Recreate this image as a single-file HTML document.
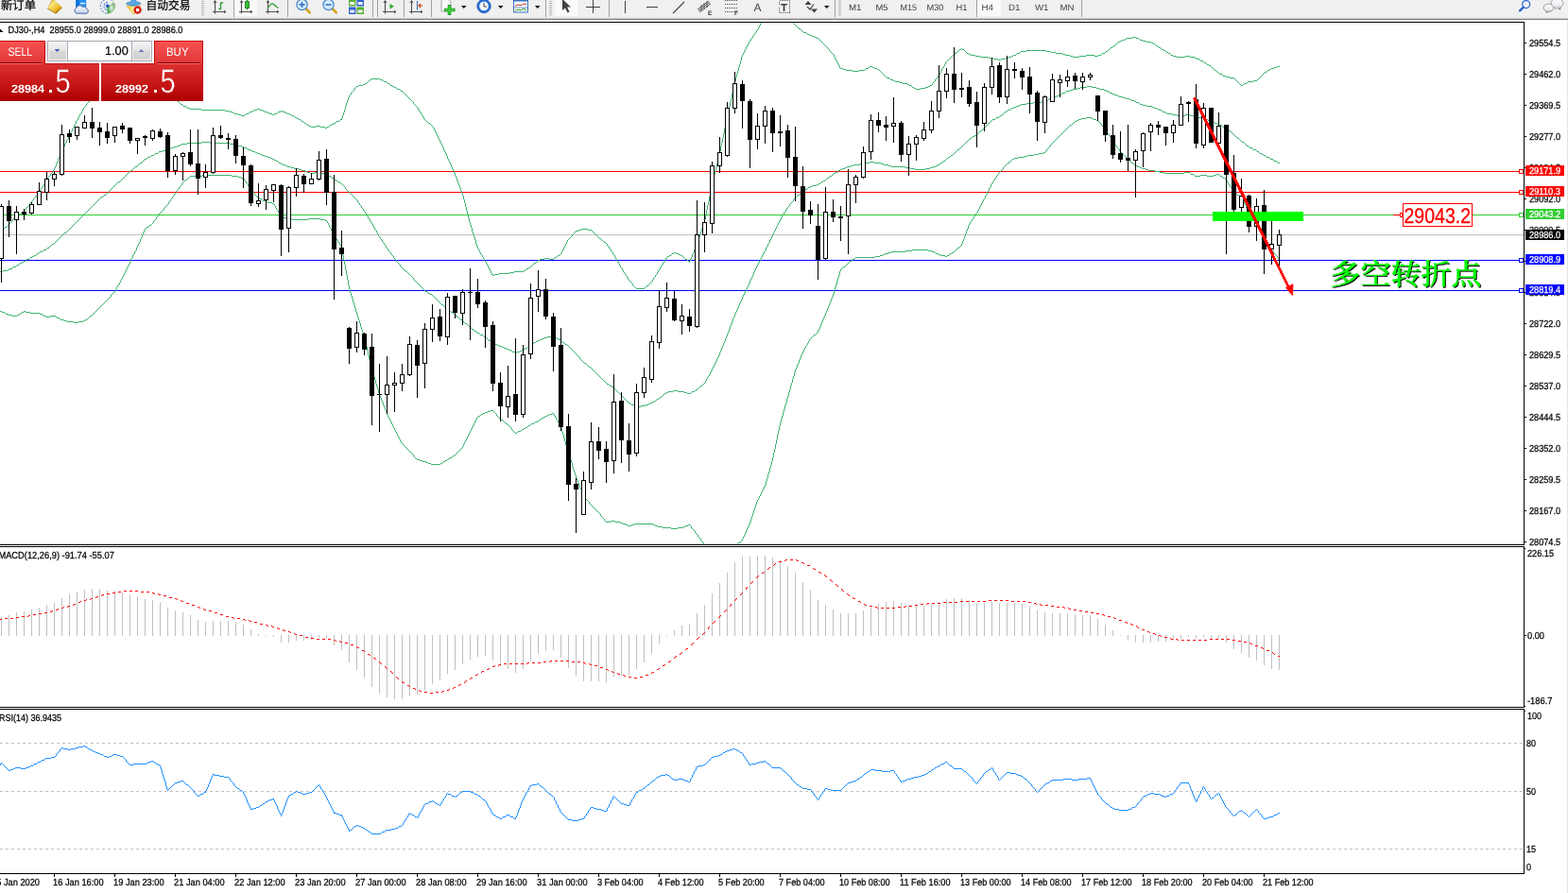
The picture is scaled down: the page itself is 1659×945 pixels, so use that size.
<!DOCTYPE html>
<html lang="zh">
<head>
<meta charset="utf-8">
<title>DJ30-,H4</title>
<style>
html,body{margin:0;padding:0;background:#fff;overflow:hidden}
svg{display:block}
svg text{white-space:pre}
</style>
</head>
<body>
<svg width="1659" height="945" viewBox="0 0 1659 945" shape-rendering="crispEdges" text-rendering="geometricPrecision" font-family="'Liberation Sans','DejaVu Sans',sans-serif">
<rect x="0" y="0" width="1659" height="945" fill="#fff" />
<clipPath id="cc"><rect x="0" y="24" width="1612" height="552"/></clipPath>
<g clip-path="url(#cc)">
<rect x="0" y="181" width="1612" height="1" fill="#ff0000" />
<rect x="0" y="203" width="1612" height="1" fill="#ff0000" />
<rect x="0" y="227" width="1612" height="1" fill="#32cd32" />
<rect x="0" y="248" width="1612" height="1" fill="#c0c0c0" />
<rect x="0" y="275" width="1612" height="1" fill="#0000ff" />
<rect x="0" y="307" width="1612" height="1" fill="#0000ff" />
<path d="M0 245h1v1h-1zM1 244h1v1h-1zM2 243h1v1h-1zM3 242h1v1h-1zM4 241h1v1h-1zM5 240h2v1h-2zM7 239h1v1h-1zM8 238h1v1h-1zM9 237h1v1h-1zM10 236h1v1h-1zM11 235h1v1h-1zM12 234h1v1h-1zM13 232h1v1h-1zM13 233h1v1h-1zM14 231h1v1h-1zM15 230h1v1h-1zM16 229h1v1h-1zM17 228h1v1h-1zM18 227h2v1h-2zM20 226h2v1h-2zM22 225h1v1h-1zM23 224h2v1h-2zM25 223h1v1h-1zM26 222h1v1h-1zM27 220h1v1h-1zM27 221h1v1h-1zM28 219h1v1h-1zM29 218h1v1h-1zM30 217h1v1h-1zM31 215h1v1h-1zM31 216h1v1h-1zM32 214h1v1h-1zM33 213h1v1h-1zM34 212h1v1h-1zM35 210h1v1h-1zM35 211h1v1h-1zM36 209h1v1h-1zM37 208h1v1h-1zM38 207h1v1h-1zM39 205h1v1h-1zM39 206h1v1h-1zM40 204h1v1h-1zM41 203h1v1h-1zM42 201h1v1h-1zM42 202h1v1h-1zM43 199h1v1h-1zM43 200h1v1h-1zM44 198h1v1h-1zM45 196h1v1h-1zM45 197h1v1h-1zM46 195h1v1h-1zM47 193h1v1h-1zM47 194h1v1h-1zM48 191h1v1h-1zM48 192h1v1h-1zM49 190h1v1h-1zM50 188h1v1h-1zM50 189h1v1h-1zM51 187h1v1h-1zM52 186h1v1h-1zM53 184h1v1h-1zM53 185h1v1h-1zM54 183h1v1h-1zM55 182h1v1h-1zM56 180h1v1h-1zM56 181h1v1h-1zM57 178h1v1h-1zM57 179h1v1h-1zM58 176h1v1h-1zM58 177h1v1h-1zM59 173h1v3h-1zM60 171h1v1h-1zM60 172h1v1h-1zM61 168h1v3h-1zM62 166h1v1h-1zM62 167h1v1h-1zM63 163h1v3h-1zM64 161h1v1h-1zM64 162h1v1h-1zM65 159h1v1h-1zM65 160h1v1h-1zM66 156h1v3h-1zM67 155h1v1h-1zM68 152h1v3h-1zM69 151h1v1h-1zM70 148h1v3h-1zM71 147h1v1h-1zM72 144h1v3h-1zM73 143h1v1h-1zM74 140h1v3h-1zM75 139h1v1h-1zM76 136h1v3h-1zM77 135h1v1h-1zM78 132h1v3h-1zM79 131h1v1h-1zM80 128h1v3h-1zM81 127h1v1h-1zM82 125h1v1h-1zM82 126h1v1h-1zM83 123h1v1h-1zM83 124h1v1h-1zM84 121h1v1h-1zM84 122h1v1h-1zM85 120h1v1h-1zM86 118h1v1h-1zM86 119h1v1h-1zM87 116h1v1h-1zM87 117h1v1h-1zM88 114h1v1h-1zM88 115h1v1h-1zM89 113h1v1h-1zM90 112h1v1h-1zM91 110h1v1h-1zM91 111h1v1h-1zM92 109h1v1h-1zM93 108h1v1h-1zM94 107h1v1h-1zM95 105h1v1h-1zM95 106h1v1h-1zM96 104h1v1h-1zM97 103h1v1h-1zM98 102h1v1h-1zM99 101h1v1h-1zM100 100h2v1h-2zM102 99h1v1h-1zM103 98h1v1h-1zM104 97h1v1h-1zM105 96h1v1h-1zM106 95h1v1h-1zM107 94h2v1h-2zM109 93h1v1h-1zM110 92h2v1h-2zM112 91h1v1h-1zM113 90h1v1h-1zM114 89h2v1h-2zM116 88h2v1h-2zM118 87h1v1h-1zM119 86h2v1h-2zM121 85h2v1h-2zM123 84h5v1h-5zM128 83h3v1h-3zM131 84h3v1h-3zM134 85h2v1h-2zM136 86h3v1h-3zM139 87h2v1h-2zM141 88h3v1h-3zM144 89h2v1h-2zM146 90h2v1h-2zM148 91h1v1h-1zM149 92h2v1h-2zM151 93h2v1h-2zM153 94h5v1h-5zM158 93h5v1h-5zM163 94h5v1h-5zM168 95h2v1h-2zM170 96h3v1h-3zM173 97h1v1h-1zM174 98h3v1h-3zM177 99h1v1h-1zM178 100h2v1h-2zM180 101h1v1h-1zM181 102h1v1h-1zM182 103h1v1h-1zM183 104h2v1h-2zM185 105h1v1h-1zM186 106h2v1h-2zM188 107h1v1h-1zM189 108h1v1h-1zM190 109h1v1h-1zM191 110h2v1h-2zM193 111h1v1h-1zM194 112h3v1h-3zM197 113h1v1h-1zM198 114h3v1h-3zM201 115h12v1h-12zM213 116h25v1h-25zM238 117h5v1h-5zM243 118h3v1h-3zM246 119h2v1h-2zM248 120h4v1h-4zM252 121h3v1h-3zM255 122h4v1h-4zM259 121h1v1h-1zM260 120h3v1h-3zM263 119h1v1h-1zM264 118h3v1h-3zM267 117h2v1h-2zM269 116h3v1h-3zM272 115h3v1h-3zM275 116h3v1h-3zM278 117h2v1h-2zM280 118h3v1h-3zM283 119h2v1h-2zM285 120h3v1h-3zM288 121h2v1h-2zM290 120h3v1h-3zM293 119h1v1h-1zM294 118h3v1h-3zM297 117h2v1h-2zM299 118h3v1h-3zM302 119h2v1h-2zM304 120h3v1h-3zM307 121h1v1h-1zM308 122h3v1h-3zM311 123h1v1h-1zM312 124h2v1h-2zM314 125h2v1h-2zM316 126h2v1h-2zM318 127h1v1h-1zM319 128h2v1h-2zM321 129h1v1h-1zM322 130h2v1h-2zM324 131h1v1h-1zM325 132h2v1h-2zM327 133h2v1h-2zM329 134h5v1h-5zM334 133h5v1h-5zM339 134h5v1h-5zM344 135h2v1h-2zM346 134h2v1h-2zM348 133h1v1h-1zM349 132h2v1h-2zM351 131h2v1h-2zM353 130h2v1h-2zM355 129h1v1h-1zM356 128h3v1h-3zM359 127h1v1h-1zM360 126h2v1h-2zM361 125h1v1h-1zM362 122h1v3h-1zM363 119h1v3h-1zM364 116h1v3h-1zM365 112h1v4h-1zM366 109h1v3h-1zM367 106h1v3h-1zM368 103h1v3h-1zM369 101h1v1h-1zM369 102h1v1h-1zM370 100h1v1h-1zM371 98h1v1h-1zM371 99h1v1h-1zM372 97h1v1h-1zM373 96h1v1h-1zM374 95h1v1h-1zM375 93h1v1h-1zM375 94h1v1h-1zM376 92h1v1h-1zM377 91h2v1h-2zM379 90h5v1h-5zM384 89h2v1h-2zM386 88h2v1h-2zM388 87h1v1h-1zM389 86h1v1h-1zM390 85h1v1h-1zM391 84h2v1h-2zM393 83h9v1h-9zM402 84h3v1h-3zM405 85h1v1h-1zM406 86h3v1h-3zM409 87h1v1h-1zM410 88h2v1h-2zM412 89h1v1h-1zM413 90h2v1h-2zM415 91h2v1h-2zM417 92h2v1h-2zM419 93h1v1h-1zM420 94h3v1h-3zM423 95h1v1h-1zM424 96h2v1h-2zM426 97h1v1h-1zM427 98h1v1h-1zM428 99h1v1h-1zM429 100h1v1h-1zM430 101h1v1h-1zM431 102h1v1h-1zM432 103h1v1h-1zM433 104h1v1h-1zM434 105h1v1h-1zM435 106h1v1h-1zM436 107h1v1h-1zM437 108h1v1h-1zM437 109h1v1h-1zM438 110h1v1h-1zM439 111h1v1h-1zM440 112h1v1h-1zM441 113h1v1h-1zM442 114h1v1h-1zM442 115h1v1h-1zM443 116h1v1h-1zM443 117h1v1h-1zM444 118h1v1h-1zM445 119h1v1h-1zM445 120h1v1h-1zM446 121h1v1h-1zM447 122h1v1h-1zM447 123h1v1h-1zM448 124h1v1h-1zM448 125h1v1h-1zM449 126h1v1h-1zM450 127h1v1h-1zM451 128h1v1h-1zM452 129h1v1h-1zM453 130h2v1h-2zM455 131h1v1h-1zM456 132h1v1h-1zM457 133h1v1h-1zM458 134h1v1h-1zM458 135h1v1h-1zM459 136h1v1h-1zM459 137h1v1h-1zM460 138h1v1h-1zM460 139h1v1h-1zM461 140h1v1h-1zM461 141h1v1h-1zM462 142h1v1h-1zM462 143h1v1h-1zM463 144h1v1h-1zM463 145h1v1h-1zM464 146h1v1h-1zM464 147h1v1h-1zM465 148h1v1h-1zM465 149h1v1h-1zM466 150h1v1h-1zM466 151h1v1h-1zM467 152h1v1h-1zM467 153h1v1h-1zM468 154h1v1h-1zM468 155h1v1h-1zM469 156h1v3h-1zM470 159h1v1h-1zM470 160h1v1h-1zM471 161h1v1h-1zM471 162h1v1h-1zM472 163h1v1h-1zM472 164h1v1h-1zM473 165h1v3h-1zM474 168h1v1h-1zM474 169h1v1h-1zM475 170h1v1h-1zM475 171h1v1h-1zM476 172h1v1h-1zM476 173h1v1h-1zM477 174h1v3h-1zM478 177h1v1h-1zM478 178h1v1h-1zM479 179h1v1h-1zM479 180h1v1h-1zM480 181h1v1h-1zM480 182h1v1h-1zM481 183h1v3h-1zM482 186h1v1h-1zM482 187h1v1h-1zM483 188h1v3h-1zM484 191h1v3h-1zM485 194h1v1h-1zM485 195h1v1h-1zM486 196h1v3h-1zM487 199h1v3h-1zM488 202h1v1h-1zM488 203h1v1h-1zM489 204h1v3h-1zM490 207h1v4h-1zM491 211h1v4h-1zM492 215h1v4h-1zM493 219h1v4h-1zM494 223h1v4h-1zM495 227h1v4h-1zM496 231h1v4h-1zM497 235h1v3h-1zM498 238h1v3h-1zM499 241h1v4h-1zM500 245h1v3h-1zM501 248h1v3h-1zM502 251h1v3h-1zM503 254h1v4h-1zM504 258h1v3h-1zM505 261h1v1h-1zM505 262h1v1h-1zM506 263h1v1h-1zM506 264h1v1h-1zM507 265h1v1h-1zM507 266h1v1h-1zM508 267h1v1h-1zM508 268h1v1h-1zM509 269h1v1h-1zM510 270h1v1h-1zM510 271h1v1h-1zM511 272h1v1h-1zM511 273h1v1h-1zM512 274h1v1h-1zM512 275h1v1h-1zM513 276h1v1h-1zM514 277h1v1h-1zM514 278h1v1h-1zM515 279h1v1h-1zM515 280h1v1h-1zM516 281h1v1h-1zM516 282h1v1h-1zM517 283h1v1h-1zM517 284h1v1h-1zM518 285h1v1h-1zM518 286h1v1h-1zM519 287h1v1h-1zM519 288h1v1h-1zM520 289h1v1h-1zM520 290h1v1h-1zM521 291h2v1h-2zM523 290h5v1h-5zM528 289h11v1h-11zM539 288h5v1h-5zM544 287h10v1h-10zM554 286h2v1h-2zM556 285h1v1h-1zM557 284h2v1h-2zM559 283h2v1h-2zM561 282h1v1h-1zM562 281h1v1h-1zM563 280h1v1h-1zM564 279h1v1h-1zM565 278h2v1h-2zM567 277h1v1h-1zM568 276h1v1h-1zM569 275h2v1h-2zM571 274h5v1h-5zM576 273h5v1h-5zM581 274h5v1h-5zM586 273h1v1h-1zM587 272h2v1h-2zM589 271h1v1h-1zM590 270h2v1h-2zM592 269h1v1h-1zM593 268h1v1h-1zM594 266h1v1h-1zM594 267h1v1h-1zM595 264h1v1h-1zM595 265h1v1h-1zM596 262h1v1h-1zM596 263h1v1h-1zM597 260h1v1h-1zM597 261h1v1h-1zM598 258h1v1h-1zM598 259h1v1h-1zM599 256h1v1h-1zM599 257h1v1h-1zM600 254h1v1h-1zM600 255h1v1h-1zM601 253h1v1h-1zM602 252h1v1h-1zM603 251h1v1h-1zM604 250h1v1h-1zM605 248h1v1h-1zM605 249h1v1h-1zM606 247h1v1h-1zM607 246h1v1h-1zM608 245h1v1h-1zM609 244h3v1h-3zM612 243h3v1h-3zM615 242h7v1h-7zM622 243h4v1h-4zM626 244h1v1h-1zM627 245h1v1h-1zM628 246h1v1h-1zM629 247h1v1h-1zM630 248h1v1h-1zM631 249h1v1h-1zM632 250h1v1h-1zM633 251h1v1h-1zM634 252h2v1h-2zM636 253h1v1h-1zM637 254h1v1h-1zM638 255h1v1h-1zM639 256h2v1h-2zM641 257h1v1h-1zM642 258h1v1h-1zM642 259h1v1h-1zM643 260h1v1h-1zM644 261h1v1h-1zM644 262h1v1h-1zM645 263h1v1h-1zM646 264h1v1h-1zM646 265h1v1h-1zM647 266h1v1h-1zM648 267h1v1h-1zM648 268h1v1h-1zM649 269h1v1h-1zM650 270h1v1h-1zM650 271h1v1h-1zM651 272h1v1h-1zM651 273h1v1h-1zM652 274h1v1h-1zM652 275h1v1h-1zM653 276h1v1h-1zM654 277h1v1h-1zM654 278h1v1h-1zM655 279h1v1h-1zM655 280h1v1h-1zM656 281h1v1h-1zM656 282h1v1h-1zM657 283h1v1h-1zM658 284h1v1h-1zM658 285h1v1h-1zM659 286h1v1h-1zM659 287h1v1h-1zM660 288h1v1h-1zM661 289h1v1h-1zM661 290h1v1h-1zM662 291h1v1h-1zM663 292h1v1h-1zM663 293h1v1h-1zM664 294h1v1h-1zM664 295h1v1h-1zM665 296h1v1h-1zM666 297h1v1h-1zM667 298h1v1h-1zM668 299h1v1h-1zM669 300h1v1h-1zM669 301h1v1h-1zM670 302h1v1h-1zM671 303h1v1h-1zM672 304h1v1h-1zM673 305h9v1h-9zM682 304h1v1h-1zM683 303h1v1h-1zM684 302h2v1h-2zM686 301h1v1h-1zM687 300h1v1h-1zM688 299h1v1h-1zM689 298h1v1h-1zM690 296h1v1h-1zM690 297h1v1h-1zM691 294h1v1h-1zM691 295h1v1h-1zM692 293h1v1h-1zM693 291h1v1h-1zM693 292h1v1h-1zM694 290h1v1h-1zM695 288h1v1h-1zM695 289h1v1h-1zM696 286h1v1h-1zM696 287h1v1h-1zM697 285h1v1h-1zM698 283h1v1h-1zM698 284h1v1h-1zM699 281h1v1h-1zM699 282h1v1h-1zM700 280h1v1h-1zM701 278h1v1h-1zM701 279h1v1h-1zM702 277h1v1h-1zM703 275h1v1h-1zM703 276h1v1h-1zM704 273h1v1h-1zM704 274h1v1h-1zM705 272h1v1h-1zM706 271h2v1h-2zM708 270h2v1h-2zM710 269h1v1h-1zM711 268h2v1h-2zM713 267h2v1h-2zM715 268h3v1h-3zM718 269h2v1h-2zM720 270h2v1h-2zM722 271h1v1h-1zM723 272h1v1h-1zM724 273h1v1h-1zM725 274h2v1h-2zM727 275h1v1h-1zM728 276h2v1h-2zM729 277h1v1h-1zM730 274h1v1h-1zM730 275h1v1h-1zM731 272h1v1h-1zM731 273h1v1h-1zM732 269h1v3h-1zM733 267h1v1h-1zM733 268h1v1h-1zM734 264h1v3h-1zM735 262h1v1h-1zM735 263h1v1h-1zM736 260h1v1h-1zM736 261h1v1h-1zM737 257h1v3h-1zM738 254h1v3h-1zM739 251h1v3h-1zM740 248h1v3h-1zM741 245h1v3h-1zM742 242h1v3h-1zM743 239h1v3h-1zM744 236h1v3h-1zM745 232h1v4h-1zM746 227h1v5h-1zM747 222h1v5h-1zM748 217h1v5h-1zM749 213h1v4h-1zM750 208h1v5h-1zM751 203h1v5h-1zM752 198h1v5h-1zM753 193h1v5h-1zM754 189h1v4h-1zM755 185h1v4h-1zM756 181h1v4h-1zM757 177h1v4h-1zM758 173h1v4h-1zM759 169h1v4h-1zM760 165h1v4h-1zM761 160h1v5h-1zM762 155h1v5h-1zM763 151h1v4h-1zM764 146h1v5h-1zM765 141h1v5h-1zM766 136h1v5h-1zM767 132h1v4h-1zM768 127h1v5h-1zM769 122h1v5h-1zM770 118h1v4h-1zM771 113h1v5h-1zM772 108h1v5h-1zM773 104h1v4h-1zM774 99h1v5h-1zM775 94h1v5h-1zM776 90h1v4h-1zM777 86h1v4h-1zM778 82h1v4h-1zM779 78h1v4h-1zM780 75h1v3h-1zM781 71h1v4h-1zM782 68h1v3h-1zM783 64h1v4h-1zM784 60h1v4h-1zM785 58h1v1h-1zM785 59h1v1h-1zM786 56h1v1h-1zM786 57h1v1h-1zM787 54h1v1h-1zM787 55h1v1h-1zM788 52h1v1h-1zM788 53h1v1h-1zM789 50h1v1h-1zM789 51h1v1h-1zM790 48h1v1h-1zM790 49h1v1h-1zM791 46h1v1h-1zM791 47h1v1h-1zM792 44h1v1h-1zM792 45h1v1h-1zM793 43h1v1h-1zM794 41h1v1h-1zM794 42h1v1h-1zM795 40h1v1h-1zM796 38h1v1h-1zM796 39h1v1h-1zM797 37h1v1h-1zM798 35h1v1h-1zM798 36h1v1h-1zM799 34h1v1h-1zM800 32h1v1h-1zM800 33h1v1h-1zM801 31h1v1h-1zM802 29h1v1h-1zM802 30h1v1h-1zM803 27h1v1h-1zM803 28h1v1h-1zM804 25h1v1h-1zM804 26h1v1h-1zM805 24h1v1h-1zM839 24h1v1h-1zM840 25h1v1h-1zM841 26h1v1h-1zM842 27h1v1h-1zM843 28h1v1h-1zM844 29h1v1h-1zM845 30h2v1h-2zM847 31h1v1h-1zM848 32h1v1h-1zM849 33h1v1h-1zM850 34h3v1h-3zM853 35h1v1h-1zM854 36h3v1h-3zM857 37h2v1h-2zM859 38h3v1h-3zM862 39h2v1h-2zM864 40h2v1h-2zM866 41h1v1h-1zM867 42h1v1h-1zM868 43h1v1h-1zM869 44h1v1h-1zM870 45h1v1h-1zM871 46h1v1h-1zM872 47h1v1h-1zM873 48h1v1h-1zM874 49h1v1h-1zM875 50h1v1h-1zM876 51h1v1h-1zM877 52h1v1h-1zM877 53h1v1h-1zM878 54h1v1h-1zM879 55h1v1h-1zM880 56h1v1h-1zM881 57h1v1h-1zM882 58h1v1h-1zM882 59h1v1h-1zM883 60h1v1h-1zM883 61h1v1h-1zM884 62h1v1h-1zM884 63h1v1h-1zM885 64h1v1h-1zM885 65h1v1h-1zM886 66h1v1h-1zM886 67h1v1h-1zM887 68h1v1h-1zM887 69h1v1h-1zM888 70h1v1h-1zM888 71h1v1h-1zM889 72h3v1h-3zM892 73h3v1h-3zM895 74h7v1h-7zM902 75h7v1h-7zM909 74h6v1h-6zM915 73h1v1h-1zM916 72h3v1h-3zM919 71h1v1h-1zM920 70h3v1h-3zM923 71h2v1h-2zM925 72h3v1h-3zM928 73h2v1h-2zM930 74h1v1h-1zM931 75h1v1h-1zM932 76h1v1h-1zM933 77h1v1h-1zM934 78h1v1h-1zM935 79h1v1h-1zM936 80h1v1h-1zM937 81h1v1h-1zM938 82h3v1h-3zM941 83h1v1h-1zM942 84h3v1h-3zM945 85h2v1h-2zM947 86h5v1h-5zM952 87h3v1h-3zM955 88h5v1h-5zM960 89h2v1h-2zM962 90h2v1h-2zM964 91h1v1h-1zM965 92h2v1h-2zM967 93h2v1h-2zM969 94h5v1h-5zM974 93h5v1h-5zM979 92h3v1h-3zM982 91h2v1h-2zM984 90h2v1h-2zM986 88h1v1h-1zM986 89h1v1h-1zM987 87h1v1h-1zM988 86h1v1h-1zM989 84h1v1h-1zM989 85h1v1h-1zM990 83h1v1h-1zM991 82h1v1h-1zM992 80h1v1h-1zM992 81h1v1h-1zM993 79h1v1h-1zM994 77h1v1h-1zM994 78h1v1h-1zM995 75h1v1h-1zM995 76h1v1h-1zM996 73h1v1h-1zM996 74h1v1h-1zM997 72h1v1h-1zM998 70h1v1h-1zM998 71h1v1h-1zM999 68h1v1h-1zM999 69h1v1h-1zM1000 66h1v1h-1zM1000 67h1v1h-1zM1001 65h1v1h-1zM1002 64h1v1h-1zM1003 63h1v1h-1zM1004 62h1v1h-1zM1005 61h1v1h-1zM1006 60h1v1h-1zM1007 59h1v1h-1zM1008 58h1v1h-1zM1009 57h1v1h-1zM1010 56h2v1h-2zM1012 55h1v1h-1zM1013 54h1v1h-1zM1014 53h1v1h-1zM1015 52h2v1h-2zM1017 51h1v1h-1zM1018 52h2v1h-2zM1020 53h1v1h-1zM1021 54h1v1h-1zM1022 55h1v1h-1zM1023 56h2v1h-2zM1025 57h2v1h-2zM1027 58h5v1h-5zM1032 59h5v1h-5zM1037 60h9v1h-9zM1046 61h5v1h-5zM1051 62h5v1h-5zM1056 63h3v1h-3zM1059 62h5v1h-5zM1064 61h3v1h-3zM1067 60h3v1h-3zM1070 59h2v1h-2zM1072 58h3v1h-3zM1075 57h1v1h-1zM1076 56h3v1h-3zM1079 55h1v1h-1zM1080 54h6v1h-6zM1086 53h21v1h-21zM1107 54h5v1h-5zM1112 55h5v1h-5zM1117 56h7v1h-7zM1124 57h3v1h-3zM1127 58h5v1h-5zM1132 59h3v1h-3zM1135 60h7v1h-7zM1142 59h7v1h-7zM1149 58h9v1h-9zM1158 59h4v1h-4zM1162 58h3v1h-3zM1165 57h1v1h-1zM1166 56h3v1h-3zM1169 55h1v1h-1zM1170 54h2v1h-2zM1172 53h1v1h-1zM1173 52h1v1h-1zM1174 51h1v1h-1zM1175 50h2v1h-2zM1177 49h1v1h-1zM1178 48h2v1h-2zM1180 47h1v1h-1zM1181 46h1v1h-1zM1182 45h1v1h-1zM1183 44h2v1h-2zM1185 43h2v1h-2zM1187 42h3v1h-3zM1190 41h2v1h-2zM1192 40h6v1h-6zM1198 39h4v1h-4zM1202 40h3v1h-3zM1205 41h1v1h-1zM1206 42h3v1h-3zM1209 43h4v1h-4zM1213 44h5v1h-5zM1218 45h2v1h-2zM1220 46h2v1h-2zM1222 47h1v1h-1zM1223 48h2v1h-2zM1225 49h1v1h-1zM1226 50h2v1h-2zM1228 51h1v1h-1zM1229 52h2v1h-2zM1231 53h2v1h-2zM1233 54h1v1h-1zM1234 55h2v1h-2zM1236 56h2v1h-2zM1238 57h1v1h-1zM1239 58h2v1h-2zM1241 59h4v1h-4zM1245 60h9v1h-9zM1254 59h5v1h-5zM1259 60h5v1h-5zM1264 61h2v1h-2zM1266 62h3v1h-3zM1269 63h1v1h-1zM1270 64h3v1h-3zM1273 65h1v1h-1zM1274 66h2v1h-2zM1276 67h1v1h-1zM1277 68h2v1h-2zM1279 69h2v1h-2zM1281 70h1v1h-1zM1282 71h1v1h-1zM1283 72h1v1h-1zM1284 73h1v1h-1zM1285 74h2v1h-2zM1287 75h1v1h-1zM1288 76h1v1h-1zM1289 77h1v1h-1zM1290 78h3v1h-3zM1293 79h1v1h-1zM1294 80h3v1h-3zM1297 81h4v1h-4zM1301 82h5v1h-5zM1306 83h1v1h-1zM1307 84h1v1h-1zM1308 85h1v1h-1zM1309 86h1v1h-1zM1310 87h1v1h-1zM1311 88h1v1h-1zM1312 89h1v1h-1zM1313 90h2v1h-2zM1315 89h1v1h-1zM1316 88h3v1h-3zM1319 87h1v1h-1zM1320 86h6v1h-6zM1326 85h4v1h-4zM1330 84h1v1h-1zM1331 83h1v1h-1zM1332 82h1v1h-1zM1333 81h1v1h-1zM1334 80h1v1h-1zM1335 79h1v1h-1zM1336 78h1v1h-1zM1337 77h1v1h-1zM1338 76h2v1h-2zM1340 75h1v1h-1zM1341 74h2v1h-2zM1343 73h2v1h-2zM1345 72h3v1h-3zM1348 71h3v1h-3zM1351 70h3v1h-3z" fill="#3cb371"/>
<path d="M0 287h3v1h-3zM3 286h5v1h-5zM8 285h2v1h-2zM10 284h3v1h-3zM13 283h1v1h-1zM14 282h3v1h-3zM17 281h1v1h-1zM18 280h2v1h-2zM20 279h1v1h-1zM21 278h2v1h-2zM23 277h2v1h-2zM25 276h2v1h-2zM27 275h1v1h-1zM28 274h3v1h-3zM31 273h1v1h-1zM32 272h2v1h-2zM34 271h2v1h-2zM36 270h2v1h-2zM38 269h1v1h-1zM39 268h2v1h-2zM41 267h1v1h-1zM42 266h3v1h-3zM45 265h1v1h-1zM46 264h3v1h-3zM49 263h1v1h-1zM50 262h2v1h-2zM52 261h1v1h-1zM53 260h1v1h-1zM54 259h1v1h-1zM55 258h2v1h-2zM57 257h1v1h-1zM58 256h1v1h-1zM59 255h1v1h-1zM60 254h1v1h-1zM61 253h1v1h-1zM62 252h1v1h-1zM63 251h1v1h-1zM64 250h1v1h-1zM65 249h1v1h-1zM66 248h1v1h-1zM67 247h1v1h-1zM68 246h2v1h-2zM70 245h1v1h-1zM71 244h1v1h-1zM72 243h1v1h-1zM73 242h1v1h-1zM74 241h1v1h-1zM75 240h1v1h-1zM76 239h1v1h-1zM77 238h1v1h-1zM78 237h1v1h-1zM79 236h1v1h-1zM80 235h1v1h-1zM81 234h1v1h-1zM82 233h1v1h-1zM83 232h1v1h-1zM84 231h1v1h-1zM85 230h1v1h-1zM86 229h1v1h-1zM87 228h1v1h-1zM88 227h1v1h-1zM89 226h1v1h-1zM90 225h1v1h-1zM91 224h1v1h-1zM92 223h1v1h-1zM93 222h1v1h-1zM94 221h1v1h-1zM95 220h1v1h-1zM96 219h1v1h-1zM97 218h1v1h-1zM98 217h1v1h-1zM99 216h1v1h-1zM100 215h1v1h-1zM101 214h1v1h-1zM102 213h1v1h-1zM103 212h1v1h-1zM104 211h1v1h-1zM105 210h1v1h-1zM106 209h1v1h-1zM107 208h2v1h-2zM109 207h1v1h-1zM110 206h2v1h-2zM112 205h1v1h-1zM113 204h1v1h-1zM114 203h1v1h-1zM115 202h1v1h-1zM116 201h1v1h-1zM117 200h1v1h-1zM118 199h1v1h-1zM119 198h1v1h-1zM120 197h1v1h-1zM121 196h1v1h-1zM122 195h1v1h-1zM123 194h1v1h-1zM124 193h1v1h-1zM125 192h2v1h-2zM127 191h1v1h-1zM128 190h1v1h-1zM129 189h1v1h-1zM130 188h1v1h-1zM131 187h1v1h-1zM132 186h1v1h-1zM133 185h1v1h-1zM134 184h1v1h-1zM135 183h1v1h-1zM136 182h1v1h-1zM137 181h1v1h-1zM138 180h2v1h-2zM140 179h1v1h-1zM141 178h1v1h-1zM142 177h1v1h-1zM143 176h2v1h-2zM145 175h1v1h-1zM146 174h1v1h-1zM147 173h1v1h-1zM148 172h2v1h-2zM150 171h1v1h-1zM151 170h1v1h-1zM152 169h1v1h-1zM153 168h2v1h-2zM155 167h1v1h-1zM156 166h3v1h-3zM159 165h1v1h-1zM160 164h3v1h-3zM163 163h1v1h-1zM164 162h3v1h-3zM167 161h1v1h-1zM168 160h4v1h-4zM172 159h3v1h-3zM175 158h4v1h-4zM179 157h2v1h-2zM181 156h3v1h-3zM184 155h3v1h-3zM187 154h3v1h-3zM190 153h2v1h-2zM192 152h6v1h-6zM198 151h15v1h-15zM213 150h9v1h-9zM222 151h21v1h-21zM243 152h5v1h-5zM248 153h3v1h-3zM251 154h5v1h-5zM256 155h2v1h-2zM258 156h3v1h-3zM261 157h1v1h-1zM262 158h3v1h-3zM265 159h2v1h-2zM267 160h3v1h-3zM270 161h2v1h-2zM272 162h3v1h-3zM275 163h2v1h-2zM277 164h3v1h-3zM280 165h3v1h-3zM283 166h3v1h-3zM286 167h2v1h-2zM288 168h2v1h-2zM290 169h2v1h-2zM292 170h2v1h-2zM294 171h1v1h-1zM295 172h2v1h-2zM297 173h2v1h-2zM299 174h3v1h-3zM302 175h2v1h-2zM304 176h4v1h-4zM308 177h3v1h-3zM311 178h5v1h-5zM316 179h3v1h-3zM319 180h4v1h-4zM323 181h2v1h-2zM325 182h3v1h-3zM328 183h5v1h-5zM333 182h7v1h-7zM340 183h3v1h-3zM343 184h3v1h-3zM346 185h2v1h-2zM348 186h2v1h-2zM350 187h1v1h-1zM351 188h2v1h-2zM353 189h1v1h-1zM354 190h2v1h-2zM356 191h1v1h-1zM357 192h2v1h-2zM359 193h2v1h-2zM361 194h1v1h-1zM362 195h1v1h-1zM363 196h1v1h-1zM364 197h1v1h-1zM365 198h1v1h-1zM365 199h1v1h-1zM366 200h1v1h-1zM367 201h1v1h-1zM368 202h1v1h-1zM369 203h1v1h-1zM370 204h1v1h-1zM371 205h1v1h-1zM372 206h1v1h-1zM373 207h1v1h-1zM374 208h1v1h-1zM375 209h1v1h-1zM376 210h1v1h-1zM377 211h1v1h-1zM378 212h1v1h-1zM378 213h1v1h-1zM379 214h1v1h-1zM380 215h1v1h-1zM380 216h1v1h-1zM381 217h1v1h-1zM382 218h1v1h-1zM382 219h1v1h-1zM383 220h1v1h-1zM384 221h1v1h-1zM384 222h1v1h-1zM385 223h1v1h-1zM386 224h1v1h-1zM386 225h1v1h-1zM387 226h1v1h-1zM387 227h1v1h-1zM388 228h1v1h-1zM389 229h1v1h-1zM389 230h1v1h-1zM390 231h1v1h-1zM391 232h1v1h-1zM391 233h1v1h-1zM392 234h1v1h-1zM392 235h1v1h-1zM393 236h1v1h-1zM394 237h1v1h-1zM394 238h1v1h-1zM395 239h1v1h-1zM395 240h1v1h-1zM396 241h1v1h-1zM396 242h1v1h-1zM397 243h1v1h-1zM398 244h1v1h-1zM398 245h1v1h-1zM399 246h1v1h-1zM399 247h1v1h-1zM400 248h1v1h-1zM400 249h1v1h-1zM401 250h1v1h-1zM402 251h1v1h-1zM402 252h1v1h-1zM403 253h1v1h-1zM404 254h1v1h-1zM404 255h1v1h-1zM405 256h1v1h-1zM406 257h1v1h-1zM406 258h1v1h-1zM407 259h1v1h-1zM408 260h1v1h-1zM408 261h1v1h-1zM409 262h1v1h-1zM410 263h1v1h-1zM410 264h1v1h-1zM411 265h1v1h-1zM412 266h1v1h-1zM413 267h1v1h-1zM413 268h1v1h-1zM414 269h1v1h-1zM415 270h1v1h-1zM416 271h1v1h-1zM416 272h1v1h-1zM417 273h1v1h-1zM418 274h1v1h-1zM419 275h1v1h-1zM419 276h1v1h-1zM420 277h1v1h-1zM421 278h1v1h-1zM422 279h1v1h-1zM423 280h1v1h-1zM423 281h1v1h-1zM424 282h1v1h-1zM425 283h1v1h-1zM426 284h1v1h-1zM427 285h1v1h-1zM428 286h2v1h-2zM430 287h1v1h-1zM431 288h1v1h-1zM432 289h1v1h-1zM433 290h1v1h-1zM434 291h1v1h-1zM435 292h1v1h-1zM436 293h1v1h-1zM437 294h1v1h-1zM437 295h1v1h-1zM438 296h1v1h-1zM439 297h1v1h-1zM440 298h1v1h-1zM441 299h1v1h-1zM442 300h1v1h-1zM443 301h1v1h-1zM444 302h1v1h-1zM445 303h1v1h-1zM446 304h1v1h-1zM447 305h1v1h-1zM448 306h1v1h-1zM449 307h1v1h-1zM450 308h2v1h-2zM452 309h1v1h-1zM453 310h2v1h-2zM455 311h2v1h-2zM457 312h1v1h-1zM458 313h1v1h-1zM459 314h1v1h-1zM460 315h1v1h-1zM461 316h1v1h-1zM462 317h1v1h-1zM463 318h1v1h-1zM464 319h1v1h-1zM465 320h1v1h-1zM466 321h1v1h-1zM467 322h2v1h-2zM469 323h1v1h-1zM470 324h2v1h-2zM472 325h1v1h-1zM473 326h1v1h-1zM474 327h1v1h-1zM475 328h1v1h-1zM476 329h1v1h-1zM477 330h2v1h-2zM479 331h1v1h-1zM480 332h1v1h-1zM481 333h1v1h-1zM482 334h2v1h-2zM484 335h1v1h-1zM485 336h1v1h-1zM486 337h1v1h-1zM487 338h2v1h-2zM489 339h1v1h-1zM490 340h1v1h-1zM491 341h1v1h-1zM492 342h2v1h-2zM494 343h1v1h-1zM495 344h1v1h-1zM496 345h1v1h-1zM497 346h1v1h-1zM498 347h1v1h-1zM499 348h2v1h-2zM501 349h1v1h-1zM502 350h2v1h-2zM504 351h1v1h-1zM505 352h2v1h-2zM507 353h1v1h-1zM508 354h3v1h-3zM511 355h1v1h-1zM512 356h2v1h-2zM514 357h1v1h-1zM515 358h1v1h-1zM516 359h1v1h-1zM517 360h2v1h-2zM519 361h1v1h-1zM520 362h1v1h-1zM521 363h2v1h-2zM523 364h3v1h-3zM526 365h2v1h-2zM528 366h3v1h-3zM531 367h2v1h-2zM533 368h3v1h-3zM536 369h2v1h-2zM538 370h3v1h-3zM541 371h1v1h-1zM542 372h3v1h-3zM545 373h2v1h-2zM547 372h3v1h-3zM550 371h2v1h-2zM552 370h2v1h-2zM554 369h2v1h-2zM556 368h2v1h-2zM558 367h1v1h-1zM559 366h2v1h-2zM561 365h1v1h-1zM562 364h2v1h-2zM564 363h1v1h-1zM565 362h2v1h-2zM567 361h2v1h-2zM569 360h2v1h-2zM571 359h2v1h-2zM573 358h3v1h-3zM576 357h3v1h-3zM579 356h5v1h-5zM584 355h2v1h-2zM586 356h2v1h-2zM588 357h1v1h-1zM589 358h2v1h-2zM591 359h2v1h-2zM593 360h1v1h-1zM594 361h1v1h-1zM595 362h2v1h-2zM597 363h1v1h-1zM598 364h2v1h-2zM600 365h1v1h-1zM601 366h1v1h-1zM602 367h1v1h-1zM603 368h1v1h-1zM604 369h1v1h-1zM605 370h1v1h-1zM606 371h1v1h-1zM607 372h1v1h-1zM608 373h1v1h-1zM609 374h1v1h-1zM610 375h1v1h-1zM611 376h1v1h-1zM612 377h1v1h-1zM613 378h1v1h-1zM613 379h1v1h-1zM614 380h1v1h-1zM615 381h1v1h-1zM616 382h1v1h-1zM617 383h1v1h-1zM618 384h2v1h-2zM620 385h1v1h-1zM621 386h1v1h-1zM622 387h1v1h-1zM623 388h2v1h-2zM625 389h1v1h-1zM626 390h1v1h-1zM627 391h1v1h-1zM628 392h1v1h-1zM629 393h1v1h-1zM630 394h1v1h-1zM631 395h1v1h-1zM632 396h1v1h-1zM633 397h1v1h-1zM634 398h1v1h-1zM635 399h1v1h-1zM636 400h1v1h-1zM637 401h1v1h-1zM638 402h1v1h-1zM639 403h1v1h-1zM640 404h1v1h-1zM641 405h1v1h-1zM642 406h2v1h-2zM644 407h1v1h-1zM645 408h2v1h-2zM647 409h2v1h-2zM649 410h1v1h-1zM650 411h1v1h-1zM651 412h1v1h-1zM652 413h1v1h-1zM653 414h1v1h-1zM654 415h1v1h-1zM655 416h1v1h-1zM656 417h1v1h-1zM657 418h1v1h-1zM658 419h1v1h-1zM659 420h1v1h-1zM660 421h1v1h-1zM661 422h1v1h-1zM662 423h1v1h-1zM663 424h1v1h-1zM664 425h1v1h-1zM665 426h2v1h-2zM667 427h1v1h-1zM668 428h3v1h-3zM671 429h1v1h-1zM672 430h6v1h-6zM678 429h5v1h-5zM683 428h3v1h-3zM686 427h2v1h-2zM688 426h2v1h-2zM690 425h2v1h-2zM692 424h2v1h-2zM694 423h1v1h-1zM695 422h2v1h-2zM697 421h1v1h-1zM698 420h2v1h-2zM700 419h1v1h-1zM701 418h1v1h-1zM702 417h1v1h-1zM703 416h2v1h-2zM705 415h2v1h-2zM707 414h5v1h-5zM712 413h5v1h-5zM717 414h7v1h-7zM724 415h3v1h-3zM727 416h4v1h-4zM731 415h1v1h-1zM732 414h3v1h-3zM735 413h1v1h-1zM736 412h2v1h-2zM738 411h1v1h-1zM739 410h1v1h-1zM740 409h1v1h-1zM741 408h2v1h-2zM743 407h1v1h-1zM744 406h1v1h-1zM745 405h1v1h-1zM746 403h1v1h-1zM746 404h1v1h-1zM747 401h1v1h-1zM747 402h1v1h-1zM748 399h1v1h-1zM748 400h1v1h-1zM749 398h1v1h-1zM750 396h1v1h-1zM750 397h1v1h-1zM751 394h1v1h-1zM751 395h1v1h-1zM752 392h1v1h-1zM752 393h1v1h-1zM753 390h1v1h-1zM753 391h1v1h-1zM754 388h1v1h-1zM754 389h1v1h-1zM755 386h1v1h-1zM755 387h1v1h-1zM756 384h1v1h-1zM756 385h1v1h-1zM757 382h1v1h-1zM757 383h1v1h-1zM758 380h1v1h-1zM758 381h1v1h-1zM759 378h1v1h-1zM759 379h1v1h-1zM760 376h1v1h-1zM760 377h1v1h-1zM761 373h1v3h-1zM762 371h1v1h-1zM762 372h1v1h-1zM763 368h1v3h-1zM764 366h1v1h-1zM764 367h1v1h-1zM765 363h1v3h-1zM766 361h1v1h-1zM766 362h1v1h-1zM767 358h1v3h-1zM768 356h1v1h-1zM768 357h1v1h-1zM769 353h1v3h-1zM770 351h1v1h-1zM770 352h1v1h-1zM771 348h1v3h-1zM772 345h1v3h-1zM773 343h1v1h-1zM773 344h1v1h-1zM774 340h1v3h-1zM775 337h1v3h-1zM776 335h1v1h-1zM776 336h1v1h-1zM777 332h1v3h-1zM778 330h1v1h-1zM778 331h1v1h-1zM779 328h1v1h-1zM779 329h1v1h-1zM780 326h1v1h-1zM780 327h1v1h-1zM781 323h1v3h-1zM782 321h1v1h-1zM782 322h1v1h-1zM783 319h1v1h-1zM783 320h1v1h-1zM784 317h1v1h-1zM784 318h1v1h-1zM785 314h1v3h-1zM786 312h1v1h-1zM786 313h1v1h-1zM787 310h1v1h-1zM787 311h1v1h-1zM788 308h1v1h-1zM788 309h1v1h-1zM789 306h1v1h-1zM789 307h1v1h-1zM790 304h1v1h-1zM790 305h1v1h-1zM791 302h1v1h-1zM791 303h1v1h-1zM792 300h1v1h-1zM792 301h1v1h-1zM793 297h1v3h-1zM794 295h1v1h-1zM794 296h1v1h-1zM795 293h1v1h-1zM795 294h1v1h-1zM796 291h1v1h-1zM796 292h1v1h-1zM797 288h1v3h-1zM798 286h1v1h-1zM798 287h1v1h-1zM799 284h1v1h-1zM799 285h1v1h-1zM800 282h1v1h-1zM800 283h1v1h-1zM801 280h1v1h-1zM801 281h1v1h-1zM802 278h1v1h-1zM802 279h1v1h-1zM803 276h1v1h-1zM803 277h1v1h-1zM804 274h1v1h-1zM804 275h1v1h-1zM805 272h1v1h-1zM805 273h1v1h-1zM806 270h1v1h-1zM806 271h1v1h-1zM807 268h1v1h-1zM807 269h1v1h-1zM808 266h1v1h-1zM808 267h1v1h-1zM809 265h1v1h-1zM810 262h1v3h-1zM811 261h1v1h-1zM812 258h1v3h-1zM813 257h1v1h-1zM814 254h1v3h-1zM815 253h1v1h-1zM816 250h1v3h-1zM817 248h1v1h-1zM817 249h1v1h-1zM818 246h1v1h-1zM818 247h1v1h-1zM819 244h1v1h-1zM819 245h1v1h-1zM820 242h1v1h-1zM820 243h1v1h-1zM821 240h1v1h-1zM821 241h1v1h-1zM822 238h1v1h-1zM822 239h1v1h-1zM823 236h1v1h-1zM823 237h1v1h-1zM824 234h1v1h-1zM824 235h1v1h-1zM825 232h1v1h-1zM825 233h1v1h-1zM826 230h1v1h-1zM826 231h1v1h-1zM827 228h1v1h-1zM827 229h1v1h-1zM828 227h1v1h-1zM829 225h1v1h-1zM829 226h1v1h-1zM830 224h1v1h-1zM831 222h1v1h-1zM831 223h1v1h-1zM832 220h1v1h-1zM832 221h1v1h-1zM833 219h1v1h-1zM834 218h1v1h-1zM835 216h1v1h-1zM835 217h1v1h-1zM836 215h1v1h-1zM837 214h1v1h-1zM838 213h1v1h-1zM839 211h1v1h-1zM839 212h1v1h-1zM840 210h1v1h-1zM841 209h1v1h-1zM842 208h1v1h-1zM843 207h1v1h-1zM844 206h2v1h-2zM846 205h1v1h-1zM847 204h1v1h-1zM848 203h1v1h-1zM849 202h1v1h-1zM850 201h2v1h-2zM852 200h2v1h-2zM854 199h1v1h-1zM855 198h2v1h-2zM857 197h2v1h-2zM859 196h5v1h-5zM864 195h2v1h-2zM866 194h2v1h-2zM868 193h1v1h-1zM869 192h2v1h-2zM871 191h2v1h-2zM873 190h1v1h-1zM874 189h1v1h-1zM875 188h2v1h-2zM877 187h1v1h-1zM878 186h2v1h-2zM880 185h1v1h-1zM881 184h1v1h-1zM882 183h2v1h-2zM884 182h2v1h-2zM886 181h1v1h-1zM887 180h2v1h-2zM889 179h2v1h-2zM891 178h3v1h-3zM894 177h2v1h-2zM896 176h4v1h-4zM900 175h3v1h-3zM903 174h7v1h-7zM910 173h5v1h-5zM915 172h5v1h-5zM920 171h5v1h-5zM925 172h7v1h-7zM932 173h3v1h-3zM935 174h5v1h-5zM940 175h3v1h-3zM943 176h15v1h-15zM958 177h5v1h-5zM963 178h5v1h-5zM968 179h11v1h-11zM979 178h5v1h-5zM984 177h3v1h-3zM987 176h3v1h-3zM990 175h2v1h-2zM992 174h2v1h-2zM994 173h1v1h-1zM995 172h2v1h-2zM997 171h1v1h-1zM998 170h2v1h-2zM1000 169h1v1h-1zM1001 168h1v1h-1zM1002 167h1v1h-1zM1003 166h2v1h-2zM1005 165h1v1h-1zM1006 164h2v1h-2zM1008 163h1v1h-1zM1009 162h1v1h-1zM1010 161h1v1h-1zM1011 160h1v1h-1zM1012 159h1v1h-1zM1013 158h2v1h-2zM1015 157h1v1h-1zM1016 156h1v1h-1zM1017 155h1v1h-1zM1018 154h1v1h-1zM1019 153h1v1h-1zM1020 152h1v1h-1zM1021 151h1v1h-1zM1022 150h1v1h-1zM1023 149h1v1h-1zM1024 148h1v1h-1zM1025 147h1v1h-1zM1026 146h2v1h-2zM1028 145h1v1h-1zM1029 144h2v1h-2zM1031 143h2v1h-2zM1033 142h1v1h-1zM1034 141h1v1h-1zM1035 140h1v1h-1zM1036 139h1v1h-1zM1037 138h2v1h-2zM1039 137h1v1h-1zM1040 136h1v1h-1zM1041 135h1v1h-1zM1042 134h1v1h-1zM1043 133h1v1h-1zM1044 132h1v1h-1zM1045 131h1v1h-1zM1046 130h1v1h-1zM1047 129h1v1h-1zM1048 128h1v1h-1zM1049 127h1v1h-1zM1050 126h3v1h-3zM1053 125h1v1h-1zM1054 124h3v1h-3zM1057 123h1v1h-1zM1058 122h2v1h-2zM1060 121h1v1h-1zM1061 120h1v1h-1zM1062 119h1v1h-1zM1063 118h2v1h-2zM1065 117h1v1h-1zM1066 116h3v1h-3zM1069 115h1v1h-1zM1070 114h3v1h-3zM1073 113h2v1h-2zM1075 112h3v1h-3zM1078 111h2v1h-2zM1080 110h6v1h-6zM1086 109h7v1h-7zM1093 108h9v1h-9zM1102 107h4v1h-4zM1106 106h3v1h-3zM1109 105h1v1h-1zM1110 104h3v1h-3zM1113 103h2v1h-2zM1115 102h3v1h-3zM1118 101h2v1h-2zM1120 100h3v1h-3zM1123 99h1v1h-1zM1124 98h3v1h-3zM1127 97h1v1h-1zM1128 96h4v1h-4zM1132 95h3v1h-3zM1135 94h5v1h-5zM1140 93h3v1h-3zM1143 92h7v1h-7zM1150 91h5v1h-5zM1155 92h5v1h-5zM1160 93h3v1h-3zM1163 94h5v1h-5zM1168 95h2v1h-2zM1170 96h3v1h-3zM1173 97h1v1h-1zM1174 98h3v1h-3zM1177 99h2v1h-2zM1179 100h3v1h-3zM1182 101h2v1h-2zM1184 102h4v1h-4zM1188 103h3v1h-3zM1191 104h4v1h-4zM1195 105h2v1h-2zM1197 106h3v1h-3zM1200 107h2v1h-2zM1202 108h3v1h-3zM1205 109h1v1h-1zM1206 110h3v1h-3zM1209 111h4v1h-4zM1213 112h6v1h-6zM1219 113h2v1h-2zM1221 114h3v1h-3zM1224 115h2v1h-2zM1226 116h3v1h-3zM1229 117h1v1h-1zM1230 118h3v1h-3zM1233 119h2v1h-2zM1235 120h5v1h-5zM1240 121h5v1h-5zM1245 122h9v1h-9zM1254 121h5v1h-5zM1259 122h5v1h-5zM1264 123h3v1h-3zM1267 124h5v1h-5zM1272 125h3v1h-3zM1275 126h3v1h-3zM1278 127h2v1h-2zM1280 128h3v1h-3zM1283 129h2v1h-2zM1285 130h3v1h-3zM1288 131h2v1h-2zM1290 132h3v1h-3zM1293 133h1v1h-1zM1294 134h3v1h-3zM1297 135h1v1h-1zM1298 136h1v1h-1zM1299 137h1v1h-1zM1300 138h2v1h-2zM1302 139h1v1h-1zM1303 140h1v1h-1zM1304 141h1v1h-1zM1305 142h1v1h-1zM1306 143h1v1h-1zM1307 144h1v1h-1zM1308 145h1v1h-1zM1309 146h2v1h-2zM1311 147h1v1h-1zM1312 148h1v1h-1zM1313 149h1v1h-1zM1314 150h2v1h-2zM1316 151h1v1h-1zM1317 152h1v1h-1zM1318 153h1v1h-1zM1319 154h2v1h-2zM1321 155h1v1h-1zM1322 156h3v1h-3zM1325 157h1v1h-1zM1326 158h3v1h-3zM1329 159h1v1h-1zM1330 160h2v1h-2zM1332 161h1v1h-1zM1333 162h2v1h-2zM1335 163h2v1h-2zM1337 164h2v1h-2zM1339 165h1v1h-1zM1340 166h3v1h-3zM1343 167h1v1h-1zM1344 168h3v1h-3zM1347 169h1v1h-1zM1348 170h3v1h-3zM1351 171h1v1h-1zM1352 172h2v1h-2z" fill="#3cb371"/>
<path d="M0 329h2v1h-2zM2 330h3v1h-3zM5 331h1v1h-1zM6 332h3v1h-3zM9 333h4v1h-4zM13 334h5v1h-5zM18 333h2v1h-2zM20 332h2v1h-2zM22 331h1v1h-1zM23 330h2v1h-2zM25 329h2v1h-2zM27 330h5v1h-5zM32 331h10v1h-10zM42 332h3v1h-3zM45 333h1v1h-1zM46 334h3v1h-3zM49 335h4v1h-4zM53 334h6v1h-6zM59 335h1v1h-1zM60 336h3v1h-3zM63 337h1v1h-1zM64 338h4v1h-4zM68 339h3v1h-3zM71 340h7v1h-7zM78 341h5v1h-5zM83 340h5v1h-5zM88 339h2v1h-2zM90 338h2v1h-2zM92 337h1v1h-1zM93 336h1v1h-1zM94 335h1v1h-1zM95 334h2v1h-2zM97 333h1v1h-1zM98 332h1v1h-1zM99 331h1v1h-1zM100 330h1v1h-1zM101 329h1v1h-1zM102 328h1v1h-1zM103 327h1v1h-1zM104 326h1v1h-1zM105 325h1v1h-1zM106 324h1v1h-1zM107 323h1v1h-1zM108 322h1v1h-1zM109 321h1v1h-1zM110 320h1v1h-1zM111 319h1v1h-1zM112 318h1v1h-1zM113 317h1v1h-1zM114 316h1v1h-1zM115 315h1v1h-1zM116 314h1v1h-1zM117 312h1v1h-1zM117 313h1v1h-1zM118 311h1v1h-1zM119 310h1v1h-1zM120 309h1v1h-1zM121 308h1v1h-1zM122 306h1v1h-1zM122 307h1v1h-1zM123 304h1v1h-1zM123 305h1v1h-1zM124 302h1v1h-1zM124 303h1v1h-1zM125 301h1v1h-1zM126 299h1v1h-1zM126 300h1v1h-1zM127 297h1v1h-1zM127 298h1v1h-1zM128 295h1v1h-1zM128 296h1v1h-1zM129 293h1v1h-1zM129 294h1v1h-1zM130 291h1v1h-1zM130 292h1v1h-1zM131 289h1v1h-1zM131 290h1v1h-1zM132 287h1v1h-1zM132 288h1v1h-1zM133 285h1v1h-1zM133 286h1v1h-1zM134 283h1v1h-1zM134 284h1v1h-1zM135 281h1v1h-1zM135 282h1v1h-1zM136 279h1v1h-1zM136 280h1v1h-1zM137 277h1v1h-1zM137 278h1v1h-1zM138 274h1v3h-1zM139 273h1v1h-1zM140 270h1v3h-1zM141 269h1v1h-1zM142 266h1v3h-1zM143 265h1v1h-1zM144 262h1v3h-1zM145 260h1v1h-1zM145 261h1v1h-1zM146 258h1v1h-1zM146 259h1v1h-1zM147 256h1v1h-1zM147 257h1v1h-1zM148 253h1v3h-1zM149 251h1v1h-1zM149 252h1v1h-1zM150 248h1v3h-1zM151 246h1v1h-1zM151 247h1v1h-1zM152 244h1v1h-1zM152 245h1v1h-1zM153 242h1v1h-1zM153 243h1v1h-1zM154 241h1v1h-1zM155 240h2v1h-2zM157 239h1v1h-1zM158 238h2v1h-2zM160 237h1v1h-1zM161 236h1v1h-1zM162 234h1v1h-1zM162 235h1v1h-1zM163 233h1v1h-1zM164 232h1v1h-1zM165 230h1v1h-1zM165 231h1v1h-1zM166 229h1v1h-1zM167 228h1v1h-1zM168 226h1v1h-1zM168 227h1v1h-1zM169 225h1v1h-1zM170 224h1v1h-1zM171 223h1v1h-1zM172 222h1v1h-1zM173 220h1v1h-1zM173 221h1v1h-1zM174 219h1v1h-1zM175 218h1v1h-1zM176 217h1v1h-1zM177 216h1v1h-1zM178 214h1v1h-1zM178 215h1v1h-1zM179 213h1v1h-1zM180 211h1v1h-1zM180 212h1v1h-1zM181 210h1v1h-1zM182 208h1v1h-1zM182 209h1v1h-1zM183 207h1v1h-1zM184 205h1v1h-1zM184 206h1v1h-1zM185 204h1v1h-1zM186 202h1v1h-1zM186 203h1v1h-1zM187 201h1v1h-1zM188 200h1v1h-1zM189 198h1v1h-1zM189 199h1v1h-1zM190 197h1v1h-1zM191 196h1v1h-1zM192 194h1v1h-1zM192 195h1v1h-1zM193 193h1v1h-1zM194 192h1v1h-1zM195 191h1v1h-1zM196 190h2v1h-2zM198 189h1v1h-1zM199 188h1v1h-1zM200 187h1v1h-1zM201 186h13v1h-13zM214 185h31v1h-31zM245 186h7v1h-7zM252 187h3v1h-3zM255 188h3v1h-3zM258 189h1v1h-1zM258 190h1v1h-1zM259 191h1v1h-1zM260 192h1v1h-1zM260 193h1v1h-1zM261 194h1v1h-1zM262 195h1v1h-1zM262 196h1v1h-1zM263 197h1v1h-1zM264 198h1v1h-1zM264 199h1v1h-1zM265 200h1v1h-1zM266 201h1v1h-1zM267 202h1v1h-1zM268 203h1v1h-1zM269 204h1v1h-1zM269 205h1v1h-1zM270 206h1v1h-1zM271 207h1v1h-1zM272 208h1v1h-1zM273 209h1v1h-1zM274 210h3v1h-3zM277 211h1v1h-1zM278 212h3v1h-3zM281 213h2v1h-2zM283 214h5v1h-5zM288 215h2v1h-2zM290 216h1v1h-1zM290 217h1v1h-1zM291 218h1v1h-1zM291 219h1v1h-1zM292 220h1v1h-1zM292 221h1v1h-1zM293 222h1v1h-1zM294 223h1v1h-1zM294 224h1v1h-1zM295 225h1v1h-1zM295 226h1v1h-1zM296 227h1v1h-1zM296 228h1v1h-1zM297 229h2v1h-2zM299 230h5v1h-5zM304 231h5v1h-5zM309 232h17v1h-17zM326 231h13v1h-13zM339 232h5v1h-5zM344 233h2v1h-2zM346 234h1v1h-1zM346 235h1v1h-1zM347 236h1v1h-1zM347 237h1v1h-1zM348 238h1v1h-1zM348 239h1v1h-1zM349 240h1v1h-1zM349 241h1v1h-1zM350 242h1v1h-1zM350 243h1v1h-1zM351 244h1v1h-1zM351 245h1v1h-1zM352 246h1v1h-1zM352 247h1v1h-1zM353 248h1v1h-1zM354 249h1v1h-1zM354 250h1v1h-1zM355 251h1v1h-1zM355 252h1v1h-1zM356 253h1v1h-1zM357 254h1v1h-1zM357 255h1v1h-1zM358 256h1v1h-1zM359 257h1v1h-1zM359 258h1v1h-1zM360 259h1v1h-1zM360 260h1v1h-1zM361 261h1v3h-1zM362 264h1v6h-1zM363 270h1v5h-1zM364 275h1v5h-1zM365 280h1v6h-1zM366 286h1v5h-1zM367 291h1v5h-1zM368 296h1v6h-1zM369 302h1v4h-1zM370 306h1v4h-1zM371 310h1v3h-1zM372 313h1v3h-1zM373 316h1v4h-1zM374 320h1v3h-1zM375 323h1v3h-1zM376 326h1v4h-1zM377 330h1v3h-1zM378 333h1v3h-1zM379 336h1v3h-1zM380 339h1v3h-1zM381 342h1v4h-1zM382 346h1v3h-1zM383 349h1v3h-1zM384 352h1v3h-1zM385 355h1v4h-1zM386 359h1v4h-1zM387 363h1v4h-1zM388 367h1v4h-1zM389 371h1v5h-1zM390 376h1v4h-1zM391 380h1v4h-1zM392 384h1v4h-1zM393 388h1v4h-1zM394 392h1v4h-1zM395 396h1v3h-1zM396 399h1v3h-1zM397 402h1v4h-1zM398 406h1v3h-1zM399 409h1v3h-1zM400 412h1v4h-1zM401 416h1v3h-1zM402 419h1v1h-1zM402 420h1v1h-1zM403 421h1v3h-1zM404 424h1v1h-1zM404 425h1v1h-1zM405 426h1v3h-1zM406 429h1v1h-1zM406 430h1v1h-1zM407 431h1v3h-1zM408 434h1v1h-1zM408 435h1v1h-1zM409 436h1v3h-1zM410 439h1v1h-1zM410 440h1v1h-1zM411 441h1v1h-1zM411 442h1v1h-1zM412 443h1v1h-1zM412 444h1v1h-1zM413 445h1v1h-1zM413 446h1v1h-1zM414 447h1v1h-1zM414 448h1v1h-1zM415 449h1v1h-1zM415 450h1v1h-1zM416 451h1v1h-1zM416 452h1v1h-1zM417 453h1v1h-1zM417 454h1v1h-1zM418 455h1v1h-1zM418 456h1v1h-1zM419 457h1v1h-1zM419 458h1v1h-1zM420 459h1v1h-1zM420 460h1v1h-1zM421 461h1v1h-1zM421 462h1v1h-1zM422 463h1v1h-1zM422 464h1v1h-1zM423 465h1v1h-1zM423 466h1v1h-1zM424 467h1v1h-1zM424 468h1v1h-1zM425 469h1v1h-1zM426 470h1v1h-1zM427 471h1v1h-1zM428 472h1v1h-1zM429 473h1v1h-1zM430 474h1v1h-1zM431 475h1v1h-1zM432 476h1v1h-1zM433 477h1v1h-1zM434 478h1v1h-1zM435 479h1v1h-1zM436 480h1v1h-1zM437 481h1v1h-1zM437 482h1v1h-1zM438 483h1v1h-1zM439 484h1v1h-1zM440 485h1v1h-1zM441 486h3v1h-3zM444 487h3v1h-3zM447 488h4v1h-4zM451 489h2v1h-2zM453 490h3v1h-3zM456 491h10v1h-10zM466 490h2v1h-2zM468 489h1v1h-1zM469 488h2v1h-2zM471 487h2v1h-2zM473 486h1v1h-1zM474 485h2v1h-2zM476 484h2v1h-2zM478 483h1v1h-1zM479 482h2v1h-2zM481 481h1v1h-1zM482 480h1v1h-1zM483 479h1v1h-1zM484 478h1v1h-1zM485 477h1v1h-1zM486 476h1v1h-1zM487 475h1v1h-1zM488 474h1v1h-1zM489 472h1v1h-1zM489 473h1v1h-1zM490 470h1v1h-1zM490 471h1v1h-1zM491 468h1v1h-1zM491 469h1v1h-1zM492 466h1v1h-1zM492 467h1v1h-1zM493 464h1v1h-1zM493 465h1v1h-1zM494 462h1v1h-1zM494 463h1v1h-1zM495 460h1v1h-1zM495 461h1v1h-1zM496 458h1v1h-1zM496 459h1v1h-1zM497 456h1v1h-1zM497 457h1v1h-1zM498 454h1v1h-1zM498 455h1v1h-1zM499 452h1v1h-1zM499 453h1v1h-1zM500 450h1v1h-1zM500 451h1v1h-1zM501 448h1v1h-1zM501 449h1v1h-1zM502 446h1v1h-1zM502 447h1v1h-1zM503 444h1v1h-1zM503 445h1v1h-1zM504 442h1v1h-1zM504 443h1v1h-1zM505 441h1v1h-1zM506 440h2v1h-2zM508 439h1v1h-1zM509 438h2v1h-2zM511 437h2v1h-2zM513 436h3v1h-3zM516 435h3v1h-3zM519 434h3v1h-3zM522 435h1v1h-1zM523 436h1v1h-1zM524 437h1v1h-1zM525 438h1v1h-1zM525 439h1v1h-1zM526 440h1v1h-1zM527 441h1v1h-1zM528 442h1v1h-1zM529 443h1v1h-1zM530 444h2v1h-2zM532 445h1v1h-1zM533 446h1v1h-1zM534 447h1v1h-1zM535 448h2v1h-2zM537 449h1v1h-1zM538 450h1v1h-1zM539 451h1v1h-1zM540 452h1v1h-1zM541 453h1v1h-1zM541 454h1v1h-1zM542 455h1v1h-1zM543 456h1v1h-1zM544 457h1v1h-1zM545 458h2v1h-2zM547 457h1v1h-1zM548 456h3v1h-3zM551 455h1v1h-1zM552 454h2v1h-2zM554 453h2v1h-2zM556 452h2v1h-2zM558 451h1v1h-1zM559 450h2v1h-2zM561 449h1v1h-1zM562 448h3v1h-3zM565 447h1v1h-1zM566 446h3v1h-3zM569 445h1v1h-1zM570 444h2v1h-2zM572 443h1v1h-1zM573 442h2v1h-2zM575 441h2v1h-2zM577 440h2v1h-2zM579 439h2v1h-2zM581 438h3v1h-3zM584 437h2v1h-2zM586 438h1v1h-1zM586 439h1v1h-1zM587 440h1v1h-1zM587 441h1v1h-1zM588 442h1v1h-1zM588 443h1v1h-1zM589 444h1v1h-1zM590 445h1v1h-1zM590 446h1v1h-1zM591 447h1v1h-1zM591 448h1v1h-1zM592 449h1v1h-1zM592 450h1v1h-1zM593 451h1v1h-1zM593 452h1v1h-1zM594 453h1v4h-1zM595 457h1v3h-1zM596 460h1v4h-1zM597 464h1v3h-1zM598 467h1v4h-1zM599 471h1v3h-1zM600 474h1v4h-1zM601 478h1v3h-1zM602 481h1v3h-1zM603 484h1v3h-1zM604 487h1v3h-1zM605 490h1v4h-1zM606 494h1v3h-1zM607 497h1v3h-1zM608 500h1v3h-1zM609 503h1v3h-1zM610 506h1v1h-1zM610 507h1v1h-1zM611 508h1v3h-1zM612 511h1v1h-1zM612 512h1v1h-1zM613 513h1v3h-1zM614 516h1v1h-1zM614 517h1v1h-1zM615 518h1v3h-1zM616 521h1v1h-1zM616 522h1v1h-1zM617 523h1v1h-1zM617 524h1v1h-1zM618 525h1v1h-1zM619 526h1v1h-1zM619 527h1v1h-1zM620 528h1v1h-1zM621 529h1v1h-1zM622 530h1v1h-1zM623 531h1v1h-1zM623 532h1v1h-1zM624 533h1v1h-1zM625 534h1v1h-1zM626 535h1v1h-1zM627 536h1v1h-1zM628 537h1v1h-1zM629 538h1v1h-1zM630 539h1v1h-1zM631 540h1v1h-1zM632 541h1v1h-1zM633 542h1v1h-1zM634 543h1v1h-1zM635 544h1v1h-1zM635 545h1v1h-1zM636 546h1v1h-1zM637 547h1v1h-1zM638 548h1v1h-1zM639 549h1v1h-1zM639 550h1v1h-1zM640 551h1v1h-1zM641 552h5v1h-5zM646 551h5v1h-5zM651 552h5v1h-5zM656 553h3v1h-3zM659 554h3v1h-3zM662 555h2v1h-2zM664 556h4v1h-4zM668 555h3v1h-3zM671 554h20v1h-20zM691 555h2v1h-2zM693 556h3v1h-3zM696 557h5v1h-5zM701 558h9v1h-9zM710 559h7v1h-7zM717 558h6v1h-6zM723 557h2v1h-2zM725 556h3v1h-3zM728 555h2v1h-2zM730 556h1v1h-1zM731 557h1v1h-1zM731 558h1v1h-1zM732 559h1v1h-1zM733 560h1v1h-1zM734 561h1v1h-1zM735 562h1v1h-1zM735 563h1v1h-1zM736 564h1v1h-1zM737 565h1v1h-1zM738 566h1v1h-1zM738 567h1v1h-1zM739 568h1v1h-1zM740 569h1v1h-1zM741 570h1v1h-1zM741 571h1v1h-1zM742 572h1v1h-1zM743 573h1v1h-1zM744 574h1v1h-1zM744 575h1v1h-1zM780 575h1v1h-1zM781 574h2v1h-2zM783 573h1v1h-1zM784 572h1v1h-1zM785 570h1v1h-1zM785 571h1v1h-1zM786 568h1v1h-1zM786 569h1v1h-1zM787 566h1v1h-1zM787 567h1v1h-1zM788 564h1v1h-1zM788 565h1v1h-1zM789 561h1v3h-1zM790 559h1v1h-1zM790 560h1v1h-1zM791 557h1v1h-1zM791 558h1v1h-1zM792 555h1v1h-1zM792 556h1v1h-1zM793 552h1v3h-1zM794 549h1v3h-1zM795 546h1v3h-1zM796 543h1v3h-1zM797 540h1v3h-1zM798 537h1v3h-1zM799 534h1v3h-1zM800 531h1v3h-1zM801 529h1v1h-1zM801 530h1v1h-1zM802 527h1v1h-1zM802 528h1v1h-1zM803 525h1v1h-1zM803 526h1v1h-1zM804 523h1v1h-1zM804 524h1v1h-1zM805 521h1v1h-1zM805 522h1v1h-1zM806 519h1v1h-1zM806 520h1v1h-1zM807 517h1v1h-1zM807 518h1v1h-1zM808 515h1v1h-1zM808 516h1v1h-1zM809 513h1v1h-1zM809 514h1v1h-1zM810 509h1v4h-1zM811 506h1v3h-1zM812 502h1v4h-1zM813 499h1v3h-1zM814 495h1v4h-1zM815 492h1v3h-1zM816 488h1v4h-1zM817 484h1v4h-1zM818 479h1v5h-1zM819 475h1v4h-1zM820 470h1v5h-1zM821 465h1v5h-1zM822 460h1v5h-1zM823 456h1v4h-1zM824 451h1v5h-1zM825 447h1v4h-1zM826 443h1v4h-1zM827 440h1v3h-1zM828 436h1v4h-1zM829 433h1v3h-1zM830 429h1v4h-1zM831 426h1v3h-1zM832 422h1v4h-1zM833 419h1v3h-1zM834 415h1v4h-1zM835 412h1v3h-1zM836 408h1v4h-1zM837 405h1v3h-1zM838 401h1v4h-1zM839 398h1v3h-1zM840 394h1v4h-1zM841 391h1v3h-1zM842 389h1v1h-1zM842 390h1v1h-1zM843 386h1v3h-1zM844 384h1v1h-1zM844 385h1v1h-1zM845 381h1v3h-1zM846 379h1v1h-1zM846 380h1v1h-1zM847 376h1v3h-1zM848 374h1v1h-1zM848 375h1v1h-1zM849 372h1v1h-1zM849 373h1v1h-1zM850 370h1v1h-1zM850 371h1v1h-1zM851 368h1v1h-1zM851 369h1v1h-1zM852 366h1v1h-1zM852 367h1v1h-1zM853 365h1v1h-1zM854 363h1v1h-1zM854 364h1v1h-1zM855 361h1v1h-1zM855 362h1v1h-1zM856 359h1v1h-1zM856 360h1v1h-1zM857 358h1v1h-1zM858 357h1v1h-1zM859 356h1v1h-1zM860 355h1v1h-1zM861 354h2v1h-2zM863 353h1v1h-1zM864 352h1v1h-1zM865 350h1v1h-1zM865 351h1v1h-1zM866 348h1v1h-1zM866 349h1v1h-1zM867 346h1v1h-1zM867 347h1v1h-1zM868 343h1v3h-1zM869 341h1v1h-1zM869 342h1v1h-1zM870 338h1v3h-1zM871 336h1v1h-1zM871 337h1v1h-1zM872 334h1v1h-1zM872 335h1v1h-1zM873 331h1v3h-1zM874 329h1v1h-1zM874 330h1v1h-1zM875 326h1v3h-1zM876 324h1v1h-1zM876 325h1v1h-1zM877 321h1v3h-1zM878 319h1v1h-1zM878 320h1v1h-1zM879 316h1v3h-1zM880 314h1v1h-1zM880 315h1v1h-1zM881 311h1v3h-1zM882 307h1v4h-1zM883 304h1v3h-1zM884 301h1v3h-1zM885 297h1v4h-1zM886 294h1v3h-1zM887 291h1v3h-1zM888 287h1v4h-1zM889 285h1v1h-1zM889 286h1v1h-1zM890 284h1v1h-1zM891 283h1v1h-1zM892 282h2v1h-2zM894 281h1v1h-1zM895 280h1v1h-1zM896 279h1v1h-1zM897 278h1v1h-1zM898 277h1v1h-1zM899 276h2v1h-2zM901 275h1v1h-1zM902 274h2v1h-2zM904 273h1v1h-1zM905 272h21v1h-21zM926 271h5v1h-5zM931 270h3v1h-3zM934 269h2v1h-2zM936 268h4v1h-4zM940 267h3v1h-3zM943 266h15v1h-15zM958 265h7v1h-7zM965 264h17v1h-17zM982 265h4v1h-4zM986 266h3v1h-3zM989 267h1v1h-1zM990 268h3v1h-3zM993 269h2v1h-2zM995 270h5v1h-5zM1000 271h2v1h-2zM1002 270h2v1h-2zM1004 269h1v1h-1zM1005 268h2v1h-2zM1007 267h2v1h-2zM1009 266h1v1h-1zM1010 265h1v1h-1zM1011 264h1v1h-1zM1012 263h1v1h-1zM1013 262h2v1h-2zM1015 261h1v1h-1zM1016 260h1v1h-1zM1017 258h1v1h-1zM1017 259h1v1h-1zM1018 255h1v3h-1zM1019 253h1v1h-1zM1019 254h1v1h-1zM1020 250h1v3h-1zM1021 247h1v3h-1zM1022 244h1v3h-1zM1023 242h1v1h-1zM1023 243h1v1h-1zM1024 239h1v3h-1zM1025 237h1v1h-1zM1025 238h1v1h-1zM1026 235h1v1h-1zM1026 236h1v1h-1zM1027 234h1v1h-1zM1028 232h1v1h-1zM1028 233h1v1h-1zM1029 231h1v1h-1zM1030 229h1v1h-1zM1030 230h1v1h-1zM1031 228h1v1h-1zM1032 226h1v1h-1zM1032 227h1v1h-1zM1033 225h1v1h-1zM1034 223h1v1h-1zM1034 224h1v1h-1zM1035 221h1v1h-1zM1035 222h1v1h-1zM1036 219h1v1h-1zM1036 220h1v1h-1zM1037 217h1v1h-1zM1037 218h1v1h-1zM1038 215h1v1h-1zM1038 216h1v1h-1zM1039 213h1v1h-1zM1039 214h1v1h-1zM1040 211h1v1h-1zM1040 212h1v1h-1zM1041 210h1v1h-1zM1042 207h1v3h-1zM1043 206h1v1h-1zM1044 203h1v3h-1zM1045 202h1v1h-1zM1046 199h1v3h-1zM1047 198h1v1h-1zM1048 195h1v3h-1zM1049 194h1v1h-1zM1050 192h1v1h-1zM1050 193h1v1h-1zM1051 191h1v1h-1zM1052 189h1v1h-1zM1052 190h1v1h-1zM1053 188h1v1h-1zM1054 186h1v1h-1zM1054 187h1v1h-1zM1055 185h1v1h-1zM1056 183h1v1h-1zM1056 184h1v1h-1zM1057 182h1v1h-1zM1058 181h1v1h-1zM1059 180h1v1h-1zM1060 179h1v1h-1zM1061 177h1v1h-1zM1061 178h1v1h-1zM1062 176h1v1h-1zM1063 175h1v1h-1zM1064 174h1v1h-1zM1065 173h1v1h-1zM1066 172h2v1h-2zM1068 171h1v1h-1zM1069 170h1v1h-1zM1070 169h1v1h-1zM1071 168h2v1h-2zM1073 167h4v1h-4zM1077 166h7v1h-7zM1084 165h3v1h-3zM1087 164h7v1h-7zM1094 163h5v1h-5zM1099 162h5v1h-5zM1104 161h2v1h-2zM1106 160h1v1h-1zM1107 158h1v1h-1zM1107 159h1v1h-1zM1108 157h1v1h-1zM1109 156h1v1h-1zM1110 155h1v1h-1zM1111 153h1v1h-1zM1111 154h1v1h-1zM1112 152h1v1h-1zM1113 151h1v1h-1zM1114 150h1v1h-1zM1115 149h1v1h-1zM1116 148h1v1h-1zM1117 147h1v1h-1zM1118 146h1v1h-1zM1119 145h1v1h-1zM1120 144h1v1h-1zM1121 143h1v1h-1zM1122 142h1v1h-1zM1123 141h1v1h-1zM1124 140h1v1h-1zM1125 139h1v1h-1zM1126 138h1v1h-1zM1127 137h1v1h-1zM1128 136h1v1h-1zM1129 135h1v1h-1zM1130 134h1v1h-1zM1131 133h1v1h-1zM1132 132h2v1h-2zM1134 131h1v1h-1zM1135 130h1v1h-1zM1136 129h1v1h-1zM1137 128h2v1h-2zM1139 127h2v1h-2zM1141 126h3v1h-3zM1144 125h5v1h-5zM1149 124h6v1h-6zM1155 125h2v1h-2zM1157 126h3v1h-3zM1160 127h2v1h-2zM1162 128h1v1h-1zM1163 129h1v1h-1zM1164 130h1v1h-1zM1165 131h1v1h-1zM1165 132h1v1h-1zM1166 133h1v1h-1zM1167 134h1v1h-1zM1168 135h1v1h-1zM1169 136h1v1h-1zM1170 137h1v1h-1zM1170 138h1v1h-1zM1171 139h1v1h-1zM1171 140h1v1h-1zM1172 141h1v1h-1zM1173 142h1v1h-1zM1173 143h1v1h-1zM1174 144h1v1h-1zM1175 145h1v1h-1zM1175 146h1v1h-1zM1176 147h1v1h-1zM1176 148h1v1h-1zM1177 149h1v1h-1zM1178 150h1v1h-1zM1178 151h1v1h-1zM1179 152h1v1h-1zM1180 153h1v1h-1zM1181 154h1v1h-1zM1181 155h1v1h-1zM1182 156h1v1h-1zM1183 157h1v1h-1zM1184 158h1v1h-1zM1184 159h1v1h-1zM1185 160h1v1h-1zM1186 161h1v1h-1zM1187 162h1v1h-1zM1188 163h1v1h-1zM1189 164h1v1h-1zM1190 165h1v1h-1zM1191 166h1v1h-1zM1192 167h1v1h-1zM1193 168h1v1h-1zM1194 169h1v1h-1zM1195 170h1v1h-1zM1196 171h1v1h-1zM1197 172h2v1h-2zM1199 173h1v1h-1zM1200 174h1v1h-1zM1201 175h2v1h-2zM1203 176h3v1h-3zM1206 177h2v1h-2zM1208 178h4v1h-4zM1212 179h3v1h-3zM1215 180h7v1h-7zM1222 181h5v1h-5zM1227 182h5v1h-5zM1232 183h21v1h-21zM1253 182h6v1h-6zM1259 183h1v1h-1zM1260 184h3v1h-3zM1263 185h1v1h-1zM1264 186h6v1h-6zM1270 185h7v1h-7zM1277 186h7v1h-7zM1284 185h3v1h-3zM1287 184h3v1h-3zM1290 185h1v1h-1zM1291 186h2v1h-2zM1293 187h1v1h-1zM1294 188h2v1h-2zM1296 189h1v1h-1zM1297 190h1v1h-1zM1298 191h1v1h-1zM1298 192h1v1h-1zM1299 193h1v1h-1zM1299 194h1v1h-1zM1300 195h1v1h-1zM1301 196h1v1h-1zM1301 197h1v1h-1zM1302 198h1v1h-1zM1303 199h1v1h-1zM1303 200h1v1h-1zM1304 201h1v1h-1zM1304 202h1v1h-1zM1305 203h1v1h-1zM1306 204h2v1h-2zM1308 205h1v1h-1zM1309 206h2v1h-2zM1311 207h2v1h-2zM1313 208h1v1h-1zM1314 209h1v3h-1zM1315 212h1v1h-1zM1316 213h1v3h-1zM1317 216h1v1h-1zM1318 217h1v3h-1zM1319 220h1v1h-1zM1320 221h1v3h-1zM1321 224h1v1h-1zM1322 225h1v1h-1zM1323 226h1v1h-1zM1324 227h1v1h-1zM1325 228h1v1h-1zM1325 229h1v1h-1zM1326 230h1v1h-1zM1327 231h1v1h-1zM1328 232h1v1h-1zM1329 233h1v1h-1zM1329 234h1v1h-1zM1330 235h1v1h-1zM1330 236h1v1h-1zM1331 237h1v1h-1zM1331 238h1v1h-1zM1332 239h1v1h-1zM1332 240h1v1h-1zM1333 241h1v3h-1zM1334 244h1v1h-1zM1334 245h1v1h-1zM1335 246h1v1h-1zM1335 247h1v1h-1zM1336 248h1v1h-1zM1336 249h1v1h-1zM1337 250h1v1h-1zM1337 251h1v1h-1zM1338 252h1v1h-1zM1338 253h1v1h-1zM1339 254h1v1h-1zM1339 255h1v1h-1zM1340 256h1v1h-1zM1341 257h1v1h-1zM1341 258h1v1h-1zM1342 259h1v1h-1zM1343 260h1v1h-1zM1343 261h1v1h-1zM1344 262h1v1h-1zM1344 263h1v1h-1zM1345 264h1v1h-1zM1346 265h1v1h-1zM1347 266h1v1h-1zM1347 267h1v1h-1zM1348 268h1v1h-1zM1349 269h1v1h-1zM1350 270h1v1h-1zM1351 271h1v1h-1zM1351 272h1v1h-1zM1352 273h1v1h-1zM1353 274h1v1h-1z" fill="#3cb371"/>
<rect x="1" y="216" width="1" height="83" fill="#000" />
<rect x="-1" y="218" width="5" height="56" fill="#000" />
<rect x="0" y="219" width="3" height="54" fill="#fff" />
<rect x="9" y="212" width="1" height="39" fill="#000" />
<rect x="7" y="218" width="5" height="16" fill="#000" />
<rect x="17" y="218" width="1" height="51" fill="#000" />
<rect x="15" y="224" width="5" height="9" fill="#000" />
<rect x="16" y="225" width="3" height="7" fill="#fff" />
<rect x="25" y="221" width="1" height="12" fill="#000" />
<rect x="23" y="224" width="5" height="3" fill="#000" />
<rect x="33" y="214" width="1" height="13" fill="#000" />
<rect x="31" y="216" width="5" height="10" fill="#000" />
<rect x="32" y="217" width="3" height="8" fill="#fff" />
<rect x="41" y="193" width="1" height="24" fill="#000" />
<rect x="39" y="202" width="5" height="15" fill="#000" />
<rect x="40" y="203" width="3" height="13" fill="#fff" />
<rect x="49" y="182" width="1" height="30" fill="#000" />
<rect x="47" y="189" width="5" height="15" fill="#000" />
<rect x="48" y="190" width="3" height="13" fill="#fff" />
<rect x="57" y="181" width="1" height="16" fill="#000" />
<rect x="55" y="184" width="5" height="6" fill="#000" />
<rect x="56" y="185" width="3" height="4" fill="#fff" />
<rect x="65" y="132" width="1" height="54" fill="#000" />
<rect x="63" y="142" width="5" height="43" fill="#000" />
<rect x="64" y="143" width="3" height="41" fill="#fff" />
<rect x="73" y="137" width="1" height="14" fill="#000" />
<rect x="71" y="141" width="5" height="4" fill="#000" />
<rect x="81" y="134" width="1" height="14" fill="#000" />
<rect x="79" y="134" width="5" height="10" fill="#000" />
<rect x="80" y="135" width="3" height="8" fill="#fff" />
<rect x="89" y="122" width="1" height="14" fill="#000" />
<rect x="87" y="129" width="5" height="7" fill="#000" />
<rect x="88" y="130" width="3" height="5" fill="#fff" />
<rect x="97" y="114" width="1" height="32" fill="#000" />
<rect x="95" y="129" width="5" height="7" fill="#000" />
<rect x="105" y="129" width="1" height="25" fill="#000" />
<rect x="103" y="135" width="5" height="5" fill="#000" />
<rect x="113" y="130" width="1" height="22" fill="#000" />
<rect x="111" y="139" width="5" height="7" fill="#000" />
<rect x="121" y="134" width="1" height="17" fill="#000" />
<rect x="119" y="134" width="5" height="10" fill="#000" />
<rect x="120" y="135" width="3" height="8" fill="#fff" />
<rect x="129" y="130" width="1" height="11" fill="#000" />
<rect x="127" y="133" width="5" height="4" fill="#000" />
<rect x="137" y="135" width="1" height="17" fill="#000" />
<rect x="135" y="135" width="5" height="14" fill="#000" />
<rect x="145" y="146" width="1" height="17" fill="#000" />
<rect x="143" y="146" width="5" height="3" fill="#000" />
<rect x="144" y="147" width="3" height="1" fill="#fff" />
<rect x="153" y="143" width="1" height="11" fill="#000" />
<rect x="151" y="144" width="5" height="2" fill="#000" />
<rect x="161" y="137" width="1" height="12" fill="#000" />
<rect x="159" y="138" width="5" height="9" fill="#000" />
<rect x="160" y="139" width="3" height="7" fill="#fff" />
<rect x="169" y="136" width="1" height="10" fill="#000" />
<rect x="167" y="139" width="5" height="6" fill="#000" />
<rect x="177" y="140" width="1" height="48" fill="#000" />
<rect x="175" y="143" width="5" height="38" fill="#000" />
<rect x="185" y="163" width="1" height="22" fill="#000" />
<rect x="183" y="165" width="5" height="16" fill="#000" />
<rect x="184" y="166" width="3" height="14" fill="#fff" />
<rect x="193" y="161" width="1" height="30" fill="#000" />
<rect x="191" y="162" width="5" height="4" fill="#000" />
<rect x="192" y="163" width="3" height="2" fill="#fff" />
<rect x="201" y="137" width="1" height="39" fill="#000" />
<rect x="199" y="161" width="5" height="13" fill="#000" />
<rect x="209" y="137" width="1" height="69" fill="#000" />
<rect x="207" y="173" width="5" height="16" fill="#000" />
<rect x="217" y="174" width="1" height="25" fill="#000" />
<rect x="215" y="182" width="5" height="6" fill="#000" />
<rect x="216" y="183" width="3" height="4" fill="#fff" />
<rect x="225" y="135" width="1" height="49" fill="#000" />
<rect x="223" y="143" width="5" height="40" fill="#000" />
<rect x="224" y="144" width="3" height="38" fill="#fff" />
<rect x="233" y="133" width="1" height="14" fill="#000" />
<rect x="231" y="143" width="5" height="3" fill="#000" />
<rect x="241" y="141" width="1" height="17" fill="#000" />
<rect x="239" y="146" width="5" height="2" fill="#000" />
<rect x="249" y="143" width="1" height="30" fill="#000" />
<rect x="247" y="147" width="5" height="18" fill="#000" />
<rect x="257" y="156" width="1" height="43" fill="#000" />
<rect x="255" y="165" width="5" height="10" fill="#000" />
<rect x="265" y="174" width="1" height="44" fill="#000" />
<rect x="263" y="175" width="5" height="40" fill="#000" />
<rect x="273" y="194" width="1" height="25" fill="#000" />
<rect x="271" y="212" width="5" height="4" fill="#000" />
<rect x="272" y="213" width="3" height="2" fill="#fff" />
<rect x="281" y="196" width="1" height="26" fill="#000" />
<rect x="279" y="200" width="5" height="12" fill="#000" />
<rect x="280" y="201" width="3" height="10" fill="#fff" />
<rect x="289" y="195" width="1" height="19" fill="#000" />
<rect x="287" y="195" width="5" height="7" fill="#000" />
<rect x="288" y="196" width="3" height="5" fill="#fff" />
<rect x="297" y="195" width="1" height="76" fill="#000" />
<rect x="295" y="196" width="5" height="47" fill="#000" />
<rect x="305" y="197" width="1" height="70" fill="#000" />
<rect x="303" y="198" width="5" height="44" fill="#000" />
<rect x="304" y="199" width="3" height="42" fill="#fff" />
<rect x="313" y="178" width="1" height="30" fill="#000" />
<rect x="311" y="185" width="5" height="14" fill="#000" />
<rect x="312" y="186" width="3" height="12" fill="#fff" />
<rect x="321" y="184" width="1" height="20" fill="#000" />
<rect x="319" y="186" width="5" height="9" fill="#000" />
<rect x="329" y="183" width="1" height="12" fill="#000" />
<rect x="327" y="189" width="5" height="6" fill="#000" />
<rect x="328" y="190" width="3" height="4" fill="#fff" />
<rect x="337" y="160" width="1" height="31" fill="#000" />
<rect x="335" y="169" width="5" height="21" fill="#000" />
<rect x="336" y="170" width="3" height="19" fill="#fff" />
<rect x="345" y="158" width="1" height="59" fill="#000" />
<rect x="343" y="168" width="5" height="36" fill="#000" />
<rect x="353" y="185" width="1" height="132" fill="#000" />
<rect x="351" y="203" width="5" height="61" fill="#000" />
<rect x="361" y="244" width="1" height="48" fill="#000" />
<rect x="359" y="262" width="5" height="7" fill="#000" />
<rect x="369" y="346" width="1" height="39" fill="#000" />
<rect x="367" y="347" width="5" height="22" fill="#000" />
<rect x="377" y="340" width="1" height="33" fill="#000" />
<rect x="375" y="352" width="5" height="16" fill="#000" />
<rect x="376" y="353" width="3" height="14" fill="#fff" />
<rect x="385" y="352" width="1" height="24" fill="#000" />
<rect x="383" y="353" width="5" height="17" fill="#000" />
<rect x="393" y="353" width="1" height="97" fill="#000" />
<rect x="391" y="367" width="5" height="52" fill="#000" />
<rect x="401" y="385" width="1" height="72" fill="#000" />
<rect x="399" y="417" width="5" height="1" fill="#000" />
<rect x="409" y="377" width="1" height="61" fill="#000" />
<rect x="407" y="407" width="5" height="11" fill="#000" />
<rect x="408" y="408" width="3" height="9" fill="#fff" />
<rect x="417" y="394" width="1" height="42" fill="#000" />
<rect x="415" y="405" width="5" height="3" fill="#000" />
<rect x="416" y="406" width="3" height="1" fill="#fff" />
<rect x="425" y="385" width="1" height="29" fill="#000" />
<rect x="423" y="396" width="5" height="10" fill="#000" />
<rect x="424" y="397" width="3" height="8" fill="#fff" />
<rect x="433" y="356" width="1" height="42" fill="#000" />
<rect x="431" y="364" width="5" height="33" fill="#000" />
<rect x="432" y="365" width="3" height="31" fill="#fff" />
<rect x="441" y="360" width="1" height="61" fill="#000" />
<rect x="439" y="365" width="5" height="22" fill="#000" />
<rect x="449" y="342" width="1" height="69" fill="#000" />
<rect x="447" y="348" width="5" height="37" fill="#000" />
<rect x="448" y="349" width="3" height="35" fill="#fff" />
<rect x="457" y="322" width="1" height="40" fill="#000" />
<rect x="455" y="336" width="5" height="13" fill="#000" />
<rect x="456" y="337" width="3" height="11" fill="#fff" />
<rect x="465" y="327" width="1" height="34" fill="#000" />
<rect x="463" y="335" width="5" height="21" fill="#000" />
<rect x="473" y="310" width="1" height="55" fill="#000" />
<rect x="471" y="314" width="5" height="43" fill="#000" />
<rect x="472" y="315" width="3" height="41" fill="#fff" />
<rect x="481" y="313" width="1" height="24" fill="#000" />
<rect x="479" y="313" width="5" height="18" fill="#000" />
<rect x="489" y="306" width="1" height="38" fill="#000" />
<rect x="487" y="309" width="5" height="23" fill="#000" />
<rect x="488" y="310" width="3" height="21" fill="#fff" />
<rect x="497" y="284" width="1" height="76" fill="#000" />
<rect x="495" y="309" width="5" height="1" fill="#000" />
<rect x="505" y="295" width="1" height="31" fill="#000" />
<rect x="503" y="309" width="5" height="13" fill="#000" />
<rect x="513" y="318" width="1" height="50" fill="#000" />
<rect x="511" y="320" width="5" height="26" fill="#000" />
<rect x="521" y="340" width="1" height="74" fill="#000" />
<rect x="519" y="344" width="5" height="62" fill="#000" />
<rect x="529" y="394" width="1" height="52" fill="#000" />
<rect x="527" y="405" width="5" height="25" fill="#000" />
<rect x="537" y="387" width="1" height="55" fill="#000" />
<rect x="535" y="419" width="5" height="12" fill="#000" />
<rect x="536" y="420" width="3" height="10" fill="#fff" />
<rect x="545" y="358" width="1" height="88" fill="#000" />
<rect x="543" y="417" width="5" height="22" fill="#000" />
<rect x="553" y="365" width="1" height="77" fill="#000" />
<rect x="551" y="375" width="5" height="64" fill="#000" />
<rect x="552" y="376" width="3" height="62" fill="#fff" />
<rect x="561" y="300" width="1" height="80" fill="#000" />
<rect x="559" y="315" width="5" height="60" fill="#000" />
<rect x="560" y="316" width="3" height="58" fill="#fff" />
<rect x="569" y="286" width="1" height="44" fill="#000" />
<rect x="567" y="306" width="5" height="8" fill="#000" />
<rect x="568" y="307" width="3" height="6" fill="#fff" />
<rect x="577" y="295" width="1" height="43" fill="#000" />
<rect x="575" y="306" width="5" height="29" fill="#000" />
<rect x="585" y="331" width="1" height="62" fill="#000" />
<rect x="583" y="335" width="5" height="32" fill="#000" />
<rect x="593" y="347" width="1" height="109" fill="#000" />
<rect x="591" y="365" width="5" height="87" fill="#000" />
<rect x="601" y="438" width="1" height="92" fill="#000" />
<rect x="599" y="451" width="5" height="62" fill="#000" />
<rect x="609" y="506" width="1" height="58" fill="#000" />
<rect x="607" y="512" width="5" height="6" fill="#000" />
<rect x="617" y="499" width="1" height="46" fill="#000" />
<rect x="615" y="508" width="5" height="37" fill="#000" />
<rect x="616" y="509" width="3" height="35" fill="#fff" />
<rect x="625" y="447" width="1" height="71" fill="#000" />
<rect x="623" y="467" width="5" height="44" fill="#000" />
<rect x="624" y="468" width="3" height="42" fill="#fff" />
<rect x="633" y="452" width="1" height="34" fill="#000" />
<rect x="631" y="467" width="5" height="10" fill="#000" />
<rect x="641" y="467" width="1" height="44" fill="#000" />
<rect x="639" y="475" width="5" height="14" fill="#000" />
<rect x="649" y="396" width="1" height="105" fill="#000" />
<rect x="647" y="425" width="5" height="63" fill="#000" />
<rect x="648" y="426" width="3" height="61" fill="#fff" />
<rect x="657" y="415" width="1" height="75" fill="#000" />
<rect x="655" y="424" width="5" height="42" fill="#000" />
<rect x="665" y="448" width="1" height="51" fill="#000" />
<rect x="663" y="466" width="5" height="15" fill="#000" />
<rect x="673" y="406" width="1" height="77" fill="#000" />
<rect x="671" y="415" width="5" height="65" fill="#000" />
<rect x="672" y="416" width="3" height="63" fill="#fff" />
<rect x="681" y="389" width="1" height="32" fill="#000" />
<rect x="679" y="399" width="5" height="17" fill="#000" />
<rect x="680" y="400" width="3" height="15" fill="#fff" />
<rect x="689" y="355" width="1" height="50" fill="#000" />
<rect x="687" y="361" width="5" height="41" fill="#000" />
<rect x="688" y="362" width="3" height="39" fill="#fff" />
<rect x="697" y="307" width="1" height="62" fill="#000" />
<rect x="695" y="324" width="5" height="39" fill="#000" />
<rect x="696" y="325" width="3" height="37" fill="#fff" />
<rect x="705" y="299" width="1" height="31" fill="#000" />
<rect x="703" y="315" width="5" height="11" fill="#000" />
<rect x="704" y="316" width="3" height="9" fill="#fff" />
<rect x="713" y="308" width="1" height="32" fill="#000" />
<rect x="711" y="316" width="5" height="23" fill="#000" />
<rect x="721" y="322" width="1" height="32" fill="#000" />
<rect x="719" y="334" width="5" height="6" fill="#000" />
<rect x="720" y="335" width="3" height="4" fill="#fff" />
<rect x="729" y="327" width="1" height="24" fill="#000" />
<rect x="727" y="335" width="5" height="10" fill="#000" />
<rect x="737" y="212" width="1" height="135" fill="#000" />
<rect x="735" y="248" width="5" height="98" fill="#000" />
<rect x="736" y="249" width="3" height="96" fill="#fff" />
<rect x="745" y="214" width="1" height="53" fill="#000" />
<rect x="743" y="235" width="5" height="14" fill="#000" />
<rect x="744" y="236" width="3" height="12" fill="#fff" />
<rect x="753" y="171" width="1" height="76" fill="#000" />
<rect x="751" y="175" width="5" height="62" fill="#000" />
<rect x="752" y="176" width="3" height="60" fill="#fff" />
<rect x="761" y="145" width="1" height="38" fill="#000" />
<rect x="759" y="161" width="5" height="15" fill="#000" />
<rect x="760" y="162" width="3" height="13" fill="#fff" />
<rect x="769" y="108" width="1" height="58" fill="#000" />
<rect x="767" y="114" width="5" height="51" fill="#000" />
<rect x="768" y="115" width="3" height="49" fill="#fff" />
<rect x="777" y="76" width="1" height="44" fill="#000" />
<rect x="775" y="88" width="5" height="27" fill="#000" />
<rect x="776" y="89" width="3" height="25" fill="#fff" />
<rect x="785" y="85" width="1" height="51" fill="#000" />
<rect x="783" y="89" width="5" height="18" fill="#000" />
<rect x="793" y="105" width="1" height="73" fill="#000" />
<rect x="791" y="107" width="5" height="41" fill="#000" />
<rect x="801" y="120" width="1" height="38" fill="#000" />
<rect x="799" y="133" width="5" height="15" fill="#000" />
<rect x="800" y="134" width="3" height="13" fill="#fff" />
<rect x="809" y="112" width="1" height="40" fill="#000" />
<rect x="807" y="117" width="5" height="17" fill="#000" />
<rect x="808" y="118" width="3" height="15" fill="#fff" />
<rect x="817" y="114" width="1" height="47" fill="#000" />
<rect x="815" y="117" width="5" height="24" fill="#000" />
<rect x="825" y="122" width="1" height="33" fill="#000" />
<rect x="823" y="139" width="5" height="2" fill="#000" />
<rect x="833" y="132" width="1" height="56" fill="#000" />
<rect x="831" y="138" width="5" height="29" fill="#000" />
<rect x="841" y="134" width="1" height="79" fill="#000" />
<rect x="839" y="166" width="5" height="31" fill="#000" />
<rect x="849" y="176" width="1" height="66" fill="#000" />
<rect x="847" y="197" width="5" height="27" fill="#000" />
<rect x="857" y="213" width="1" height="24" fill="#000" />
<rect x="855" y="222" width="5" height="6" fill="#000" />
<rect x="865" y="216" width="1" height="80" fill="#000" />
<rect x="863" y="239" width="5" height="36" fill="#000" />
<rect x="873" y="198" width="1" height="77" fill="#000" />
<rect x="871" y="224" width="5" height="50" fill="#000" />
<rect x="872" y="225" width="3" height="48" fill="#fff" />
<rect x="881" y="211" width="1" height="24" fill="#000" />
<rect x="879" y="224" width="5" height="6" fill="#000" />
<rect x="889" y="218" width="1" height="37" fill="#000" />
<rect x="887" y="229" width="5" height="2" fill="#000" />
<rect x="897" y="179" width="1" height="90" fill="#000" />
<rect x="895" y="195" width="5" height="34" fill="#000" />
<rect x="896" y="196" width="3" height="32" fill="#fff" />
<rect x="905" y="185" width="1" height="30" fill="#000" />
<rect x="903" y="187" width="5" height="9" fill="#000" />
<rect x="904" y="188" width="3" height="7" fill="#fff" />
<rect x="913" y="155" width="1" height="34" fill="#000" />
<rect x="911" y="161" width="5" height="27" fill="#000" />
<rect x="912" y="162" width="3" height="25" fill="#fff" />
<rect x="921" y="121" width="1" height="48" fill="#000" />
<rect x="919" y="127" width="5" height="34" fill="#000" />
<rect x="920" y="128" width="3" height="32" fill="#fff" />
<rect x="929" y="119" width="1" height="21" fill="#000" />
<rect x="927" y="127" width="5" height="6" fill="#000" />
<rect x="937" y="123" width="1" height="26" fill="#000" />
<rect x="935" y="132" width="5" height="3" fill="#000" />
<rect x="945" y="103" width="1" height="48" fill="#000" />
<rect x="943" y="130" width="5" height="4" fill="#000" />
<rect x="944" y="131" width="3" height="2" fill="#fff" />
<rect x="953" y="128" width="1" height="43" fill="#000" />
<rect x="951" y="130" width="5" height="34" fill="#000" />
<rect x="961" y="144" width="1" height="42" fill="#000" />
<rect x="959" y="152" width="5" height="12" fill="#000" />
<rect x="960" y="153" width="3" height="10" fill="#fff" />
<rect x="969" y="143" width="1" height="27" fill="#000" />
<rect x="967" y="145" width="5" height="8" fill="#000" />
<rect x="968" y="146" width="3" height="6" fill="#fff" />
<rect x="977" y="129" width="1" height="20" fill="#000" />
<rect x="975" y="137" width="5" height="10" fill="#000" />
<rect x="976" y="138" width="3" height="8" fill="#fff" />
<rect x="985" y="107" width="1" height="34" fill="#000" />
<rect x="983" y="117" width="5" height="21" fill="#000" />
<rect x="984" y="118" width="3" height="19" fill="#fff" />
<rect x="993" y="69" width="1" height="56" fill="#000" />
<rect x="991" y="96" width="5" height="22" fill="#000" />
<rect x="992" y="97" width="3" height="20" fill="#fff" />
<rect x="1001" y="72" width="1" height="32" fill="#000" />
<rect x="999" y="78" width="5" height="19" fill="#000" />
<rect x="1000" y="79" width="3" height="17" fill="#fff" />
<rect x="1009" y="50" width="1" height="59" fill="#000" />
<rect x="1007" y="78" width="5" height="17" fill="#000" />
<rect x="1017" y="77" width="1" height="26" fill="#000" />
<rect x="1015" y="93" width="5" height="2" fill="#000" />
<rect x="1025" y="85" width="1" height="28" fill="#000" />
<rect x="1023" y="92" width="5" height="18" fill="#000" />
<rect x="1033" y="97" width="1" height="59" fill="#000" />
<rect x="1031" y="108" width="5" height="25" fill="#000" />
<rect x="1041" y="88" width="1" height="51" fill="#000" />
<rect x="1039" y="92" width="5" height="39" fill="#000" />
<rect x="1040" y="93" width="3" height="37" fill="#fff" />
<rect x="1049" y="61" width="1" height="39" fill="#000" />
<rect x="1047" y="70" width="5" height="23" fill="#000" />
<rect x="1048" y="71" width="3" height="21" fill="#fff" />
<rect x="1057" y="66" width="1" height="43" fill="#000" />
<rect x="1055" y="69" width="5" height="34" fill="#000" />
<rect x="1065" y="59" width="1" height="51" fill="#000" />
<rect x="1063" y="73" width="5" height="30" fill="#000" />
<rect x="1064" y="74" width="3" height="28" fill="#fff" />
<rect x="1073" y="66" width="1" height="17" fill="#000" />
<rect x="1071" y="73" width="5" height="2" fill="#000" />
<rect x="1081" y="72" width="1" height="23" fill="#000" />
<rect x="1079" y="75" width="5" height="7" fill="#000" />
<rect x="1089" y="71" width="1" height="49" fill="#000" />
<rect x="1087" y="81" width="5" height="19" fill="#000" />
<rect x="1097" y="96" width="1" height="53" fill="#000" />
<rect x="1095" y="98" width="5" height="31" fill="#000" />
<rect x="1105" y="101" width="1" height="40" fill="#000" />
<rect x="1103" y="102" width="5" height="28" fill="#000" />
<rect x="1104" y="103" width="3" height="26" fill="#fff" />
<rect x="1113" y="78" width="1" height="30" fill="#000" />
<rect x="1111" y="84" width="5" height="24" fill="#000" />
<rect x="1112" y="85" width="3" height="22" fill="#fff" />
<rect x="1121" y="79" width="1" height="24" fill="#000" />
<rect x="1119" y="84" width="5" height="4" fill="#000" />
<rect x="1120" y="85" width="3" height="2" fill="#fff" />
<rect x="1129" y="74" width="1" height="18" fill="#000" />
<rect x="1127" y="81" width="5" height="5" fill="#000" />
<rect x="1128" y="82" width="3" height="3" fill="#fff" />
<rect x="1137" y="77" width="1" height="17" fill="#000" />
<rect x="1135" y="80" width="5" height="6" fill="#000" />
<rect x="1145" y="77" width="1" height="18" fill="#000" />
<rect x="1143" y="81" width="5" height="6" fill="#000" />
<rect x="1144" y="82" width="3" height="4" fill="#fff" />
<rect x="1153" y="77" width="1" height="8" fill="#000" />
<rect x="1151" y="79" width="5" height="3" fill="#000" />
<rect x="1152" y="80" width="3" height="1" fill="#fff" />
<rect x="1161" y="101" width="1" height="27" fill="#000" />
<rect x="1159" y="101" width="5" height="17" fill="#000" />
<rect x="1169" y="117" width="1" height="33" fill="#000" />
<rect x="1167" y="117" width="5" height="26" fill="#000" />
<rect x="1177" y="132" width="1" height="36" fill="#000" />
<rect x="1175" y="143" width="5" height="21" fill="#000" />
<rect x="1185" y="139" width="1" height="33" fill="#000" />
<rect x="1183" y="162" width="5" height="7" fill="#000" />
<rect x="1193" y="132" width="1" height="49" fill="#000" />
<rect x="1191" y="167" width="5" height="3" fill="#000" />
<rect x="1201" y="158" width="1" height="51" fill="#000" />
<rect x="1199" y="160" width="5" height="10" fill="#000" />
<rect x="1200" y="161" width="3" height="8" fill="#fff" />
<rect x="1209" y="140" width="1" height="37" fill="#000" />
<rect x="1207" y="141" width="5" height="19" fill="#000" />
<rect x="1208" y="142" width="3" height="17" fill="#fff" />
<rect x="1217" y="130" width="1" height="30" fill="#000" />
<rect x="1215" y="132" width="5" height="8" fill="#000" />
<rect x="1216" y="133" width="3" height="6" fill="#fff" />
<rect x="1225" y="128" width="1" height="15" fill="#000" />
<rect x="1223" y="132" width="5" height="3" fill="#000" />
<rect x="1233" y="134" width="1" height="20" fill="#000" />
<rect x="1231" y="134" width="5" height="7" fill="#000" />
<rect x="1241" y="127" width="1" height="24" fill="#000" />
<rect x="1239" y="132" width="5" height="9" fill="#000" />
<rect x="1240" y="133" width="3" height="7" fill="#fff" />
<rect x="1249" y="102" width="1" height="31" fill="#000" />
<rect x="1247" y="110" width="5" height="23" fill="#000" />
<rect x="1248" y="111" width="3" height="21" fill="#fff" />
<rect x="1257" y="107" width="1" height="22" fill="#000" />
<rect x="1255" y="108" width="5" height="2" fill="#000" />
<rect x="1265" y="89" width="1" height="68" fill="#000" />
<rect x="1263" y="105" width="5" height="47" fill="#000" />
<rect x="1273" y="109" width="1" height="48" fill="#000" />
<rect x="1271" y="114" width="5" height="40" fill="#000" />
<rect x="1272" y="115" width="3" height="38" fill="#fff" />
<rect x="1281" y="114" width="1" height="37" fill="#000" />
<rect x="1279" y="114" width="5" height="37" fill="#000" />
<rect x="1289" y="119" width="1" height="33" fill="#000" />
<rect x="1287" y="133" width="5" height="19" fill="#000" />
<rect x="1288" y="134" width="3" height="17" fill="#fff" />
<rect x="1297" y="132" width="1" height="137" fill="#000" />
<rect x="1295" y="132" width="5" height="53" fill="#000" />
<rect x="1305" y="164" width="1" height="60" fill="#000" />
<rect x="1303" y="183" width="5" height="39" fill="#000" />
<rect x="1313" y="189" width="1" height="35" fill="#000" />
<rect x="1311" y="207" width="5" height="13" fill="#000" />
<rect x="1312" y="208" width="3" height="11" fill="#fff" />
<rect x="1321" y="206" width="1" height="40" fill="#000" />
<rect x="1319" y="207" width="5" height="33" fill="#000" />
<rect x="1329" y="210" width="1" height="45" fill="#000" />
<rect x="1327" y="218" width="5" height="22" fill="#000" />
<rect x="1328" y="219" width="3" height="20" fill="#fff" />
<rect x="1337" y="201" width="1" height="89" fill="#000" />
<rect x="1335" y="217" width="5" height="47" fill="#000" />
<rect x="1345" y="230" width="1" height="50" fill="#000" />
<rect x="1343" y="258" width="5" height="6" fill="#000" />
<rect x="1344" y="259" width="3" height="4" fill="#fff" />
<rect x="1353" y="243" width="1" height="39" fill="#000" />
<rect x="1351" y="248" width="5" height="12" fill="#000" />
<rect x="1352" y="249" width="3" height="10" fill="#fff" />
<rect x="1283" y="224" width="96" height="10" fill="#00ff00" />
<g shape-rendering="geometricPrecision">
<line x1="1263.5" y1="103.5" x2="1364" y2="305" stroke="#ff0000" stroke-width="3.1" shape-rendering="crispEdges"/>
<polygon points="1367.6,312.6 1360.4,304.4 1368,300.8" fill="#ff0000" stroke="#ff0000" stroke-width="0.8" stroke-linejoin="round"/>
</g>
<rect x="1474" y="227" width="10" height="1" fill="#ff0000" />
<rect x="1481" y="225" width="3" height="5" fill="#ff0000" />
<rect x="1482" y="226" width="1" height="3" fill="#fff" />
<rect x="1484" y="215" width="74" height="25" fill="#ff0000" />
<rect x="1485" y="216" width="72" height="23" fill="#fff" />
<text x="1485.5" y="235.8" font-size="22.5" fill="#ff0000" textLength="70.5" lengthAdjust="spacingAndGlyphs" stroke="#ff0000" stroke-width="0.3">29043.2</text>
<text x="1408.4" y="302.0" font-size="30.6" fill="#000" textLength="160" lengthAdjust="spacingAndGlyphs" font-weight="500" font-family="'Liberation Serif','Noto Serif CJK SC','Noto Sans CJK SC',serif" stroke="#000" stroke-width="0.35">多空转折点</text>
<text x="1407.4" y="301.0" font-size="30.6" fill="#00ff00" textLength="160" lengthAdjust="spacingAndGlyphs" font-weight="500" font-family="'Liberation Serif','Noto Serif CJK SC','Noto Sans CJK SC',serif" stroke="#00ff00" stroke-width="0.35">多空转折点</text>
<rect x="1607" y="179" width="5" height="5" fill="#ff0000" />
<rect x="1608" y="180" width="3" height="3" fill="#fff" />
<rect x="1607" y="201" width="5" height="5" fill="#ff0000" />
<rect x="1608" y="202" width="3" height="3" fill="#fff" />
<rect x="1607" y="225" width="5" height="5" fill="#32cd32" />
<rect x="1608" y="226" width="3" height="3" fill="#fff" />
<rect x="1607" y="273" width="5" height="5" fill="#0000ff" />
<rect x="1608" y="274" width="3" height="3" fill="#fff" />
<rect x="1607" y="305" width="5" height="5" fill="#0000ff" />
<rect x="1608" y="306" width="3" height="3" fill="#fff" />
</g>
<rect x="0" y="23" width="1613" height="1" fill="#000" />
<rect x="0" y="576" width="1613" height="1" fill="#000" />
<rect x="0" y="578" width="1613" height="1" fill="#000" />
<rect x="0" y="748" width="1613" height="1" fill="#000" />
<rect x="0" y="750" width="1613" height="1" fill="#000" />
<rect x="0" y="924" width="1613" height="1" fill="#000" />
<rect x="1612" y="23" width="1" height="902" fill="#000" />
<rect x="1612" y="577" width="2" height="1" fill="#fff" />
<rect x="1612" y="749" width="2" height="1" fill="#fff" />
<rect x="1613" y="45" width="2" height="1" fill="#000" />
<text x="1618" y="49" font-size="10.2" fill="#000" textLength="33" lengthAdjust="spacingAndGlyphs" stroke="#000" stroke-width="0.25">29554.5</text>
<rect x="1613" y="78" width="2" height="1" fill="#000" />
<text x="1618" y="82" font-size="10.2" fill="#000" textLength="33" lengthAdjust="spacingAndGlyphs" stroke="#000" stroke-width="0.25">29462.0</text>
<rect x="1613" y="111" width="2" height="1" fill="#000" />
<text x="1618" y="115" font-size="10.2" fill="#000" textLength="33" lengthAdjust="spacingAndGlyphs" stroke="#000" stroke-width="0.25">29369.5</text>
<rect x="1613" y="144" width="2" height="1" fill="#000" />
<text x="1618" y="148" font-size="10.2" fill="#000" textLength="33" lengthAdjust="spacingAndGlyphs" stroke="#000" stroke-width="0.25">29277.0</text>
<rect x="1613" y="177" width="2" height="1" fill="#000" />
<text x="1618" y="181" font-size="10.2" fill="#000" textLength="33" lengthAdjust="spacingAndGlyphs" stroke="#000" stroke-width="0.25">29184.5</text>
<rect x="1613" y="210" width="2" height="1" fill="#000" />
<text x="1618" y="214" font-size="10.2" fill="#000" textLength="33" lengthAdjust="spacingAndGlyphs" stroke="#000" stroke-width="0.25">29092.0</text>
<rect x="1613" y="243" width="2" height="1" fill="#000" />
<text x="1618" y="247" font-size="10.2" fill="#000" textLength="33" lengthAdjust="spacingAndGlyphs" stroke="#000" stroke-width="0.25">28999.5</text>
<rect x="1613" y="276" width="2" height="1" fill="#000" />
<rect x="1613" y="309" width="2" height="1" fill="#000" />
<text x="1618" y="313" font-size="10.2" fill="#000" textLength="33" lengthAdjust="spacingAndGlyphs" stroke="#000" stroke-width="0.25">28814.5</text>
<rect x="1613" y="342" width="2" height="1" fill="#000" />
<text x="1618" y="346" font-size="10.2" fill="#000" textLength="33" lengthAdjust="spacingAndGlyphs" stroke="#000" stroke-width="0.25">28722.0</text>
<rect x="1613" y="375" width="2" height="1" fill="#000" />
<text x="1618" y="379" font-size="10.2" fill="#000" textLength="33" lengthAdjust="spacingAndGlyphs" stroke="#000" stroke-width="0.25">28629.5</text>
<rect x="1613" y="408" width="2" height="1" fill="#000" />
<text x="1618" y="412" font-size="10.2" fill="#000" textLength="33" lengthAdjust="spacingAndGlyphs" stroke="#000" stroke-width="0.25">28537.0</text>
<rect x="1613" y="441" width="2" height="1" fill="#000" />
<text x="1618" y="445" font-size="10.2" fill="#000" textLength="33" lengthAdjust="spacingAndGlyphs" stroke="#000" stroke-width="0.25">28444.5</text>
<rect x="1613" y="474" width="2" height="1" fill="#000" />
<text x="1618" y="478" font-size="10.2" fill="#000" textLength="33" lengthAdjust="spacingAndGlyphs" stroke="#000" stroke-width="0.25">28352.0</text>
<rect x="1613" y="507" width="2" height="1" fill="#000" />
<text x="1618" y="511" font-size="10.2" fill="#000" textLength="33" lengthAdjust="spacingAndGlyphs" stroke="#000" stroke-width="0.25">28259.5</text>
<rect x="1613" y="540" width="2" height="1" fill="#000" />
<text x="1618" y="544" font-size="10.2" fill="#000" textLength="33" lengthAdjust="spacingAndGlyphs" stroke="#000" stroke-width="0.25">28167.0</text>
<rect x="1613" y="573" width="2" height="1" fill="#000" />
<text x="1618" y="577" font-size="10.2" fill="#000" textLength="33" lengthAdjust="spacingAndGlyphs" stroke="#000" stroke-width="0.25">28074.5</text>
<rect x="1614" y="175" width="41" height="11" fill="#ff0000" />
<text x="1618" y="184" font-size="10.2" fill="#fff" textLength="33" lengthAdjust="spacingAndGlyphs" stroke="#fff" stroke-width="0.25">29171.9</text>
<rect x="1614" y="197" width="41" height="11" fill="#ff0000" />
<text x="1618" y="206" font-size="10.2" fill="#fff" textLength="33" lengthAdjust="spacingAndGlyphs" stroke="#fff" stroke-width="0.25">29110.3</text>
<rect x="1614" y="221" width="41" height="11" fill="#32cd32" />
<text x="1618" y="230" font-size="10.2" fill="#fff" textLength="33" lengthAdjust="spacingAndGlyphs" stroke="#fff" stroke-width="0.25">29043.2</text>
<rect x="1614" y="243" width="41" height="11" fill="#000000" />
<text x="1618" y="252" font-size="10.2" fill="#fff" textLength="33" lengthAdjust="spacingAndGlyphs" stroke="#fff" stroke-width="0.25">28986.0</text>
<rect x="1614" y="269" width="41" height="11" fill="#0000ff" />
<text x="1618" y="278" font-size="10.2" fill="#fff" textLength="33" lengthAdjust="spacingAndGlyphs" stroke="#fff" stroke-width="0.25">28908.9</text>
<rect x="1614" y="301" width="41" height="11" fill="#0000ff" />
<text x="1618" y="310" font-size="10.2" fill="#fff" textLength="33" lengthAdjust="spacingAndGlyphs" stroke="#fff" stroke-width="0.25">28819.4</text>
<polygon points="0,30 3,34 0,34" fill="#000"/>
<text x="8.5" y="35" font-size="10.2" fill="#000" textLength="185" lengthAdjust="spacingAndGlyphs" stroke="#000" stroke-width="0.25">DJ30-,H4  28955.0 28999.0 28891.0 28986.0</text>
<clipPath id="mc"><rect x="0" y="579" width="1612" height="169"/></clipPath>
<g clip-path="url(#mc)">
<rect x="1" y="653" width="1" height="20" fill="#c0c0c0" />
<rect x="9" y="651" width="1" height="22" fill="#c0c0c0" />
<rect x="17" y="648" width="1" height="25" fill="#c0c0c0" />
<rect x="25" y="647" width="1" height="26" fill="#c0c0c0" />
<rect x="33" y="645" width="1" height="28" fill="#c0c0c0" />
<rect x="41" y="643" width="1" height="30" fill="#c0c0c0" />
<rect x="49" y="640" width="1" height="33" fill="#c0c0c0" />
<rect x="57" y="638" width="1" height="35" fill="#c0c0c0" />
<rect x="65" y="633" width="1" height="40" fill="#c0c0c0" />
<rect x="73" y="629" width="1" height="44" fill="#c0c0c0" />
<rect x="81" y="626" width="1" height="47" fill="#c0c0c0" />
<rect x="89" y="624" width="1" height="49" fill="#c0c0c0" />
<rect x="97" y="623" width="1" height="50" fill="#c0c0c0" />
<rect x="105" y="623" width="1" height="50" fill="#c0c0c0" />
<rect x="113" y="625" width="1" height="48" fill="#c0c0c0" />
<rect x="121" y="625" width="1" height="48" fill="#c0c0c0" />
<rect x="129" y="627" width="1" height="46" fill="#c0c0c0" />
<rect x="137" y="629" width="1" height="44" fill="#c0c0c0" />
<rect x="145" y="631" width="1" height="42" fill="#c0c0c0" />
<rect x="153" y="634" width="1" height="39" fill="#c0c0c0" />
<rect x="161" y="635" width="1" height="38" fill="#c0c0c0" />
<rect x="169" y="637" width="1" height="36" fill="#c0c0c0" />
<rect x="177" y="643" width="1" height="30" fill="#c0c0c0" />
<rect x="185" y="646" width="1" height="27" fill="#c0c0c0" />
<rect x="193" y="648" width="1" height="25" fill="#c0c0c0" />
<rect x="201" y="651" width="1" height="22" fill="#c0c0c0" />
<rect x="209" y="656" width="1" height="17" fill="#c0c0c0" />
<rect x="217" y="658" width="1" height="15" fill="#c0c0c0" />
<rect x="225" y="657" width="1" height="16" fill="#c0c0c0" />
<rect x="233" y="657" width="1" height="16" fill="#c0c0c0" />
<rect x="241" y="657" width="1" height="16" fill="#c0c0c0" />
<rect x="249" y="658" width="1" height="15" fill="#c0c0c0" />
<rect x="257" y="661" width="1" height="12" fill="#c0c0c0" />
<rect x="265" y="666" width="1" height="7" fill="#c0c0c0" />
<rect x="273" y="671" width="1" height="2" fill="#c0c0c0" />
<rect x="281" y="672" width="1" height="1" fill="#c0c0c0" />
<rect x="289" y="672" width="1" height="2" fill="#c0c0c0" />
<rect x="297" y="672" width="1" height="8" fill="#c0c0c0" />
<rect x="305" y="672" width="1" height="8" fill="#c0c0c0" />
<rect x="313" y="672" width="1" height="6" fill="#c0c0c0" />
<rect x="321" y="672" width="1" height="6" fill="#c0c0c0" />
<rect x="329" y="672" width="1" height="5" fill="#c0c0c0" />
<rect x="337" y="672" width="1" height="3" fill="#c0c0c0" />
<rect x="345" y="672" width="1" height="4" fill="#c0c0c0" />
<rect x="353" y="672" width="1" height="11" fill="#c0c0c0" />
<rect x="361" y="672" width="1" height="16" fill="#c0c0c0" />
<rect x="369" y="672" width="1" height="29" fill="#c0c0c0" />
<rect x="377" y="672" width="1" height="37" fill="#c0c0c0" />
<rect x="385" y="672" width="1" height="45" fill="#c0c0c0" />
<rect x="393" y="672" width="1" height="55" fill="#c0c0c0" />
<rect x="401" y="672" width="1" height="62" fill="#c0c0c0" />
<rect x="409" y="672" width="1" height="66" fill="#c0c0c0" />
<rect x="417" y="672" width="1" height="68" fill="#c0c0c0" />
<rect x="425" y="672" width="1" height="68" fill="#c0c0c0" />
<rect x="433" y="672" width="1" height="65" fill="#c0c0c0" />
<rect x="441" y="672" width="1" height="63" fill="#c0c0c0" />
<rect x="449" y="672" width="1" height="58" fill="#c0c0c0" />
<rect x="457" y="672" width="1" height="52" fill="#c0c0c0" />
<rect x="465" y="672" width="1" height="48" fill="#c0c0c0" />
<rect x="473" y="672" width="1" height="41" fill="#c0c0c0" />
<rect x="481" y="672" width="1" height="37" fill="#c0c0c0" />
<rect x="489" y="672" width="1" height="31" fill="#c0c0c0" />
<rect x="497" y="672" width="1" height="26" fill="#c0c0c0" />
<rect x="505" y="672" width="1" height="23" fill="#c0c0c0" />
<rect x="513" y="672" width="1" height="22" fill="#c0c0c0" />
<rect x="521" y="672" width="1" height="27" fill="#c0c0c0" />
<rect x="529" y="672" width="1" height="33" fill="#c0c0c0" />
<rect x="537" y="672" width="1" height="36" fill="#c0c0c0" />
<rect x="545" y="672" width="1" height="40" fill="#c0c0c0" />
<rect x="553" y="672" width="1" height="36" fill="#c0c0c0" />
<rect x="561" y="672" width="1" height="28" fill="#c0c0c0" />
<rect x="569" y="672" width="1" height="20" fill="#c0c0c0" />
<rect x="577" y="672" width="1" height="17" fill="#c0c0c0" />
<rect x="585" y="672" width="1" height="16" fill="#c0c0c0" />
<rect x="593" y="672" width="1" height="24" fill="#c0c0c0" />
<rect x="601" y="672" width="1" height="35" fill="#c0c0c0" />
<rect x="609" y="672" width="1" height="43" fill="#c0c0c0" />
<rect x="617" y="672" width="1" height="49" fill="#c0c0c0" />
<rect x="625" y="672" width="1" height="49" fill="#c0c0c0" />
<rect x="633" y="672" width="1" height="49" fill="#c0c0c0" />
<rect x="641" y="672" width="1" height="50" fill="#c0c0c0" />
<rect x="649" y="672" width="1" height="44" fill="#c0c0c0" />
<rect x="657" y="672" width="1" height="43" fill="#c0c0c0" />
<rect x="665" y="672" width="1" height="43" fill="#c0c0c0" />
<rect x="673" y="672" width="1" height="36" fill="#c0c0c0" />
<rect x="681" y="672" width="1" height="29" fill="#c0c0c0" />
<rect x="689" y="672" width="1" height="20" fill="#c0c0c0" />
<rect x="697" y="672" width="1" height="9" fill="#c0c0c0" />
<rect x="705" y="672" width="1" height="1" fill="#c0c0c0" />
<rect x="713" y="667" width="1" height="6" fill="#c0c0c0" />
<rect x="721" y="662" width="1" height="11" fill="#c0c0c0" />
<rect x="729" y="660" width="1" height="13" fill="#c0c0c0" />
<rect x="737" y="649" width="1" height="24" fill="#c0c0c0" />
<rect x="745" y="640" width="1" height="33" fill="#c0c0c0" />
<rect x="753" y="628" width="1" height="45" fill="#c0c0c0" />
<rect x="761" y="617" width="1" height="56" fill="#c0c0c0" />
<rect x="769" y="606" width="1" height="67" fill="#c0c0c0" />
<rect x="777" y="595" width="1" height="78" fill="#c0c0c0" />
<rect x="785" y="589" width="1" height="84" fill="#c0c0c0" />
<rect x="793" y="589" width="1" height="84" fill="#c0c0c0" />
<rect x="801" y="588" width="1" height="85" fill="#c0c0c0" />
<rect x="809" y="588" width="1" height="85" fill="#c0c0c0" />
<rect x="817" y="590" width="1" height="83" fill="#c0c0c0" />
<rect x="825" y="593" width="1" height="80" fill="#c0c0c0" />
<rect x="833" y="599" width="1" height="74" fill="#c0c0c0" />
<rect x="841" y="606" width="1" height="67" fill="#c0c0c0" />
<rect x="849" y="616" width="1" height="57" fill="#c0c0c0" />
<rect x="857" y="624" width="1" height="49" fill="#c0c0c0" />
<rect x="865" y="635" width="1" height="38" fill="#c0c0c0" />
<rect x="873" y="640" width="1" height="33" fill="#c0c0c0" />
<rect x="881" y="645" width="1" height="28" fill="#c0c0c0" />
<rect x="889" y="649" width="1" height="24" fill="#c0c0c0" />
<rect x="897" y="649" width="1" height="24" fill="#c0c0c0" />
<rect x="905" y="649" width="1" height="24" fill="#c0c0c0" />
<rect x="913" y="646" width="1" height="27" fill="#c0c0c0" />
<rect x="921" y="642" width="1" height="31" fill="#c0c0c0" />
<rect x="929" y="639" width="1" height="34" fill="#c0c0c0" />
<rect x="937" y="637" width="1" height="36" fill="#c0c0c0" />
<rect x="945" y="636" width="1" height="37" fill="#c0c0c0" />
<rect x="953" y="638" width="1" height="35" fill="#c0c0c0" />
<rect x="961" y="640" width="1" height="33" fill="#c0c0c0" />
<rect x="969" y="640" width="1" height="33" fill="#c0c0c0" />
<rect x="977" y="641" width="1" height="32" fill="#c0c0c0" />
<rect x="985" y="639" width="1" height="34" fill="#c0c0c0" />
<rect x="993" y="637" width="1" height="36" fill="#c0c0c0" />
<rect x="1001" y="634" width="1" height="39" fill="#c0c0c0" />
<rect x="1009" y="633" width="1" height="40" fill="#c0c0c0" />
<rect x="1017" y="633" width="1" height="40" fill="#c0c0c0" />
<rect x="1025" y="635" width="1" height="38" fill="#c0c0c0" />
<rect x="1033" y="638" width="1" height="35" fill="#c0c0c0" />
<rect x="1041" y="638" width="1" height="35" fill="#c0c0c0" />
<rect x="1049" y="637" width="1" height="36" fill="#c0c0c0" />
<rect x="1057" y="638" width="1" height="35" fill="#c0c0c0" />
<rect x="1065" y="638" width="1" height="35" fill="#c0c0c0" />
<rect x="1073" y="638" width="1" height="35" fill="#c0c0c0" />
<rect x="1081" y="639" width="1" height="34" fill="#c0c0c0" />
<rect x="1089" y="641" width="1" height="32" fill="#c0c0c0" />
<rect x="1097" y="646" width="1" height="27" fill="#c0c0c0" />
<rect x="1105" y="648" width="1" height="25" fill="#c0c0c0" />
<rect x="1113" y="649" width="1" height="24" fill="#c0c0c0" />
<rect x="1121" y="649" width="1" height="24" fill="#c0c0c0" />
<rect x="1129" y="649" width="1" height="24" fill="#c0c0c0" />
<rect x="1137" y="650" width="1" height="23" fill="#c0c0c0" />
<rect x="1145" y="651" width="1" height="22" fill="#c0c0c0" />
<rect x="1153" y="651" width="1" height="22" fill="#c0c0c0" />
<rect x="1161" y="655" width="1" height="18" fill="#c0c0c0" />
<rect x="1169" y="661" width="1" height="12" fill="#c0c0c0" />
<rect x="1177" y="667" width="1" height="6" fill="#c0c0c0" />
<rect x="1185" y="672" width="1" height="1" fill="#c0c0c0" />
<rect x="1193" y="672" width="1" height="5" fill="#c0c0c0" />
<rect x="1201" y="672" width="1" height="8" fill="#c0c0c0" />
<rect x="1209" y="672" width="1" height="8" fill="#c0c0c0" />
<rect x="1217" y="672" width="1" height="8" fill="#c0c0c0" />
<rect x="1225" y="672" width="1" height="7" fill="#c0c0c0" />
<rect x="1233" y="672" width="1" height="7" fill="#c0c0c0" />
<rect x="1241" y="672" width="1" height="6" fill="#c0c0c0" />
<rect x="1249" y="672" width="1" height="4" fill="#c0c0c0" />
<rect x="1257" y="672" width="1" height="2" fill="#c0c0c0" />
<rect x="1265" y="672" width="1" height="4" fill="#c0c0c0" />
<rect x="1273" y="672" width="1" height="2" fill="#c0c0c0" />
<rect x="1281" y="672" width="1" height="4" fill="#c0c0c0" />
<rect x="1289" y="672" width="1" height="4" fill="#c0c0c0" />
<rect x="1297" y="672" width="1" height="8" fill="#c0c0c0" />
<rect x="1305" y="672" width="1" height="15" fill="#c0c0c0" />
<rect x="1313" y="672" width="1" height="19" fill="#c0c0c0" />
<rect x="1321" y="672" width="1" height="24" fill="#c0c0c0" />
<rect x="1329" y="672" width="1" height="27" fill="#c0c0c0" />
<rect x="1337" y="672" width="1" height="32" fill="#c0c0c0" />
<rect x="1345" y="672" width="1" height="36" fill="#c0c0c0" />
<rect x="1353" y="672" width="1" height="37" fill="#c0c0c0" />
<path d="M0 655h2v1h-2zM5 654h3v1h-3zM11 654h3v1h-3zM17 653h3v1h-3zM23 652h3v1h-3zM29 652h1v1h-1zM30 651h2v1h-2zM35 650h3v1h-3zM41 649h3v1h-3zM47 648h3v1h-3zM53 647h2v1h-2zM55 646h1v1h-1zM59 645h2v1h-2zM61 644h1v1h-1zM65 643h2v1h-2zM67 642h1v1h-1zM71 642h1v1h-1zM72 641h2v1h-2zM77 640h1v1h-1zM78 639h2v1h-2zM83 637h2v1h-2zM85 636h1v1h-1zM89 635h2v1h-2zM91 634h1v1h-1zM95 634h1v1h-1zM96 633h2v1h-2zM101 632h1v1h-1zM102 631h2v1h-2zM107 630h1v1h-1zM108 629h2v1h-2zM113 628h3v1h-3zM119 627h3v1h-3zM125 626h3v1h-3zM131 625h3v1h-3zM137 625h3v1h-3zM143 625h3v1h-3zM149 626h3v1h-3zM155 626h3v1h-3zM161 627h2v1h-2zM163 628h1v1h-1zM167 628h1v1h-1zM168 629h2v1h-2zM173 630h3v1h-3zM179 632h3v1h-3zM185 633h2v1h-2zM187 634h1v1h-1zM191 635h1v1h-1zM192 636h2v1h-2zM197 638h3v1h-3zM203 640h3v1h-3zM209 642h2v1h-2zM211 643h1v1h-1zM215 644h1v1h-1zM216 645h2v1h-2zM221 646h3v1h-3zM227 648h3v1h-3zM233 650h3v1h-3zM239 652h3v1h-3zM245 653h2v1h-2zM247 654h1v1h-1zM251 654h3v1h-3zM257 655h2v1h-2zM259 656h1v1h-1zM263 656h1v1h-1zM264 657h2v1h-2zM269 658h3v1h-3zM275 660h3v1h-3zM281 661h2v1h-2zM283 662h1v1h-1zM287 662h1v1h-1zM288 663h2v1h-2zM293 664h1v1h-1zM294 665h2v1h-2zM299 666h1v1h-1zM300 667h2v1h-2zM305 668h2v1h-2zM307 669h1v1h-1zM311 670h1v1h-1zM312 671h2v1h-2zM317 672h3v1h-3zM323 674h3v1h-3zM329 675h3v1h-3zM335 676h3v1h-3zM341 676h3v1h-3zM347 676h3v1h-3zM353 677h2v1h-2zM355 678h1v1h-1zM359 678h1v1h-1zM360 679h2v1h-2zM365 680h3v1h-3zM371 682h3v1h-3zM377 684h1v1h-1zM378 685h2v1h-2zM383 688h2v1h-2zM385 689h1v1h-1zM389 692h2v1h-2zM391 693h1v1h-1zM395 696h2v1h-2zM397 697h1v1h-1zM401 700h1v1h-1zM402 701h1v1h-1zM403 702h1v1h-1zM407 705h1v1h-1zM408 706h1v1h-1zM409 707h1v1h-1zM413 710h1v1h-1zM414 711h1v1h-1zM415 712h1v1h-1zM419 716h1v1h-1zM420 717h1v1h-1zM421 718h1v1h-1zM425 721h1v1h-1zM426 722h2v1h-2zM431 725h2v1h-2zM433 726h1v1h-1zM437 728h2v1h-2zM439 729h1v1h-1zM443 730h1v1h-1zM444 731h2v1h-2zM449 732h3v1h-3zM455 733h3v1h-3zM461 732h3v1h-3zM467 732h1v1h-1zM468 731h2v1h-2zM473 730h2v1h-2zM475 729h1v1h-1zM479 728h1v1h-1zM480 727h2v1h-2zM485 725h1v1h-1zM486 724h2v1h-2zM491 722h1v1h-1zM492 721h1v1h-1zM493 720h1v1h-1zM497 718h1v1h-1zM498 717h2v1h-2zM503 714h2v1h-2zM505 713h1v1h-1zM509 711h1v1h-1zM510 710h2v1h-2zM515 708h2v1h-2zM517 707h1v1h-1zM521 705h2v1h-2zM523 704h1v1h-1zM527 704h1v1h-1zM528 703h2v1h-2zM533 702h3v1h-3zM539 702h3v1h-3zM545 702h3v1h-3zM551 702h3v1h-3zM557 702h1v1h-1zM558 701h2v1h-2zM563 701h3v1h-3zM569 701h3v1h-3zM575 700h3v1h-3zM581 700h1v1h-1zM582 699h2v1h-2zM587 699h3v1h-3zM593 699h3v1h-3zM599 699h3v1h-3zM605 700h3v1h-3zM611 700h3v1h-3zM617 701h2v1h-2zM619 702h1v1h-1zM623 702h1v1h-1zM624 703h2v1h-2zM629 704h3v1h-3zM635 706h3v1h-3zM641 708h2v1h-2zM643 709h1v1h-1zM647 710h1v1h-1zM648 711h2v1h-2zM653 712h1v1h-1zM654 713h2v1h-2zM659 714h1v1h-1zM660 715h2v1h-2zM665 716h3v1h-3zM671 717h3v1h-3zM677 716h3v1h-3zM683 714h3v1h-3zM689 712h1v1h-1zM690 711h2v1h-2zM695 708h2v1h-2zM697 707h1v1h-1zM701 704h2v1h-2zM703 703h1v1h-1zM707 700h2v1h-2zM709 699h1v1h-1zM713 696h1v1h-1zM714 695h1v1h-1zM715 694h1v1h-1zM719 692h1v1h-1zM720 691h1v1h-1zM721 690h1v1h-1zM725 687h1v1h-1zM726 686h2v1h-2zM731 682h1v1h-1zM732 681h1v1h-1zM733 680h1v1h-1zM737 676h1v1h-1zM738 675h1v1h-1zM739 674h1v1h-1zM743 671h1v1h-1zM744 670h1v1h-1zM745 669h1v1h-1zM749 664h1v1h-1zM749 665h1v1h-1zM750 663h1v1h-1zM754 659h1v1h-1zM755 658h1v1h-1zM756 657h1v1h-1zM760 653h1v1h-1zM761 652h1v1h-1zM762 651h1v1h-1zM766 647h1v1h-1zM767 646h1v1h-1zM768 645h1v1h-1zM772 641h1v1h-1zM773 639h1v1h-1zM773 640h1v1h-1zM777 635h1v1h-1zM778 634h1v1h-1zM779 633h1v1h-1zM783 629h1v1h-1zM784 628h1v1h-1zM785 627h1v1h-1zM789 622h1v1h-1zM789 623h1v1h-1zM790 621h1v1h-1zM794 617h1v1h-1zM795 616h1v1h-1zM796 615h1v1h-1zM800 611h1v1h-1zM801 610h1v1h-1zM802 609h1v1h-1zM806 606h2v1h-2zM808 605h1v1h-1zM812 602h1v1h-1zM813 601h1v1h-1zM814 600h1v1h-1zM818 598h1v1h-1zM819 597h1v1h-1zM820 596h1v1h-1zM824 594h3v1h-3zM830 593h1v1h-1zM831 592h2v1h-2zM836 592h3v1h-3zM842 592h1v1h-1zM843 593h2v1h-2zM848 595h2v1h-2zM850 596h1v1h-1zM854 598h3v1h-3zM860 601h1v1h-1zM861 602h2v1h-2zM866 605h2v1h-2zM868 606h1v1h-1zM872 608h1v1h-1zM873 609h1v1h-1zM874 610h1v1h-1zM878 613h1v1h-1zM879 614h1v1h-1zM880 615h1v1h-1zM884 618h1v1h-1zM885 619h1v1h-1zM886 620h1v1h-1zM890 623h1v1h-1zM891 624h1v1h-1zM892 625h1v1h-1zM896 628h1v1h-1zM897 629h1v1h-1zM898 630h1v1h-1zM902 632h1v1h-1zM903 633h2v1h-2zM908 636h2v1h-2zM910 637h1v1h-1zM914 639h1v1h-1zM915 640h2v1h-2zM920 641h3v1h-3zM926 642h2v1h-2zM928 643h1v1h-1zM932 643h3v1h-3zM938 643h3v1h-3zM944 643h3v1h-3zM950 642h3v1h-3zM956 642h2v1h-2zM958 641h1v1h-1zM962 641h3v1h-3zM968 640h3v1h-3zM974 639h3v1h-3zM980 639h1v1h-1zM981 638h2v1h-2zM986 638h3v1h-3zM992 638h3v1h-3zM998 637h3v1h-3zM1004 637h3v1h-3zM1010 637h3v1h-3zM1016 636h3v1h-3zM1022 636h3v1h-3zM1028 636h3v1h-3zM1034 636h3v1h-3zM1040 636h3v1h-3zM1046 635h3v1h-3zM1052 635h3v1h-3zM1058 635h3v1h-3zM1064 635h3v1h-3zM1070 636h3v1h-3zM1076 636h3v1h-3zM1082 636h3v1h-3zM1088 637h3v1h-3zM1094 638h2v1h-2zM1096 639h1v1h-1zM1100 639h1v1h-1zM1101 640h2v1h-2zM1106 640h3v1h-3zM1112 641h3v1h-3zM1118 642h3v1h-3zM1124 642h2v1h-2zM1126 643h1v1h-1zM1130 643h1v1h-1zM1131 644h2v1h-2zM1136 645h3v1h-3zM1142 646h3v1h-3zM1148 647h3v1h-3zM1154 648h3v1h-3zM1160 649h3v1h-3zM1166 650h2v1h-2zM1168 651h1v1h-1zM1172 652h3v1h-3zM1178 653h1v1h-1zM1179 654h2v1h-2zM1184 656h3v1h-3zM1190 658h2v1h-2zM1192 659h1v1h-1zM1196 660h2v1h-2zM1198 661h1v1h-1zM1202 662h1v1h-1zM1203 663h1v1h-1zM1204 664h1v1h-1zM1208 666h3v1h-3zM1214 668h2v1h-2zM1216 669h1v1h-1zM1220 670h2v1h-2zM1222 671h1v1h-1zM1226 672h2v1h-2zM1228 673h1v1h-1zM1232 674h3v1h-3zM1238 675h1v1h-1zM1239 676h2v1h-2zM1244 676h2v1h-2zM1246 677h1v1h-1zM1250 677h3v1h-3zM1256 677h3v1h-3zM1262 677h3v1h-3zM1268 677h3v1h-3zM1274 677h3v1h-3zM1280 676h3v1h-3zM1286 676h3v1h-3zM1292 676h3v1h-3zM1298 676h3v1h-3zM1304 677h3v1h-3zM1310 678h3v1h-3zM1316 679h3v1h-3zM1322 680h1v1h-1zM1323 681h2v1h-2zM1328 683h3v1h-3zM1334 685h2v1h-2zM1336 686h1v1h-1zM1340 688h3v1h-3zM1346 690h1v1h-1zM1347 691h1v1h-1zM1348 692h1v1h-1zM1352 694h2v1h-2z" fill="#ff0000"/>
</g>
<text x="-1.6" y="591" font-size="10.2" fill="#000" textLength="122.5" lengthAdjust="spacingAndGlyphs" stroke="#000" stroke-width="0.25">MACD(12,26,9) -91.74 -55.07</text>
<rect x="1613" y="580" width="1" height="1" fill="#000" />
<text x="1616" y="589" font-size="10.2" fill="#000" textLength="28" lengthAdjust="spacingAndGlyphs" stroke="#000" stroke-width="0.25">226.15</text>
<rect x="1613" y="672" width="2" height="1" fill="#000" />
<text x="1616" y="676" font-size="10.2" fill="#000" textLength="18" lengthAdjust="spacingAndGlyphs" stroke="#000" stroke-width="0.25">0.00</text>
<rect x="1613" y="747" width="1" height="1" fill="#000" />
<text x="1616" y="745" font-size="10.2" fill="#000" textLength="26.5" lengthAdjust="spacingAndGlyphs" stroke="#000" stroke-width="0.25">-186.7</text>
<clipPath id="rc"><rect x="0" y="751" width="1612" height="173"/></clipPath>
<g clip-path="url(#rc)">
<path d="M0 786h3v1h-3zM6 786h3v1h-3zM12 786h3v1h-3zM18 786h3v1h-3zM24 786h3v1h-3zM30 786h3v1h-3zM36 786h3v1h-3zM42 786h3v1h-3zM48 786h3v1h-3zM54 786h3v1h-3zM60 786h3v1h-3zM66 786h3v1h-3zM72 786h3v1h-3zM78 786h3v1h-3zM84 786h3v1h-3zM90 786h3v1h-3zM96 786h3v1h-3zM102 786h3v1h-3zM108 786h3v1h-3zM114 786h3v1h-3zM120 786h3v1h-3zM126 786h3v1h-3zM132 786h3v1h-3zM138 786h3v1h-3zM144 786h3v1h-3zM150 786h3v1h-3zM156 786h3v1h-3zM162 786h3v1h-3zM168 786h3v1h-3zM174 786h3v1h-3zM180 786h3v1h-3zM186 786h3v1h-3zM192 786h3v1h-3zM198 786h3v1h-3zM204 786h3v1h-3zM210 786h3v1h-3zM216 786h3v1h-3zM222 786h3v1h-3zM228 786h3v1h-3zM234 786h3v1h-3zM240 786h3v1h-3zM246 786h3v1h-3zM252 786h3v1h-3zM258 786h3v1h-3zM264 786h3v1h-3zM270 786h3v1h-3zM276 786h3v1h-3zM282 786h3v1h-3zM288 786h3v1h-3zM294 786h3v1h-3zM300 786h3v1h-3zM306 786h3v1h-3zM312 786h3v1h-3zM318 786h3v1h-3zM324 786h3v1h-3zM330 786h3v1h-3zM336 786h3v1h-3zM342 786h3v1h-3zM348 786h3v1h-3zM354 786h3v1h-3zM360 786h3v1h-3zM366 786h3v1h-3zM372 786h3v1h-3zM378 786h3v1h-3zM384 786h3v1h-3zM390 786h3v1h-3zM396 786h3v1h-3zM402 786h3v1h-3zM408 786h3v1h-3zM414 786h3v1h-3zM420 786h3v1h-3zM426 786h3v1h-3zM432 786h3v1h-3zM438 786h3v1h-3zM444 786h3v1h-3zM450 786h3v1h-3zM456 786h3v1h-3zM462 786h3v1h-3zM468 786h3v1h-3zM474 786h3v1h-3zM480 786h3v1h-3zM486 786h3v1h-3zM492 786h3v1h-3zM498 786h3v1h-3zM504 786h3v1h-3zM510 786h3v1h-3zM516 786h3v1h-3zM522 786h3v1h-3zM528 786h3v1h-3zM534 786h3v1h-3zM540 786h3v1h-3zM546 786h3v1h-3zM552 786h3v1h-3zM558 786h3v1h-3zM564 786h3v1h-3zM570 786h3v1h-3zM576 786h3v1h-3zM582 786h3v1h-3zM588 786h3v1h-3zM594 786h3v1h-3zM600 786h3v1h-3zM606 786h3v1h-3zM612 786h3v1h-3zM618 786h3v1h-3zM624 786h3v1h-3zM630 786h3v1h-3zM636 786h3v1h-3zM642 786h3v1h-3zM648 786h3v1h-3zM654 786h3v1h-3zM660 786h3v1h-3zM666 786h3v1h-3zM672 786h3v1h-3zM678 786h3v1h-3zM684 786h3v1h-3zM690 786h3v1h-3zM696 786h3v1h-3zM702 786h3v1h-3zM708 786h3v1h-3zM714 786h3v1h-3zM720 786h3v1h-3zM726 786h3v1h-3zM732 786h3v1h-3zM738 786h3v1h-3zM744 786h3v1h-3zM750 786h3v1h-3zM756 786h3v1h-3zM762 786h3v1h-3zM768 786h3v1h-3zM774 786h3v1h-3zM780 786h3v1h-3zM786 786h3v1h-3zM792 786h3v1h-3zM798 786h3v1h-3zM804 786h3v1h-3zM810 786h3v1h-3zM816 786h3v1h-3zM822 786h3v1h-3zM828 786h3v1h-3zM834 786h3v1h-3zM840 786h3v1h-3zM846 786h3v1h-3zM852 786h3v1h-3zM858 786h3v1h-3zM864 786h3v1h-3zM870 786h3v1h-3zM876 786h3v1h-3zM882 786h3v1h-3zM888 786h3v1h-3zM894 786h3v1h-3zM900 786h3v1h-3zM906 786h3v1h-3zM912 786h3v1h-3zM918 786h3v1h-3zM924 786h3v1h-3zM930 786h3v1h-3zM936 786h3v1h-3zM942 786h3v1h-3zM948 786h3v1h-3zM954 786h3v1h-3zM960 786h3v1h-3zM966 786h3v1h-3zM972 786h3v1h-3zM978 786h3v1h-3zM984 786h3v1h-3zM990 786h3v1h-3zM996 786h3v1h-3zM1002 786h3v1h-3zM1008 786h3v1h-3zM1014 786h3v1h-3zM1020 786h3v1h-3zM1026 786h3v1h-3zM1032 786h3v1h-3zM1038 786h3v1h-3zM1044 786h3v1h-3zM1050 786h3v1h-3zM1056 786h3v1h-3zM1062 786h3v1h-3zM1068 786h3v1h-3zM1074 786h3v1h-3zM1080 786h3v1h-3zM1086 786h3v1h-3zM1092 786h3v1h-3zM1098 786h3v1h-3zM1104 786h3v1h-3zM1110 786h3v1h-3zM1116 786h3v1h-3zM1122 786h3v1h-3zM1128 786h3v1h-3zM1134 786h3v1h-3zM1140 786h3v1h-3zM1146 786h3v1h-3zM1152 786h3v1h-3zM1158 786h3v1h-3zM1164 786h3v1h-3zM1170 786h3v1h-3zM1176 786h3v1h-3zM1182 786h3v1h-3zM1188 786h3v1h-3zM1194 786h3v1h-3zM1200 786h3v1h-3zM1206 786h3v1h-3zM1212 786h3v1h-3zM1218 786h3v1h-3zM1224 786h3v1h-3zM1230 786h3v1h-3zM1236 786h3v1h-3zM1242 786h3v1h-3zM1248 786h3v1h-3zM1254 786h3v1h-3zM1260 786h3v1h-3zM1266 786h3v1h-3zM1272 786h3v1h-3zM1278 786h3v1h-3zM1284 786h3v1h-3zM1290 786h3v1h-3zM1296 786h3v1h-3zM1302 786h3v1h-3zM1308 786h3v1h-3zM1314 786h3v1h-3zM1320 786h3v1h-3zM1326 786h3v1h-3zM1332 786h3v1h-3zM1338 786h3v1h-3zM1344 786h3v1h-3zM1350 786h3v1h-3zM1356 786h3v1h-3zM1362 786h3v1h-3zM1368 786h3v1h-3zM1374 786h3v1h-3zM1380 786h3v1h-3zM1386 786h3v1h-3zM1392 786h3v1h-3zM1398 786h3v1h-3zM1404 786h3v1h-3zM1410 786h3v1h-3zM1416 786h3v1h-3zM1422 786h3v1h-3zM1428 786h3v1h-3zM1434 786h3v1h-3zM1440 786h3v1h-3zM1446 786h3v1h-3zM1452 786h3v1h-3zM1458 786h3v1h-3zM1464 786h3v1h-3zM1470 786h3v1h-3zM1476 786h3v1h-3zM1482 786h3v1h-3zM1488 786h3v1h-3zM1494 786h3v1h-3zM1500 786h3v1h-3zM1506 786h3v1h-3zM1512 786h3v1h-3zM1518 786h3v1h-3zM1524 786h3v1h-3zM1530 786h3v1h-3zM1536 786h3v1h-3zM1542 786h3v1h-3zM1548 786h3v1h-3zM1554 786h3v1h-3zM1560 786h3v1h-3zM1566 786h3v1h-3zM1572 786h3v1h-3zM1578 786h3v1h-3zM1584 786h3v1h-3zM1590 786h3v1h-3zM1596 786h3v1h-3zM1602 786h3v1h-3zM1608 786h3v1h-3z" fill="#c0c0c0"/>
<path d="M0 837h3v1h-3zM6 837h3v1h-3zM12 837h3v1h-3zM18 837h3v1h-3zM24 837h3v1h-3zM30 837h3v1h-3zM36 837h3v1h-3zM42 837h3v1h-3zM48 837h3v1h-3zM54 837h3v1h-3zM60 837h3v1h-3zM66 837h3v1h-3zM72 837h3v1h-3zM78 837h3v1h-3zM84 837h3v1h-3zM90 837h3v1h-3zM96 837h3v1h-3zM102 837h3v1h-3zM108 837h3v1h-3zM114 837h3v1h-3zM120 837h3v1h-3zM126 837h3v1h-3zM132 837h3v1h-3zM138 837h3v1h-3zM144 837h3v1h-3zM150 837h3v1h-3zM156 837h3v1h-3zM162 837h3v1h-3zM168 837h3v1h-3zM174 837h3v1h-3zM180 837h3v1h-3zM186 837h3v1h-3zM192 837h3v1h-3zM198 837h3v1h-3zM204 837h3v1h-3zM210 837h3v1h-3zM216 837h3v1h-3zM222 837h3v1h-3zM228 837h3v1h-3zM234 837h3v1h-3zM240 837h3v1h-3zM246 837h3v1h-3zM252 837h3v1h-3zM258 837h3v1h-3zM264 837h3v1h-3zM270 837h3v1h-3zM276 837h3v1h-3zM282 837h3v1h-3zM288 837h3v1h-3zM294 837h3v1h-3zM300 837h3v1h-3zM306 837h3v1h-3zM312 837h3v1h-3zM318 837h3v1h-3zM324 837h3v1h-3zM330 837h3v1h-3zM336 837h3v1h-3zM342 837h3v1h-3zM348 837h3v1h-3zM354 837h3v1h-3zM360 837h3v1h-3zM366 837h3v1h-3zM372 837h3v1h-3zM378 837h3v1h-3zM384 837h3v1h-3zM390 837h3v1h-3zM396 837h3v1h-3zM402 837h3v1h-3zM408 837h3v1h-3zM414 837h3v1h-3zM420 837h3v1h-3zM426 837h3v1h-3zM432 837h3v1h-3zM438 837h3v1h-3zM444 837h3v1h-3zM450 837h3v1h-3zM456 837h3v1h-3zM462 837h3v1h-3zM468 837h3v1h-3zM474 837h3v1h-3zM480 837h3v1h-3zM486 837h3v1h-3zM492 837h3v1h-3zM498 837h3v1h-3zM504 837h3v1h-3zM510 837h3v1h-3zM516 837h3v1h-3zM522 837h3v1h-3zM528 837h3v1h-3zM534 837h3v1h-3zM540 837h3v1h-3zM546 837h3v1h-3zM552 837h3v1h-3zM558 837h3v1h-3zM564 837h3v1h-3zM570 837h3v1h-3zM576 837h3v1h-3zM582 837h3v1h-3zM588 837h3v1h-3zM594 837h3v1h-3zM600 837h3v1h-3zM606 837h3v1h-3zM612 837h3v1h-3zM618 837h3v1h-3zM624 837h3v1h-3zM630 837h3v1h-3zM636 837h3v1h-3zM642 837h3v1h-3zM648 837h3v1h-3zM654 837h3v1h-3zM660 837h3v1h-3zM666 837h3v1h-3zM672 837h3v1h-3zM678 837h3v1h-3zM684 837h3v1h-3zM690 837h3v1h-3zM696 837h3v1h-3zM702 837h3v1h-3zM708 837h3v1h-3zM714 837h3v1h-3zM720 837h3v1h-3zM726 837h3v1h-3zM732 837h3v1h-3zM738 837h3v1h-3zM744 837h3v1h-3zM750 837h3v1h-3zM756 837h3v1h-3zM762 837h3v1h-3zM768 837h3v1h-3zM774 837h3v1h-3zM780 837h3v1h-3zM786 837h3v1h-3zM792 837h3v1h-3zM798 837h3v1h-3zM804 837h3v1h-3zM810 837h3v1h-3zM816 837h3v1h-3zM822 837h3v1h-3zM828 837h3v1h-3zM834 837h3v1h-3zM840 837h3v1h-3zM846 837h3v1h-3zM852 837h3v1h-3zM858 837h3v1h-3zM864 837h3v1h-3zM870 837h3v1h-3zM876 837h3v1h-3zM882 837h3v1h-3zM888 837h3v1h-3zM894 837h3v1h-3zM900 837h3v1h-3zM906 837h3v1h-3zM912 837h3v1h-3zM918 837h3v1h-3zM924 837h3v1h-3zM930 837h3v1h-3zM936 837h3v1h-3zM942 837h3v1h-3zM948 837h3v1h-3zM954 837h3v1h-3zM960 837h3v1h-3zM966 837h3v1h-3zM972 837h3v1h-3zM978 837h3v1h-3zM984 837h3v1h-3zM990 837h3v1h-3zM996 837h3v1h-3zM1002 837h3v1h-3zM1008 837h3v1h-3zM1014 837h3v1h-3zM1020 837h3v1h-3zM1026 837h3v1h-3zM1032 837h3v1h-3zM1038 837h3v1h-3zM1044 837h3v1h-3zM1050 837h3v1h-3zM1056 837h3v1h-3zM1062 837h3v1h-3zM1068 837h3v1h-3zM1074 837h3v1h-3zM1080 837h3v1h-3zM1086 837h3v1h-3zM1092 837h3v1h-3zM1098 837h3v1h-3zM1104 837h3v1h-3zM1110 837h3v1h-3zM1116 837h3v1h-3zM1122 837h3v1h-3zM1128 837h3v1h-3zM1134 837h3v1h-3zM1140 837h3v1h-3zM1146 837h3v1h-3zM1152 837h3v1h-3zM1158 837h3v1h-3zM1164 837h3v1h-3zM1170 837h3v1h-3zM1176 837h3v1h-3zM1182 837h3v1h-3zM1188 837h3v1h-3zM1194 837h3v1h-3zM1200 837h3v1h-3zM1206 837h3v1h-3zM1212 837h3v1h-3zM1218 837h3v1h-3zM1224 837h3v1h-3zM1230 837h3v1h-3zM1236 837h3v1h-3zM1242 837h3v1h-3zM1248 837h3v1h-3zM1254 837h3v1h-3zM1260 837h3v1h-3zM1266 837h3v1h-3zM1272 837h3v1h-3zM1278 837h3v1h-3zM1284 837h3v1h-3zM1290 837h3v1h-3zM1296 837h3v1h-3zM1302 837h3v1h-3zM1308 837h3v1h-3zM1314 837h3v1h-3zM1320 837h3v1h-3zM1326 837h3v1h-3zM1332 837h3v1h-3zM1338 837h3v1h-3zM1344 837h3v1h-3zM1350 837h3v1h-3zM1356 837h3v1h-3zM1362 837h3v1h-3zM1368 837h3v1h-3zM1374 837h3v1h-3zM1380 837h3v1h-3zM1386 837h3v1h-3zM1392 837h3v1h-3zM1398 837h3v1h-3zM1404 837h3v1h-3zM1410 837h3v1h-3zM1416 837h3v1h-3zM1422 837h3v1h-3zM1428 837h3v1h-3zM1434 837h3v1h-3zM1440 837h3v1h-3zM1446 837h3v1h-3zM1452 837h3v1h-3zM1458 837h3v1h-3zM1464 837h3v1h-3zM1470 837h3v1h-3zM1476 837h3v1h-3zM1482 837h3v1h-3zM1488 837h3v1h-3zM1494 837h3v1h-3zM1500 837h3v1h-3zM1506 837h3v1h-3zM1512 837h3v1h-3zM1518 837h3v1h-3zM1524 837h3v1h-3zM1530 837h3v1h-3zM1536 837h3v1h-3zM1542 837h3v1h-3zM1548 837h3v1h-3zM1554 837h3v1h-3zM1560 837h3v1h-3zM1566 837h3v1h-3zM1572 837h3v1h-3zM1578 837h3v1h-3zM1584 837h3v1h-3zM1590 837h3v1h-3zM1596 837h3v1h-3zM1602 837h3v1h-3zM1608 837h3v1h-3z" fill="#c0c0c0"/>
<path d="M0 898h3v1h-3zM6 898h3v1h-3zM12 898h3v1h-3zM18 898h3v1h-3zM24 898h3v1h-3zM30 898h3v1h-3zM36 898h3v1h-3zM42 898h3v1h-3zM48 898h3v1h-3zM54 898h3v1h-3zM60 898h3v1h-3zM66 898h3v1h-3zM72 898h3v1h-3zM78 898h3v1h-3zM84 898h3v1h-3zM90 898h3v1h-3zM96 898h3v1h-3zM102 898h3v1h-3zM108 898h3v1h-3zM114 898h3v1h-3zM120 898h3v1h-3zM126 898h3v1h-3zM132 898h3v1h-3zM138 898h3v1h-3zM144 898h3v1h-3zM150 898h3v1h-3zM156 898h3v1h-3zM162 898h3v1h-3zM168 898h3v1h-3zM174 898h3v1h-3zM180 898h3v1h-3zM186 898h3v1h-3zM192 898h3v1h-3zM198 898h3v1h-3zM204 898h3v1h-3zM210 898h3v1h-3zM216 898h3v1h-3zM222 898h3v1h-3zM228 898h3v1h-3zM234 898h3v1h-3zM240 898h3v1h-3zM246 898h3v1h-3zM252 898h3v1h-3zM258 898h3v1h-3zM264 898h3v1h-3zM270 898h3v1h-3zM276 898h3v1h-3zM282 898h3v1h-3zM288 898h3v1h-3zM294 898h3v1h-3zM300 898h3v1h-3zM306 898h3v1h-3zM312 898h3v1h-3zM318 898h3v1h-3zM324 898h3v1h-3zM330 898h3v1h-3zM336 898h3v1h-3zM342 898h3v1h-3zM348 898h3v1h-3zM354 898h3v1h-3zM360 898h3v1h-3zM366 898h3v1h-3zM372 898h3v1h-3zM378 898h3v1h-3zM384 898h3v1h-3zM390 898h3v1h-3zM396 898h3v1h-3zM402 898h3v1h-3zM408 898h3v1h-3zM414 898h3v1h-3zM420 898h3v1h-3zM426 898h3v1h-3zM432 898h3v1h-3zM438 898h3v1h-3zM444 898h3v1h-3zM450 898h3v1h-3zM456 898h3v1h-3zM462 898h3v1h-3zM468 898h3v1h-3zM474 898h3v1h-3zM480 898h3v1h-3zM486 898h3v1h-3zM492 898h3v1h-3zM498 898h3v1h-3zM504 898h3v1h-3zM510 898h3v1h-3zM516 898h3v1h-3zM522 898h3v1h-3zM528 898h3v1h-3zM534 898h3v1h-3zM540 898h3v1h-3zM546 898h3v1h-3zM552 898h3v1h-3zM558 898h3v1h-3zM564 898h3v1h-3zM570 898h3v1h-3zM576 898h3v1h-3zM582 898h3v1h-3zM588 898h3v1h-3zM594 898h3v1h-3zM600 898h3v1h-3zM606 898h3v1h-3zM612 898h3v1h-3zM618 898h3v1h-3zM624 898h3v1h-3zM630 898h3v1h-3zM636 898h3v1h-3zM642 898h3v1h-3zM648 898h3v1h-3zM654 898h3v1h-3zM660 898h3v1h-3zM666 898h3v1h-3zM672 898h3v1h-3zM678 898h3v1h-3zM684 898h3v1h-3zM690 898h3v1h-3zM696 898h3v1h-3zM702 898h3v1h-3zM708 898h3v1h-3zM714 898h3v1h-3zM720 898h3v1h-3zM726 898h3v1h-3zM732 898h3v1h-3zM738 898h3v1h-3zM744 898h3v1h-3zM750 898h3v1h-3zM756 898h3v1h-3zM762 898h3v1h-3zM768 898h3v1h-3zM774 898h3v1h-3zM780 898h3v1h-3zM786 898h3v1h-3zM792 898h3v1h-3zM798 898h3v1h-3zM804 898h3v1h-3zM810 898h3v1h-3zM816 898h3v1h-3zM822 898h3v1h-3zM828 898h3v1h-3zM834 898h3v1h-3zM840 898h3v1h-3zM846 898h3v1h-3zM852 898h3v1h-3zM858 898h3v1h-3zM864 898h3v1h-3zM870 898h3v1h-3zM876 898h3v1h-3zM882 898h3v1h-3zM888 898h3v1h-3zM894 898h3v1h-3zM900 898h3v1h-3zM906 898h3v1h-3zM912 898h3v1h-3zM918 898h3v1h-3zM924 898h3v1h-3zM930 898h3v1h-3zM936 898h3v1h-3zM942 898h3v1h-3zM948 898h3v1h-3zM954 898h3v1h-3zM960 898h3v1h-3zM966 898h3v1h-3zM972 898h3v1h-3zM978 898h3v1h-3zM984 898h3v1h-3zM990 898h3v1h-3zM996 898h3v1h-3zM1002 898h3v1h-3zM1008 898h3v1h-3zM1014 898h3v1h-3zM1020 898h3v1h-3zM1026 898h3v1h-3zM1032 898h3v1h-3zM1038 898h3v1h-3zM1044 898h3v1h-3zM1050 898h3v1h-3zM1056 898h3v1h-3zM1062 898h3v1h-3zM1068 898h3v1h-3zM1074 898h3v1h-3zM1080 898h3v1h-3zM1086 898h3v1h-3zM1092 898h3v1h-3zM1098 898h3v1h-3zM1104 898h3v1h-3zM1110 898h3v1h-3zM1116 898h3v1h-3zM1122 898h3v1h-3zM1128 898h3v1h-3zM1134 898h3v1h-3zM1140 898h3v1h-3zM1146 898h3v1h-3zM1152 898h3v1h-3zM1158 898h3v1h-3zM1164 898h3v1h-3zM1170 898h3v1h-3zM1176 898h3v1h-3zM1182 898h3v1h-3zM1188 898h3v1h-3zM1194 898h3v1h-3zM1200 898h3v1h-3zM1206 898h3v1h-3zM1212 898h3v1h-3zM1218 898h3v1h-3zM1224 898h3v1h-3zM1230 898h3v1h-3zM1236 898h3v1h-3zM1242 898h3v1h-3zM1248 898h3v1h-3zM1254 898h3v1h-3zM1260 898h3v1h-3zM1266 898h3v1h-3zM1272 898h3v1h-3zM1278 898h3v1h-3zM1284 898h3v1h-3zM1290 898h3v1h-3zM1296 898h3v1h-3zM1302 898h3v1h-3zM1308 898h3v1h-3zM1314 898h3v1h-3zM1320 898h3v1h-3zM1326 898h3v1h-3zM1332 898h3v1h-3zM1338 898h3v1h-3zM1344 898h3v1h-3zM1350 898h3v1h-3zM1356 898h3v1h-3zM1362 898h3v1h-3zM1368 898h3v1h-3zM1374 898h3v1h-3zM1380 898h3v1h-3zM1386 898h3v1h-3zM1392 898h3v1h-3zM1398 898h3v1h-3zM1404 898h3v1h-3zM1410 898h3v1h-3zM1416 898h3v1h-3zM1422 898h3v1h-3zM1428 898h3v1h-3zM1434 898h3v1h-3zM1440 898h3v1h-3zM1446 898h3v1h-3zM1452 898h3v1h-3zM1458 898h3v1h-3zM1464 898h3v1h-3zM1470 898h3v1h-3zM1476 898h3v1h-3zM1482 898h3v1h-3zM1488 898h3v1h-3zM1494 898h3v1h-3zM1500 898h3v1h-3zM1506 898h3v1h-3zM1512 898h3v1h-3zM1518 898h3v1h-3zM1524 898h3v1h-3zM1530 898h3v1h-3zM1536 898h3v1h-3zM1542 898h3v1h-3zM1548 898h3v1h-3zM1554 898h3v1h-3zM1560 898h3v1h-3zM1566 898h3v1h-3zM1572 898h3v1h-3zM1578 898h3v1h-3zM1584 898h3v1h-3zM1590 898h3v1h-3zM1596 898h3v1h-3zM1602 898h3v1h-3zM1608 898h3v1h-3z" fill="#c0c0c0"/>
<path d="M0 808h1v1h-1zM0 809h1v1h-1zM1 807h1v1h-1zM2 808h1v1h-1zM3 809h1v1h-1zM4 810h1v1h-1zM5 811h1v1h-1zM6 812h1v1h-1zM7 813h1v1h-1zM8 814h1v1h-1zM9 815h2v1h-2zM11 814h3v1h-3zM14 813h2v1h-2zM16 812h6v1h-6zM22 813h5v1h-5zM27 812h3v1h-3zM30 811h2v1h-2zM32 810h3v1h-3zM35 809h1v1h-1zM36 808h3v1h-3zM39 807h1v1h-1zM40 806h3v1h-3zM43 805h1v1h-1zM44 804h3v1h-3zM47 803h1v1h-1zM48 802h6v1h-6zM54 801h4v1h-4zM58 800h1v1h-1zM59 798h1v1h-1zM59 799h1v1h-1zM60 797h1v1h-1zM61 796h1v1h-1zM62 795h1v1h-1zM63 793h1v1h-1zM63 794h1v1h-1zM64 792h1v1h-1zM65 791h2v1h-2zM67 792h5v1h-5zM72 793h3v1h-3zM75 792h5v1h-5zM80 791h3v1h-3zM83 790h5v1h-5zM88 789h2v1h-2zM90 790h2v1h-2zM92 791h1v1h-1zM93 792h2v1h-2zM95 793h2v1h-2zM97 794h2v1h-2zM99 795h2v1h-2zM101 796h3v1h-3zM104 797h2v1h-2zM106 798h3v1h-3zM109 799h1v1h-1zM110 800h3v1h-3zM113 801h2v1h-2zM115 800h3v1h-3zM118 799h2v1h-2zM120 798h4v1h-4zM124 799h3v1h-3zM127 800h3v1h-3zM130 801h1v1h-1zM131 802h1v1h-1zM132 803h1v1h-1zM133 804h1v1h-1zM133 805h1v1h-1zM134 806h1v1h-1zM135 807h1v1h-1zM136 808h1v1h-1zM137 809h4v1h-4zM141 808h14v1h-14zM155 807h2v1h-2zM157 806h3v1h-3zM160 805h2v1h-2zM162 806h2v1h-2zM164 807h1v1h-1zM165 808h2v1h-2zM167 809h2v1h-2zM169 810h1v1h-1zM169 811h1v1h-1zM170 812h1v3h-1zM171 815h1v4h-1zM172 819h1v3h-1zM173 822h1v3h-1zM174 825h1v3h-1zM175 828h1v4h-1zM176 832h1v3h-1zM177 835h2v1h-2zM177 836h1v1h-1zM179 834h1v1h-1zM180 833h1v1h-1zM181 832h1v1h-1zM182 831h1v1h-1zM183 830h1v1h-1zM184 829h1v1h-1zM185 828h3v1h-3zM188 827h3v1h-3zM191 826h3v1h-3zM194 827h1v1h-1zM195 828h1v1h-1zM196 829h1v1h-1zM197 830h2v1h-2zM199 831h1v1h-1zM200 832h1v1h-1zM201 833h1v1h-1zM202 834h1v1h-1zM203 835h1v1h-1zM204 836h1v1h-1zM205 837h1v1h-1zM205 838h1v1h-1zM206 839h1v1h-1zM207 840h1v1h-1zM208 841h1v1h-1zM209 842h2v1h-2zM211 841h1v1h-1zM212 840h3v1h-3zM215 839h1v1h-1zM216 838h2v1h-2zM217 837h1v1h-1zM218 835h1v1h-1zM218 836h1v1h-1zM219 833h1v1h-1zM219 834h1v1h-1zM220 830h1v3h-1zM221 828h1v1h-1zM221 829h1v1h-1zM222 825h1v3h-1zM223 823h1v1h-1zM223 824h1v1h-1zM224 821h1v1h-1zM224 822h1v1h-1zM225 819h2v1h-2zM225 820h1v1h-1zM227 820h5v1h-5zM232 821h5v1h-5zM237 822h5v1h-5zM242 823h1v1h-1zM243 824h1v1h-1zM243 825h1v1h-1zM244 826h1v1h-1zM245 827h1v1h-1zM246 828h1v1h-1zM247 829h1v1h-1zM247 830h1v1h-1zM248 831h1v1h-1zM249 832h1v1h-1zM250 833h1v1h-1zM251 834h2v1h-2zM253 835h1v1h-1zM254 836h2v1h-2zM256 837h1v1h-1zM257 838h1v1h-1zM257 839h1v1h-1zM258 840h1v1h-1zM258 841h1v1h-1zM259 842h1v1h-1zM259 843h1v1h-1zM260 844h1v1h-1zM260 845h1v1h-1zM261 846h1v3h-1zM262 849h1v1h-1zM262 850h1v1h-1zM263 851h1v1h-1zM263 852h1v1h-1zM264 853h1v1h-1zM264 854h1v1h-1zM265 855h1v1h-1zM265 856h3v1h-3zM268 855h3v1h-3zM271 854h3v1h-3zM274 853h1v1h-1zM275 852h2v1h-2zM277 851h1v1h-1zM278 850h2v1h-2zM280 849h1v1h-1zM281 848h2v1h-2zM283 847h2v1h-2zM285 846h3v1h-3zM288 845h2v1h-2zM289 846h1v1h-1zM290 847h1v1h-1zM290 848h1v1h-1zM291 849h1v1h-1zM291 850h1v1h-1zM292 851h1v1h-1zM292 852h1v1h-1zM293 853h1v3h-1zM294 856h1v1h-1zM294 857h1v1h-1zM295 858h1v1h-1zM295 859h1v1h-1zM296 860h1v1h-1zM296 861h1v1h-1zM297 862h1v1h-1zM297 863h1v1h-1zM298 860h1v1h-1zM298 861h1v1h-1zM299 857h1v3h-1zM300 854h1v3h-1zM301 852h1v1h-1zM301 853h1v1h-1zM302 849h1v3h-1zM303 846h1v3h-1zM304 844h1v1h-1zM304 845h1v1h-1zM305 842h1v1h-1zM305 843h1v1h-1zM306 841h2v1h-2zM308 840h2v1h-2zM310 839h1v1h-1zM311 838h2v1h-2zM313 837h2v1h-2zM315 838h3v1h-3zM318 839h2v1h-2zM320 840h4v1h-4zM324 839h3v1h-3zM327 838h3v1h-3zM330 837h1v1h-1zM331 836h1v1h-1zM332 835h1v1h-1zM333 834h1v1h-1zM334 833h1v1h-1zM335 832h1v1h-1zM336 831h1v1h-1zM337 830h1v1h-1zM338 831h1v1h-1zM338 832h1v1h-1zM339 833h1v1h-1zM339 834h1v1h-1zM340 835h1v1h-1zM341 836h1v1h-1zM341 837h1v1h-1zM342 838h1v1h-1zM343 839h1v1h-1zM343 840h1v1h-1zM344 841h1v1h-1zM344 842h1v1h-1zM345 843h1v1h-1zM345 844h1v1h-1zM346 845h1v1h-1zM346 846h1v1h-1zM347 847h1v1h-1zM347 848h1v1h-1zM348 849h1v1h-1zM348 850h1v1h-1zM349 851h1v1h-1zM349 852h1v1h-1zM350 853h1v1h-1zM350 854h1v1h-1zM351 855h1v1h-1zM351 856h1v1h-1zM352 857h1v1h-1zM352 858h1v1h-1zM353 859h1v1h-1zM353 860h3v1h-3zM356 861h3v1h-3zM359 862h3v1h-3zM361 863h1v1h-1zM362 864h1v1h-1zM362 865h1v1h-1zM363 866h1v1h-1zM363 867h1v1h-1zM364 868h1v1h-1zM364 869h1v1h-1zM365 870h1v1h-1zM365 871h1v1h-1zM366 872h1v1h-1zM366 873h1v1h-1zM367 874h1v1h-1zM367 875h1v1h-1zM368 876h1v1h-1zM368 877h1v1h-1zM369 878h3v1h-3zM369 879h1v1h-1zM372 877h1v1h-1zM373 876h1v1h-1zM374 875h1v1h-1zM375 874h2v1h-2zM377 873h2v1h-2zM379 874h3v1h-3zM382 875h2v1h-2zM384 876h2v1h-2zM386 877h1v1h-1zM387 878h2v1h-2zM389 879h1v1h-1zM390 880h2v1h-2zM392 881h1v1h-1zM393 882h10v1h-10zM403 881h1v1h-1zM404 880h3v1h-3zM407 879h1v1h-1zM408 878h6v1h-6zM414 877h4v1h-4zM418 876h3v1h-3zM421 875h1v1h-1zM422 874h3v1h-3zM425 873h1v1h-1zM426 871h1v1h-1zM426 872h1v1h-1zM427 869h1v1h-1zM427 870h1v1h-1zM428 868h1v1h-1zM429 866h1v1h-1zM429 867h1v1h-1zM430 865h1v1h-1zM431 863h1v1h-1zM431 864h1v1h-1zM432 861h1v1h-1zM432 862h1v1h-1zM433 860h1v1h-1zM434 861h2v1h-2zM436 862h2v1h-2zM438 863h1v1h-1zM439 864h2v1h-2zM441 865h1v1h-1zM442 863h1v1h-1zM442 864h1v1h-1zM443 861h1v1h-1zM443 862h1v1h-1zM444 859h1v1h-1zM444 860h1v1h-1zM445 858h1v1h-1zM446 856h1v1h-1zM446 857h1v1h-1zM447 854h1v1h-1zM447 855h1v1h-1zM448 852h1v1h-1zM448 853h1v1h-1zM449 851h1v1h-1zM450 850h3v1h-3zM453 849h1v1h-1zM454 848h3v1h-3zM457 847h1v1h-1zM458 848h2v1h-2zM460 849h1v1h-1zM461 850h2v1h-2zM463 851h2v1h-2zM465 852h1v1h-1zM466 850h1v1h-1zM466 851h1v1h-1zM467 848h1v1h-1zM467 849h1v1h-1zM468 847h1v1h-1zM469 845h1v1h-1zM469 846h1v1h-1zM470 844h1v1h-1zM471 842h1v1h-1zM471 843h1v1h-1zM472 840h1v1h-1zM472 841h1v1h-1zM473 839h1v1h-1zM474 840h3v1h-3zM477 841h1v1h-1zM478 842h3v1h-3zM481 843h1v1h-1zM482 842h2v1h-2zM484 841h1v1h-1zM485 840h1v1h-1zM486 839h1v1h-1zM487 838h2v1h-2zM489 837h9v1h-9zM498 838h3v1h-3zM501 839h1v1h-1zM502 840h3v1h-3zM505 841h1v1h-1zM506 842h2v1h-2zM508 843h1v1h-1zM509 844h1v1h-1zM510 845h1v1h-1zM511 846h2v1h-2zM513 847h1v1h-1zM514 848h1v1h-1zM514 849h1v1h-1zM515 850h1v1h-1zM515 851h1v1h-1zM516 852h1v1h-1zM516 853h1v1h-1zM517 854h1v1h-1zM518 855h1v1h-1zM518 856h1v1h-1zM519 857h1v1h-1zM519 858h1v1h-1zM520 859h1v1h-1zM520 860h1v1h-1zM521 861h1v1h-1zM522 862h2v1h-2zM524 863h1v1h-1zM525 864h2v1h-2zM527 865h2v1h-2zM529 866h2v1h-2zM531 865h1v1h-1zM532 864h3v1h-3zM535 863h1v1h-1zM536 862h3v1h-3zM539 863h1v1h-1zM540 864h3v1h-3zM543 865h1v1h-1zM544 866h2v1h-2zM545 865h1v1h-1zM546 863h1v1h-1zM546 864h1v1h-1zM547 860h1v3h-1zM548 857h1v3h-1zM549 855h1v1h-1zM549 856h1v1h-1zM550 852h1v3h-1zM551 849h1v3h-1zM552 847h1v1h-1zM552 848h1v1h-1zM553 845h1v1h-1zM553 846h1v1h-1zM554 843h1v1h-1zM554 844h1v1h-1zM555 841h1v1h-1zM555 842h1v1h-1zM556 839h1v1h-1zM556 840h1v1h-1zM557 838h1v1h-1zM558 836h1v1h-1zM558 837h1v1h-1zM559 834h1v1h-1zM559 835h1v1h-1zM560 832h1v1h-1zM560 833h1v1h-1zM561 831h2v1h-2zM563 830h5v1h-5zM568 829h2v1h-2zM570 830h1v1h-1zM571 831h1v1h-1zM572 832h2v1h-2zM574 833h1v1h-1zM575 834h1v1h-1zM576 835h1v1h-1zM577 836h1v1h-1zM578 837h1v1h-1zM579 838h1v1h-1zM580 839h1v1h-1zM581 840h2v1h-2zM583 841h1v1h-1zM584 842h1v1h-1zM585 843h1v1h-1zM586 844h1v3h-1zM587 847h1v1h-1zM588 848h1v3h-1zM589 851h1v1h-1zM590 852h1v3h-1zM591 855h1v1h-1zM592 856h1v3h-1zM593 859h1v1h-1zM594 860h1v1h-1zM595 861h1v1h-1zM596 862h1v1h-1zM597 863h1v1h-1zM598 864h1v1h-1zM599 865h1v1h-1zM600 866h1v1h-1zM601 867h4v1h-4zM605 868h7v1h-7zM612 867h3v1h-3zM615 866h3v1h-3zM618 864h1v1h-1zM618 865h1v1h-1zM619 863h1v1h-1zM620 861h1v1h-1zM620 862h1v1h-1zM621 860h1v1h-1zM622 858h1v1h-1zM622 859h1v1h-1zM623 857h1v1h-1zM624 855h1v1h-1zM624 856h1v1h-1zM625 854h3v1h-3zM628 855h3v1h-3zM631 856h5v1h-5zM636 857h3v1h-3zM639 858h3v1h-3zM642 855h1v3h-1zM643 854h1v1h-1zM644 851h1v3h-1zM645 850h1v1h-1zM646 847h1v3h-1zM647 846h1v1h-1zM648 843h1v3h-1zM649 842h1v1h-1zM650 843h1v1h-1zM651 844h1v1h-1zM652 845h1v1h-1zM653 846h1v1h-1zM654 847h1v1h-1zM655 848h1v1h-1zM656 849h1v1h-1zM657 850h3v1h-3zM660 851h3v1h-3zM663 852h3v1h-3zM666 850h1v1h-1zM666 851h1v1h-1zM667 848h1v1h-1zM667 849h1v1h-1zM668 846h1v1h-1zM668 847h1v1h-1zM669 845h1v1h-1zM670 843h1v1h-1zM670 844h1v1h-1zM671 841h1v1h-1zM671 842h1v1h-1zM672 839h1v1h-1zM672 840h1v1h-1zM673 838h2v1h-2zM675 837h1v1h-1zM676 836h3v1h-3zM679 835h1v1h-1zM680 834h2v1h-2zM682 833h1v1h-1zM683 832h1v1h-1zM684 831h1v1h-1zM685 830h2v1h-2zM687 829h1v1h-1zM688 828h1v1h-1zM689 827h1v1h-1zM690 826h2v1h-2zM692 825h1v1h-1zM693 824h1v1h-1zM694 823h1v1h-1zM695 822h2v1h-2zM697 821h2v1h-2zM699 820h5v1h-5zM704 819h2v1h-2zM706 820h2v1h-2zM708 821h1v1h-1zM709 822h1v1h-1zM710 823h1v1h-1zM711 824h2v1h-2zM713 825h4v1h-4zM717 824h6v1h-6zM723 825h2v1h-2zM725 826h3v1h-3zM728 827h2v1h-2zM730 824h1v3h-1zM731 823h1v1h-1zM732 820h1v3h-1zM733 819h1v1h-1zM734 816h1v3h-1zM735 815h1v1h-1zM736 812h1v3h-1zM737 811h2v1h-2zM739 810h5v1h-5zM744 809h2v1h-2zM746 808h1v1h-1zM747 807h1v1h-1zM748 806h1v1h-1zM749 805h1v1h-1zM750 804h1v1h-1zM751 803h1v1h-1zM752 802h1v1h-1zM753 801h2v1h-2zM755 800h5v1h-5zM760 799h2v1h-2zM762 798h2v1h-2zM764 797h1v1h-1zM765 796h2v1h-2zM767 795h2v1h-2zM769 794h3v1h-3zM772 793h3v1h-3zM775 792h3v1h-3zM778 793h2v1h-2zM780 794h2v1h-2zM782 795h1v1h-1zM783 796h2v1h-2zM785 797h1v1h-1zM786 798h1v1h-1zM786 799h1v1h-1zM787 800h1v1h-1zM788 801h1v1h-1zM788 802h1v1h-1zM789 803h1v1h-1zM790 804h1v1h-1zM790 805h1v1h-1zM791 806h1v1h-1zM792 807h1v1h-1zM792 808h1v1h-1zM793 809h2v1h-2zM795 808h5v1h-5zM800 807h3v1h-3zM803 806h5v1h-5zM808 805h2v1h-2zM810 806h1v1h-1zM811 807h1v1h-1zM812 808h2v1h-2zM814 809h1v1h-1zM815 810h1v1h-1zM816 811h1v1h-1zM817 812h9v1h-9zM826 813h1v1h-1zM827 814h1v1h-1zM828 815h1v1h-1zM829 816h2v1h-2zM831 817h1v1h-1zM832 818h1v1h-1zM833 819h1v1h-1zM834 820h1v1h-1zM835 821h1v1h-1zM836 822h1v1h-1zM837 823h1v1h-1zM837 824h1v1h-1zM838 825h1v1h-1zM839 826h1v1h-1zM840 827h1v1h-1zM841 828h1v1h-1zM842 829h1v1h-1zM843 830h2v1h-2zM845 831h1v1h-1zM846 832h2v1h-2zM848 833h1v1h-1zM849 834h5v1h-5zM854 835h4v1h-4zM858 836h1v1h-1zM858 837h1v1h-1zM859 838h1v1h-1zM860 839h1v1h-1zM861 840h1v1h-1zM861 841h1v1h-1zM862 842h1v1h-1zM863 843h1v1h-1zM864 844h1v1h-1zM864 845h1v1h-1zM865 846h1v1h-1zM866 844h1v1h-1zM866 845h1v1h-1zM867 843h1v1h-1zM868 841h1v1h-1zM868 842h1v1h-1zM869 840h1v1h-1zM870 838h1v1h-1zM870 839h1v1h-1zM871 837h1v1h-1zM872 835h1v1h-1zM872 836h1v1h-1zM873 834h3v1h-3zM876 835h3v1h-3zM879 836h11v1h-11zM890 835h1v1h-1zM891 834h1v1h-1zM892 833h1v1h-1zM893 832h1v1h-1zM894 831h1v1h-1zM895 830h1v1h-1zM896 829h1v1h-1zM897 828h3v1h-3zM900 827h3v1h-3zM903 826h3v1h-3zM906 825h1v1h-1zM907 824h2v1h-2zM909 823h1v1h-1zM910 822h2v1h-2zM912 821h1v1h-1zM913 820h1v1h-1zM914 819h1v1h-1zM915 818h2v1h-2zM917 817h1v1h-1zM918 816h2v1h-2zM920 815h1v1h-1zM921 814h5v1h-5zM926 815h7v1h-7zM933 816h9v1h-9zM942 815h4v1h-4zM946 816h1v1h-1zM946 817h1v1h-1zM947 818h1v1h-1zM948 819h1v1h-1zM948 820h1v1h-1zM949 821h1v1h-1zM950 822h1v1h-1zM950 823h1v1h-1zM951 824h1v1h-1zM952 825h1v1h-1zM952 826h1v1h-1zM953 827h2v1h-2zM955 826h3v1h-3zM958 825h2v1h-2zM960 824h4v1h-4zM964 823h3v1h-3zM967 822h5v1h-5zM972 821h3v1h-3zM975 820h3v1h-3zM978 819h2v1h-2zM980 818h2v1h-2zM982 817h1v1h-1zM983 816h2v1h-2zM985 815h1v1h-1zM986 814h2v1h-2zM988 813h1v1h-1zM989 812h2v1h-2zM991 811h2v1h-2zM993 810h2v1h-2zM995 809h1v1h-1zM996 808h3v1h-3zM999 807h1v1h-1zM1000 806h2v1h-2zM1002 807h1v1h-1zM1003 808h1v1h-1zM1004 809h1v1h-1zM1005 810h2v1h-2zM1007 811h1v1h-1zM1008 812h1v1h-1zM1009 813h9v1h-9zM1018 814h1v1h-1zM1019 815h1v1h-1zM1020 816h2v1h-2zM1022 817h1v1h-1zM1023 818h1v1h-1zM1024 819h1v1h-1zM1025 820h1v1h-1zM1026 821h1v1h-1zM1027 822h1v1h-1zM1028 823h1v1h-1zM1029 824h1v1h-1zM1029 825h1v1h-1zM1030 826h1v1h-1zM1031 827h1v1h-1zM1032 828h1v1h-1zM1033 829h1v1h-1zM1034 827h1v1h-1zM1034 828h1v1h-1zM1035 826h1v1h-1zM1036 825h1v1h-1zM1037 823h1v1h-1zM1037 824h1v1h-1zM1038 822h1v1h-1zM1039 821h1v1h-1zM1040 819h1v1h-1zM1040 820h1v1h-1zM1041 818h1v1h-1zM1042 817h1v1h-1zM1043 816h2v1h-2zM1045 815h1v1h-1zM1046 814h2v1h-2zM1048 813h1v1h-1zM1049 812h1v1h-1zM1050 813h1v1h-1zM1050 814h1v1h-1zM1051 815h1v1h-1zM1051 816h1v1h-1zM1052 817h1v1h-1zM1053 818h1v1h-1zM1053 819h1v1h-1zM1054 820h1v1h-1zM1055 821h1v1h-1zM1055 822h1v1h-1zM1056 823h1v1h-1zM1056 824h1v1h-1zM1057 825h1v1h-1zM1058 824h1v1h-1zM1059 823h1v1h-1zM1060 822h1v1h-1zM1061 821h1v1h-1zM1062 820h1v1h-1zM1063 819h1v1h-1zM1064 818h1v1h-1zM1065 817h4v1h-4zM1069 818h6v1h-6zM1075 819h2v1h-2zM1077 820h3v1h-3zM1080 821h2v1h-2zM1082 822h1v1h-1zM1083 823h1v1h-1zM1084 824h2v1h-2zM1086 825h1v1h-1zM1087 826h1v1h-1zM1088 827h1v1h-1zM1089 828h1v1h-1zM1090 829h1v1h-1zM1091 830h1v1h-1zM1091 831h1v1h-1zM1092 832h1v1h-1zM1093 833h1v1h-1zM1094 834h1v1h-1zM1095 835h1v1h-1zM1095 836h1v1h-1zM1096 837h1v1h-1zM1097 838h1v1h-1zM1098 837h1v1h-1zM1099 836h1v1h-1zM1100 835h1v1h-1zM1101 834h1v1h-1zM1102 833h1v1h-1zM1103 832h1v1h-1zM1104 831h1v1h-1zM1105 830h1v1h-1zM1106 829h2v1h-2zM1108 828h2v1h-2zM1110 827h1v1h-1zM1111 826h2v1h-2zM1113 825h12v1h-12zM1125 824h9v1h-9zM1134 825h7v1h-7zM1141 824h9v1h-9zM1150 823h4v1h-4zM1153 824h1v1h-1zM1154 825h1v1h-1zM1154 826h1v1h-1zM1155 827h1v1h-1zM1155 828h1v1h-1zM1156 829h1v1h-1zM1156 830h1v1h-1zM1157 831h1v1h-1zM1157 832h1v1h-1zM1158 833h1v1h-1zM1158 834h1v1h-1zM1159 835h1v1h-1zM1159 836h1v1h-1zM1160 837h1v1h-1zM1160 838h1v1h-1zM1161 839h1v1h-1zM1161 840h1v1h-1zM1162 841h1v1h-1zM1163 842h1v1h-1zM1164 843h1v1h-1zM1165 844h1v1h-1zM1165 845h1v1h-1zM1166 846h1v1h-1zM1167 847h1v1h-1zM1168 848h1v1h-1zM1169 849h1v1h-1zM1170 850h2v1h-2zM1172 851h1v1h-1zM1173 852h1v1h-1zM1174 853h1v1h-1zM1175 854h2v1h-2zM1177 855h2v1h-2zM1179 856h5v1h-5zM1184 857h10v1h-10zM1194 856h3v1h-3zM1197 855h1v1h-1zM1198 854h3v1h-3zM1201 853h1v1h-1zM1202 852h1v1h-1zM1203 850h1v1h-1zM1203 851h1v1h-1zM1204 849h1v1h-1zM1205 848h1v1h-1zM1206 847h1v1h-1zM1207 845h1v1h-1zM1207 846h1v1h-1zM1208 844h1v1h-1zM1209 843h1v1h-1zM1210 842h3v1h-3zM1213 841h1v1h-1zM1214 840h3v1h-3zM1217 839h4v1h-4zM1221 840h6v1h-6zM1227 841h2v1h-2zM1229 842h3v1h-3zM1232 843h2v1h-2zM1234 842h3v1h-3zM1237 841h1v1h-1zM1238 840h3v1h-3zM1241 839h1v1h-1zM1242 837h1v1h-1zM1242 838h1v1h-1zM1243 836h1v1h-1zM1244 835h1v1h-1zM1245 833h1v1h-1zM1245 834h1v1h-1zM1246 832h1v1h-1zM1247 831h1v1h-1zM1248 829h1v1h-1zM1248 830h1v1h-1zM1249 828h9v1h-9zM1257 829h1v1h-1zM1258 830h1v1h-1zM1258 831h1v1h-1zM1259 832h1v3h-1zM1260 835h1v1h-1zM1260 836h1v1h-1zM1261 837h1v3h-1zM1262 840h1v1h-1zM1262 841h1v1h-1zM1263 842h1v3h-1zM1264 845h1v1h-1zM1264 846h1v1h-1zM1265 847h1v1h-1zM1265 848h1v1h-1zM1266 845h1v3h-1zM1267 844h1v1h-1zM1268 841h1v3h-1zM1269 840h1v1h-1zM1270 837h1v3h-1zM1271 836h1v1h-1zM1272 833h1v3h-1zM1273 832h1v1h-1zM1274 833h1v1h-1zM1274 834h1v1h-1zM1275 835h1v1h-1zM1275 836h1v1h-1zM1276 837h1v1h-1zM1277 838h1v1h-1zM1277 839h1v1h-1zM1278 840h1v1h-1zM1279 841h1v1h-1zM1279 842h1v1h-1zM1280 843h1v1h-1zM1280 844h1v1h-1zM1281 845h1v1h-1zM1282 844h2v1h-2zM1284 843h1v1h-1zM1285 842h1v1h-1zM1286 841h1v1h-1zM1287 840h2v1h-2zM1289 839h1v1h-1zM1290 840h1v1h-1zM1290 841h1v1h-1zM1291 842h1v1h-1zM1291 843h1v1h-1zM1292 844h1v1h-1zM1292 845h1v1h-1zM1293 846h1v1h-1zM1293 847h1v1h-1zM1294 848h1v1h-1zM1294 849h1v1h-1zM1295 850h1v1h-1zM1295 851h1v1h-1zM1296 852h1v1h-1zM1296 853h1v1h-1zM1297 854h1v1h-1zM1298 855h1v1h-1zM1299 856h1v1h-1zM1300 857h1v1h-1zM1301 858h1v1h-1zM1301 859h1v1h-1zM1302 860h1v1h-1zM1303 861h1v1h-1zM1304 862h1v1h-1zM1305 863h1v1h-1zM1306 862h2v1h-2zM1308 861h1v1h-1zM1309 860h1v1h-1zM1310 859h1v1h-1zM1311 858h2v1h-2zM1313 857h1v1h-1zM1314 858h1v1h-1zM1315 859h1v1h-1zM1316 860h2v1h-2zM1318 861h1v1h-1zM1319 862h1v1h-1zM1320 863h1v1h-1zM1321 864h1v1h-1zM1322 863h1v1h-1zM1323 862h1v1h-1zM1324 861h1v1h-1zM1325 860h1v1h-1zM1326 859h1v1h-1zM1327 858h1v1h-1zM1328 857h1v1h-1zM1329 856h1v1h-1zM1330 857h1v1h-1zM1331 858h1v1h-1zM1331 859h1v1h-1zM1332 860h1v1h-1zM1333 861h1v1h-1zM1334 862h1v1h-1zM1335 863h1v1h-1zM1335 864h1v1h-1zM1336 865h1v1h-1zM1337 866h3v1h-3zM1340 865h3v1h-3zM1343 864h4v1h-4zM1347 863h1v1h-1zM1348 862h3v1h-3zM1351 861h1v1h-1zM1352 860h2v1h-2z" fill="#1e90ff"/>
</g>
<text x="-1" y="763" font-size="10.2" fill="#000" textLength="66" lengthAdjust="spacingAndGlyphs" stroke="#000" stroke-width="0.25">RSI(14) 36.9435</text>
<text x="1616" y="761" font-size="10.2" fill="#000" textLength="15.0" lengthAdjust="spacingAndGlyphs" stroke="#000" stroke-width="0.25">100</text>
<text x="1615" y="790" font-size="10.2" fill="#000" textLength="10.0" lengthAdjust="spacingAndGlyphs" stroke="#000" stroke-width="0.25">80</text>
<text x="1615" y="841" font-size="10.2" fill="#000" textLength="10.0" lengthAdjust="spacingAndGlyphs" stroke="#000" stroke-width="0.25">50</text>
<text x="1615" y="902" font-size="10.2" fill="#000" textLength="10.0" lengthAdjust="spacingAndGlyphs" stroke="#000" stroke-width="0.25">15</text>
<text x="1615" y="921" font-size="10.2" fill="#000" textLength="5.0" lengthAdjust="spacingAndGlyphs" stroke="#000" stroke-width="0.25">0</text>
<rect x="1613" y="752" width="1" height="1" fill="#000" />
<text x="-9" y="937" font-size="10.2" fill="#000" textLength="51.0" lengthAdjust="spacingAndGlyphs" stroke="#000" stroke-width="0.25">15 Jan 2020</text>
<rect x="57" y="924" width="1" height="4" fill="#000" />
<text x="56" y="937" font-size="10.2" fill="#000" textLength="53.6" lengthAdjust="spacingAndGlyphs" stroke="#000" stroke-width="0.25">16 Jan 16:00</text>
<rect x="121" y="924" width="1" height="4" fill="#000" />
<text x="120" y="937" font-size="10.2" fill="#000" textLength="53.6" lengthAdjust="spacingAndGlyphs" stroke="#000" stroke-width="0.25">19 Jan 23:00</text>
<rect x="185" y="924" width="1" height="4" fill="#000" />
<text x="184" y="937" font-size="10.2" fill="#000" textLength="53.6" lengthAdjust="spacingAndGlyphs" stroke="#000" stroke-width="0.25">21 Jan 04:00</text>
<rect x="249" y="924" width="1" height="4" fill="#000" />
<text x="248" y="937" font-size="10.2" fill="#000" textLength="53.6" lengthAdjust="spacingAndGlyphs" stroke="#000" stroke-width="0.25">22 Jan 12:00</text>
<rect x="313" y="924" width="1" height="4" fill="#000" />
<text x="312" y="937" font-size="10.2" fill="#000" textLength="53.6" lengthAdjust="spacingAndGlyphs" stroke="#000" stroke-width="0.25">23 Jan 20:00</text>
<rect x="377" y="924" width="1" height="4" fill="#000" />
<text x="376" y="937" font-size="10.2" fill="#000" textLength="53.6" lengthAdjust="spacingAndGlyphs" stroke="#000" stroke-width="0.25">27 Jan 00:00</text>
<rect x="441" y="924" width="1" height="4" fill="#000" />
<text x="440" y="937" font-size="10.2" fill="#000" textLength="53.6" lengthAdjust="spacingAndGlyphs" stroke="#000" stroke-width="0.25">28 Jan 08:00</text>
<rect x="505" y="924" width="1" height="4" fill="#000" />
<text x="504" y="937" font-size="10.2" fill="#000" textLength="53.6" lengthAdjust="spacingAndGlyphs" stroke="#000" stroke-width="0.25">29 Jan 16:00</text>
<rect x="569" y="924" width="1" height="4" fill="#000" />
<text x="568" y="937" font-size="10.2" fill="#000" textLength="53.6" lengthAdjust="spacingAndGlyphs" stroke="#000" stroke-width="0.25">31 Jan 00:00</text>
<rect x="633" y="924" width="1" height="4" fill="#000" />
<text x="632" y="937" font-size="10.2" fill="#000" textLength="48.6" lengthAdjust="spacingAndGlyphs" stroke="#000" stroke-width="0.25">3 Feb 04:00</text>
<rect x="697" y="924" width="1" height="4" fill="#000" />
<text x="696" y="937" font-size="10.2" fill="#000" textLength="48.6" lengthAdjust="spacingAndGlyphs" stroke="#000" stroke-width="0.25">4 Feb 12:00</text>
<rect x="761" y="924" width="1" height="4" fill="#000" />
<text x="760" y="937" font-size="10.2" fill="#000" textLength="48.6" lengthAdjust="spacingAndGlyphs" stroke="#000" stroke-width="0.25">5 Feb 20:00</text>
<rect x="825" y="924" width="1" height="4" fill="#000" />
<text x="824" y="937" font-size="10.2" fill="#000" textLength="48.6" lengthAdjust="spacingAndGlyphs" stroke="#000" stroke-width="0.25">7 Feb 04:00</text>
<rect x="889" y="924" width="1" height="4" fill="#000" />
<text x="888" y="937" font-size="10.2" fill="#000" textLength="53.6" lengthAdjust="spacingAndGlyphs" stroke="#000" stroke-width="0.25">10 Feb 08:00</text>
<rect x="953" y="924" width="1" height="4" fill="#000" />
<text x="952" y="937" font-size="10.2" fill="#000" textLength="53.6" lengthAdjust="spacingAndGlyphs" stroke="#000" stroke-width="0.25">11 Feb 16:00</text>
<rect x="1017" y="924" width="1" height="4" fill="#000" />
<text x="1016" y="937" font-size="10.2" fill="#000" textLength="53.6" lengthAdjust="spacingAndGlyphs" stroke="#000" stroke-width="0.25">13 Feb 00:00</text>
<rect x="1081" y="924" width="1" height="4" fill="#000" />
<text x="1080" y="937" font-size="10.2" fill="#000" textLength="53.6" lengthAdjust="spacingAndGlyphs" stroke="#000" stroke-width="0.25">14 Feb 08:00</text>
<rect x="1145" y="924" width="1" height="4" fill="#000" />
<text x="1144" y="937" font-size="10.2" fill="#000" textLength="53.6" lengthAdjust="spacingAndGlyphs" stroke="#000" stroke-width="0.25">17 Feb 12:00</text>
<rect x="1209" y="924" width="1" height="4" fill="#000" />
<text x="1208" y="937" font-size="10.2" fill="#000" textLength="53.6" lengthAdjust="spacingAndGlyphs" stroke="#000" stroke-width="0.25">18 Feb 20:00</text>
<rect x="1273" y="924" width="1" height="4" fill="#000" />
<text x="1272" y="937" font-size="10.2" fill="#000" textLength="53.6" lengthAdjust="spacingAndGlyphs" stroke="#000" stroke-width="0.25">20 Feb 04:00</text>
<rect x="1337" y="924" width="1" height="4" fill="#000" />
<text x="1336" y="937" font-size="10.2" fill="#000" textLength="53.6" lengthAdjust="spacingAndGlyphs" stroke="#000" stroke-width="0.25">21 Feb 12:00</text>
<rect x="1658" y="20" width="1" height="925" fill="#e4e4e4" />
<!-- trade panel -->
<defs>
<linearGradient id="gb" gradientUnits="userSpaceOnUse" x1="0" y1="43" x2="0" y2="67"><stop offset="0" stop-color="#fa5252"/><stop offset="1" stop-color="#df3838"/></linearGradient>
<linearGradient id="gp" gradientUnits="userSpaceOnUse" x1="0" y1="67" x2="0" y2="107"><stop offset="0" stop-color="#dc3030"/><stop offset="0.6" stop-color="#c41414"/><stop offset="1" stop-color="#ae0000"/></linearGradient>
<linearGradient id="gs" x1="0" y1="0" x2="0" y2="1"><stop offset="0" stop-color="#f2f2f2"/><stop offset="0.45" stop-color="#e6e6e6"/><stop offset="0.5" stop-color="#d8d8d8"/><stop offset="1" stop-color="#d2d2d2"/></linearGradient>
</defs>
<g shape-rendering="crispEdges">
<rect x="0" y="43" width="215" height="64" fill="#fff"/>
<rect x="0" y="43" width="48" height="25" fill="url(#gb)"/>
<rect x="163" y="43" width="52" height="25" fill="url(#gb)"/>
<rect x="0" y="43" width="48" height="1" fill="#c80808"/>
<rect x="163" y="43" width="52" height="1" fill="#c80808"/>
<rect x="47" y="43" width="1" height="25" fill="#c00808"/>
<rect x="163" y="43" width="1" height="25" fill="#c00808"/>
<rect x="0" y="67" width="105" height="40" fill="url(#gp)"/>
<rect x="107" y="67" width="108" height="40" fill="url(#gp)"/>
<rect x="47" y="67" width="58" height="1" fill="#c40c0c"/>
<rect x="107" y="67" width="57" height="1" fill="#c40c0c"/>
<rect x="0" y="66" width="44" height="1" fill="#8c0000"/>
<rect x="0" y="67" width="44" height="1" fill="#f46a6a"/>
<rect x="167" y="66" width="44" height="1" fill="#8c0000"/>
<rect x="167" y="67" width="44" height="1" fill="#f46a6a"/>
<rect x="214" y="43" width="1" height="64" fill="#c00808"/>
<rect x="50" y="43" width="111" height="22" fill="#a4a9b4"/>
<rect x="51" y="44" width="109" height="20" fill="#fff"/>
<rect x="51" y="44" width="20" height="20" fill="#f4f4f4"/>
<rect x="140" y="44" width="20" height="20" fill="#f4f4f4"/>
<rect x="52" y="45" width="18" height="18" fill="url(#gs)"/>
<rect x="141" y="45" width="18" height="18" fill="url(#gs)"/>
<rect x="71" y="44" width="1" height="20" fill="#a4a9b4"/>
<rect x="139" y="44" width="1" height="20" fill="#a4a9b4"/>
</g>
<polygon points="57.8,52 63.2,52 60.5,55" fill="#5060c0"/>
<polygon points="146.8,55 152.2,55 149.5,52.2" fill="#6a78c8"/>
<text x="8.5" y="59" font-size="12.5" fill="#fff" textLength="25.5" lengthAdjust="spacingAndGlyphs">SELL</text>
<text x="176" y="59" font-size="12.5" fill="#fff" textLength="23.5" lengthAdjust="spacingAndGlyphs">BUY</text>
<text x="135.8" y="57.6" font-size="12.8" fill="#000" text-anchor="end" stroke="#000" stroke-width="0.2">1.00</text>
<text x="12" y="98" font-size="12" font-weight="bold" fill="#fff" textLength="35" lengthAdjust="spacingAndGlyphs">28984</text>
<rect x="51.5" y="94.5" width="3.6" height="3.6" fill="#fff"/>
<text x="58.5" y="98.2" font-size="35.6" fill="#fff" stroke="url(#gp)" stroke-width="0.45" textLength="16.2" lengthAdjust="spacingAndGlyphs">5</text>
<text x="122" y="98" font-size="12" font-weight="bold" fill="#fff" textLength="35" lengthAdjust="spacingAndGlyphs">28992</text>
<rect x="162.5" y="94.5" width="3.6" height="3.6" fill="#fff"/>
<text x="169.5" y="98.2" font-size="35.6" fill="#fff" stroke="url(#gp)" stroke-width="0.45" textLength="16.2" lengthAdjust="spacingAndGlyphs">5</text>

<!-- toolbar -->
<g shape-rendering="crispEdges">
<rect x="0" y="0" width="1659" height="19" fill="#f0f0f0"/>
<rect x="0" y="18" width="1659" height="1" fill="#ebebeb"/>
<rect x="0" y="19" width="1659" height="1" fill="#cfcfcf"/>
<rect x="0" y="20" width="1659" height="1" fill="#7e7e7e"/>
<rect x="0" y="21" width="1658" height="2" fill="#fff"/>
<rect x="248" y="0" width="24" height="17" fill="#fafafa"/>
<rect x="587" y="0" width="24" height="17" fill="#fafafa"/>
<rect x="1034" y="0" width="25" height="17" fill="#fafafa"/>
<rect x="247" y="0" width="1" height="18" fill="#a0a0a0"/>
<rect x="304" y="0" width="1" height="18" fill="#a0a0a0"/>
<rect x="394" y="0" width="1" height="18" fill="#a0a0a0"/>
<rect x="399" y="0" width="1" height="18" fill="#a0a0a0"/>
<rect x="427" y="0" width="1" height="18" fill="#a0a0a0"/>
<rect x="456" y="0" width="1" height="18" fill="#a0a0a0"/>
<rect x="577" y="0" width="1" height="18" fill="#a0a0a0"/>
<rect x="644" y="0" width="1" height="18" fill="#a0a0a0"/>
<rect x="883" y="0" width="1" height="18" fill="#a0a0a0"/>
<rect x="1033" y="0" width="1" height="18" fill="#a0a0a0"/>
<rect x="1144" y="0" width="1" height="18" fill="#a0a0a0"/>
<rect x="213" y="1" width="3" height="1" fill="#b4b4b4"/>
<rect x="213" y="3" width="3" height="1" fill="#b4b4b4"/>
<rect x="213" y="5" width="3" height="1" fill="#b4b4b4"/>
<rect x="213" y="7" width="3" height="1" fill="#b4b4b4"/>
<rect x="213" y="9" width="3" height="1" fill="#b4b4b4"/>
<rect x="213" y="11" width="3" height="1" fill="#b4b4b4"/>
<rect x="213" y="13" width="3" height="1" fill="#b4b4b4"/>
<rect x="213" y="15" width="3" height="1" fill="#b4b4b4"/>
<rect x="581" y="1" width="3" height="1" fill="#b4b4b4"/>
<rect x="581" y="3" width="3" height="1" fill="#b4b4b4"/>
<rect x="581" y="5" width="3" height="1" fill="#b4b4b4"/>
<rect x="581" y="7" width="3" height="1" fill="#b4b4b4"/>
<rect x="581" y="9" width="3" height="1" fill="#b4b4b4"/>
<rect x="581" y="11" width="3" height="1" fill="#b4b4b4"/>
<rect x="581" y="13" width="3" height="1" fill="#b4b4b4"/>
<rect x="581" y="15" width="3" height="1" fill="#b4b4b4"/>
<rect x="887" y="1" width="3" height="1" fill="#b4b4b4"/>
<rect x="887" y="3" width="3" height="1" fill="#b4b4b4"/>
<rect x="887" y="5" width="3" height="1" fill="#b4b4b4"/>
<rect x="887" y="7" width="3" height="1" fill="#b4b4b4"/>
<rect x="887" y="9" width="3" height="1" fill="#b4b4b4"/>
<rect x="887" y="11" width="3" height="1" fill="#b4b4b4"/>
<rect x="887" y="13" width="3" height="1" fill="#b4b4b4"/>
<rect x="887" y="15" width="3" height="1" fill="#b4b4b4"/>
</g>
<g shape-rendering="geometricPrecision">
<text x="1" y="9.6" font-size="12.5" fill="#000" stroke="#000" stroke-width="0.25" font-family="'Liberation Sans','Noto Sans CJK SC','WenQuanYi Zen Hei',sans-serif" textLength="37" lengthAdjust="spacingAndGlyphs">新订单</text>
<text x="154.5" y="9.6" font-size="12.5" fill="#000" stroke="#000" stroke-width="0.25" font-family="'Liberation Sans','Noto Sans CJK SC','WenQuanYi Zen Hei',sans-serif" textLength="47" lengthAdjust="spacingAndGlyphs">自动交易</text>
<defs><linearGradient id="gbk" x1="0" y1="0" x2="1" y2="1"><stop offset="0" stop-color="#c89010"/><stop offset="0.35" stop-color="#fbe878"/><stop offset="0.7" stop-color="#e8b424"/><stop offset="1" stop-color="#b07808"/></linearGradient><linearGradient id="gcl" x1="0" y1="0" x2="0" y2="1"><stop offset="0" stop-color="#ffffff"/><stop offset="1" stop-color="#c4d0e8"/></linearGradient><linearGradient id="gfn" x1="0" y1="0" x2="1" y2="0"><stop offset="0" stop-color="#f0c020"/><stop offset="0.5" stop-color="#fcf0a0"/><stop offset="1" stop-color="#e0a818"/></linearGradient><radialGradient id="ggr" cx="0.5" cy="0.5" r="0.5"><stop offset="0" stop-color="#e8f0e8"/><stop offset="1" stop-color="#58a858"/></radialGradient></defs>
<polygon points="55.6,-1 65.8,8.2 59,14.8 50,9.2" fill="#a87408"/>
<polygon points="55.8,-1 65.4,7.4 58.4,13.4 50.6,8.6" fill="url(#gbk)"/>
<path d="M80.3,-1 H91.2 V8 H80.3z" fill="#1e90f0"/>
<path d="M80.3,-1 H83.5 V8 H80.3z" fill="#0a70d8"/>
<rect x="85" y="2.8" width="5" height="1.6" fill="#d8ecff"/>
<path d="M81,14.2 a3,3 0 0 1 -0.3,-5.6 a3.6,3.6 0 0 1 6.6,-1.2 a3,3 0 0 1 4.4,2 a2.5,2.5 0 0 1 -0.2,4.8 z" fill="url(#gcl)" stroke="#4868a8" stroke-width="1"/>
<path d="M114,6.6 L114,14.4 A7.8,7.8 0 0 0 120.6,2.4 Z" fill="url(#ggr)" opacity="0.9"/>
<path d="M114,-1 A7.6,7.6 0 0 0 114,14.2" fill="none" stroke="#7898e0" stroke-width="1.1" stroke-dasharray="2.2 1.2"/>
<path d="M114,2.6 A4,4 0 0 0 114,10.6" fill="none" stroke="#5078d8" stroke-width="1.1" stroke-dasharray="2 1"/>
<path d="M114,-1 A7.6,7.6 0 0 1 121.6,6.6" fill="none" stroke="#a8c0a8" stroke-width="1"/>
<circle cx="113.8" cy="6.4" r="1.8" fill="#2450d0"/>
<path d="M114.3,7 V14.4" stroke="#20a020" stroke-width="1.2"/>
<path d="M134,6.2 L148.8,6.2 L142.6,14.4 L140.4,14.4z" fill="url(#gfn)" stroke="#c89818" stroke-width="0.5"/>
<path d="M133.2,4 Q135,1.5 138.5,2 L139.5,-1 H143.5 L144.5,2 Q148,1.5 149.2,4 Q141,8.5 133.2,4z" fill="#58a8e0" stroke="#3078b8" stroke-width="0.5"/>
<circle cx="145.6" cy="10.6" r="4.2" fill="#d82010"/>
<rect x="144" y="9" width="3.2" height="3.2" fill="#fff"/>
<path d="M227.5,1 V14.5 M225,12.5 H239" stroke="#505050" stroke-width="1.1" fill="none"/>
<path d="M226,3 L227.5,0.5 L229,3 M237,11 L239,12.5 L237,14" stroke="#505050" stroke-width="1" fill="none"/>
<path d="M233.5,2.5 V10 M233.5,3 H236 M231.5,9.5 H233.5" stroke="#2a9a2a" stroke-width="1.3" fill="none"/>
<path d="M255.5,1 V14.5 M253,12.5 H267" stroke="#505050" stroke-width="1.1" fill="none"/>
<path d="M254,3 L255.5,0.5 L257,3 M265,11 L267,12.5 L265,14" stroke="#505050" stroke-width="1" fill="none"/>
<path d="M261.5,0 V10.5" stroke="#207020" stroke-width="1"/>
<rect x="259.5" y="1.5" width="4" height="7" fill="#30c030" stroke="#207020" stroke-width="0.8"/>
<path d="M283.5,1 V14.5 M281,12.5 H295" stroke="#505050" stroke-width="1.1" fill="none"/>
<path d="M282,3 L283.5,0.5 L285,3 M293,11 L295,12.5 L293,14" stroke="#505050" stroke-width="1" fill="none"/>
<path d="M283,9.5 Q287,2 289.5,4.5 T294.5,8.5" stroke="#2a9a2a" stroke-width="1.2" fill="none"/>
<path d="M323.5,9 L327.8,13.3" stroke="#d0a020" stroke-width="2.6" stroke-linecap="round"/>
<circle cx="319.5" cy="5" r="5.6" fill="#d8ecfa" stroke="#4a88d0" stroke-width="1.3"/>
<path d="M316.5,5 H322.5" stroke="#3070c8" stroke-width="1.6"/>
<path d="M319.5,2 V8" stroke="#3070c8" stroke-width="1.6"/>
<path d="M351.5,9 L355.8,13.3" stroke="#d0a020" stroke-width="2.6" stroke-linecap="round"/>
<circle cx="347.5" cy="5" r="5.6" fill="#d8ecfa" stroke="#4a88d0" stroke-width="1.3"/>
<path d="M344.5,5 H350.5" stroke="#3070c8" stroke-width="1.6"/>
<rect x="369" y="-1" width="7.5" height="7.5" fill="#58b030"/>
<rect x="370.2" y="2" width="5" height="3" fill="#f0f4fa"/>
<rect x="377.5" y="-1" width="7.5" height="7.5" fill="#3060d0"/>
<rect x="378.7" y="2" width="5" height="3" fill="#f0f4fa"/>
<rect x="369" y="7.5" width="7.5" height="7.5" fill="#3060d0"/>
<rect x="370.2" y="10.5" width="5" height="3" fill="#f0f4fa"/>
<rect x="377.5" y="7.5" width="7.5" height="7.5" fill="#58b030"/>
<rect x="378.7" y="10.5" width="5" height="3" fill="#f0f4fa"/>
<path d="M407.5,1 V14.5 M405,12.5 H419" stroke="#505050" stroke-width="1.1" fill="none"/>
<path d="M406,3 L407.5,0.5 L409,3 M417,11 L419,12.5 L417,14" stroke="#505050" stroke-width="1" fill="none"/>
<polygon points="412.5,4 412.5,9.5 417,6.7" fill="#30b030"/>
<path d="M435.5,1 V14.5 M433,12.5 H447" stroke="#505050" stroke-width="1.1" fill="none"/>
<path d="M434,3 L435.5,0.5 L437,3 M445,11 L447,12.5 L445,14" stroke="#505050" stroke-width="1" fill="none"/>
<path d="M441.5,1 V10.5" stroke="#3070b0" stroke-width="1.1"/>
<path d="M447,6 H443 M445,4 L443,6 L445,8" stroke="#d04010" stroke-width="1.1" fill="none"/>
<path d="M467,-1 H474 L477,2 V12 H467z" fill="#fafafa" stroke="#909090" stroke-width="0.8"/>
<path d="M475.5,5 V16 M470,10.5 H481.5" stroke="#20a020" stroke-width="3.6"/>
<path d="M475.5,6 V15 M471,10.5 H480.5" stroke="#40d040" stroke-width="1.8"/>
<polygon points="488,6 493.5,6 490.75,9" fill="#000"/>
<polygon points="527,6 532.5,6 529.75,9" fill="#000"/>
<polygon points="566,6 571.5,6 568.75,9" fill="#000"/>
<polygon points="872,6 877.5,6 874.75,9" fill="#000"/>
<circle cx="512" cy="6.5" r="7.2" fill="#2a70d8" stroke="#1a50a8" stroke-width="0.8"/>
<circle cx="512" cy="6.5" r="4.8" fill="#f4f8fc"/>
<path d="M512,3 V7 H515" stroke="#404040" stroke-width="1" fill="none"/>
<rect x="543.5" y="-1" width="15" height="14" fill="#fafcff" stroke="#3a70c0" stroke-width="1"/>
<rect x="543" y="-1" width="16" height="2.5" fill="#3a70c0"/>
<path d="M545,6.5 L548,5 L551,5.8 L554,4 L557,4.5" stroke="#c03020" stroke-width="1" fill="none"/>
<path d="M543.5,8 H558.5" stroke="#3a70c0" stroke-width="0.7"/>
<path d="M545,11.5 L548,10 L551,11 L554,9 L557,11" stroke="#20a020" stroke-width="1" fill="none"/>
<polygon points="595,-1 595,11 598,8.5 600.5,13.5 602.5,12.5 600,7.5 604,7.5" fill="#404040"/>
<path d="M627.5,0 V14 M620,7.5 H635" stroke="#404040" stroke-width="1" shape-rendering="crispEdges"/>
<path d="M661.5,1 V14" stroke="#404040" stroke-width="1" shape-rendering="crispEdges"/>
<path d="M684,7.5 H696" stroke="#404040" stroke-width="1" shape-rendering="crispEdges"/>
<path d="M712,14 L724,2" stroke="#404040" stroke-width="1.1"/>
<path d="M738,10 L750,1 M740,13 L752,4 M739,11.5 L751,2.5" stroke="#404040" stroke-width="0.9"/>
<path d="M742,5 V12 M745,3 V10 M748,1 V8" stroke="#404040" stroke-width="0.8"/>
<text x="749" y="16" font-size="6.5" font-weight="bold" fill="#303030">E</text>
<path d="M767,0.5 H780" stroke="#404040" stroke-width="1" stroke-dasharray="1 1" shape-rendering="crispEdges"/>
<path d="M767,4.5 H780" stroke="#404040" stroke-width="1" stroke-dasharray="1 1" shape-rendering="crispEdges"/>
<path d="M767,8.0 H780" stroke="#404040" stroke-width="1" stroke-dasharray="1 1" shape-rendering="crispEdges"/>
<path d="M767,12.0 H780" stroke="#404040" stroke-width="1" stroke-dasharray="1 1" shape-rendering="crispEdges"/>
<text x="777" y="16" font-size="6.5" font-weight="bold" fill="#303030">F</text>
<text x="797.5" y="12" font-size="12" fill="#404040">A</text>
<rect x="824.5" y="0.5" width="11" height="13" fill="none" stroke="#505050" stroke-width="1" stroke-dasharray="1 1" shape-rendering="crispEdges"/>
<text x="826" y="12" font-size="11.5" font-weight="bold" fill="#404040">T</text>
<polygon points="855,1 851.5,5 858.5,5" fill="#404040"/>
<polygon points="861.5,13.5 858,9.5 865,9.5" fill="#404040"/>
<path d="M854,7 L857,10 L861,4.5" stroke="#404040" stroke-width="1.2" fill="none"/>
<text x="898" y="10.8" font-size="9.2" fill="#404040" textLength="13.5" lengthAdjust="spacingAndGlyphs">M1</text>
<text x="926.5" y="10.8" font-size="9.2" fill="#404040" textLength="13" lengthAdjust="spacingAndGlyphs">M5</text>
<text x="952.5" y="10.8" font-size="9.2" fill="#404040" textLength="17.5" lengthAdjust="spacingAndGlyphs">M15</text>
<text x="980.5" y="10.8" font-size="9.2" fill="#404040" textLength="18" lengthAdjust="spacingAndGlyphs">M30</text>
<text x="1011.5" y="10.8" font-size="9.2" fill="#404040" textLength="12" lengthAdjust="spacingAndGlyphs">H1</text>
<text x="1038.5" y="10.8" font-size="9.2" fill="#404040" textLength="12.5" lengthAdjust="spacingAndGlyphs">H4</text>
<text x="1067" y="10.8" font-size="9.2" fill="#404040" textLength="12.5" lengthAdjust="spacingAndGlyphs">D1</text>
<text x="1095" y="10.8" font-size="9.2" fill="#404040" textLength="14.5" lengthAdjust="spacingAndGlyphs">W1</text>
<text x="1121.5" y="10.8" font-size="9.2" fill="#404040" textLength="15" lengthAdjust="spacingAndGlyphs">MN</text>
<circle cx="1614.7" cy="4.6" r="4" fill="#f2f4fa" stroke="#2a62d4" stroke-width="1.2"/>
<path d="M1612,7.6 L1608,11.4" stroke="#2a5ccc" stroke-width="2.2" stroke-linecap="round"/>
<defs><linearGradient id="gch" x1="0" y1="0" x2="0" y2="1"><stop offset="0" stop-color="#fdfdfd"/><stop offset="0.6" stop-color="#f0f0f4"/><stop offset="1" stop-color="#d0d0dc"/></linearGradient></defs>
<polygon points="1649,8.5 1650.5,11 1651.5,8" fill="#707070"/>
<ellipse cx="1647.4" cy="3.6" rx="6.4" ry="5.4" fill="url(#gch)" stroke="#9a9a9a" stroke-width="0.9"/>
<polygon points="1636,11.5 1635.8,14 1639,12.2" fill="#707070"/>
<ellipse cx="1638.4" cy="8.3" rx="5.3" ry="4.2" fill="url(#gch)" stroke="#909090" stroke-width="0.9"/>
</g>
</svg>
</body>
</html>
